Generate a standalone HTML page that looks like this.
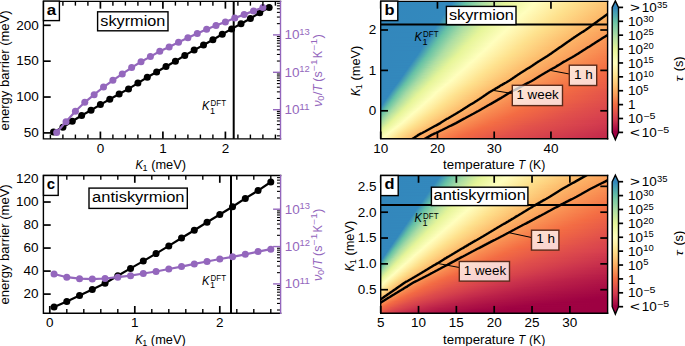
<!DOCTYPE html>
<html><head><meta charset="utf-8"><style>
html,body{margin:0;padding:0;background:#fff;}
svg{display:block;font-family:'Liberation Sans', sans-serif;}
</style></head><body>
<svg width="685" height="346" viewBox="0 0 685 346">
<defs><linearGradient id="b1"><stop offset="0.0000" stop-color="#3387bc"/><stop offset="0.3180" stop-color="#3389bd"/><stop offset="0.3794" stop-color="#66c2a5"/><stop offset="0.4276" stop-color="#94d4a4"/><stop offset="0.4737" stop-color="#b8e2a1"/><stop offset="0.5592" stop-color="#e7f59a"/><stop offset="0.6864" stop-color="#fffebe"/><stop offset="0.8421" stop-color="#fee491"/><stop offset="1.0000" stop-color="#fdc574"/></linearGradient>
<linearGradient id="b2"><stop offset="0.0000" stop-color="#3387bc"/><stop offset="0.3158" stop-color="#3389bd"/><stop offset="0.3772" stop-color="#69c3a5"/><stop offset="0.4561" stop-color="#aedea3"/><stop offset="0.5526" stop-color="#e6f598"/><stop offset="0.6798" stop-color="#ffffbe"/><stop offset="0.8531" stop-color="#fee18d"/><stop offset="1.0000" stop-color="#fdc372"/></linearGradient>
<linearGradient id="b3"><stop offset="0.0000" stop-color="#3387bc"/><stop offset="0.3114" stop-color="#3389bd"/><stop offset="0.3750" stop-color="#69c3a5"/><stop offset="0.4364" stop-color="#a2d9a4"/><stop offset="0.5088" stop-color="#d1ed9c"/><stop offset="0.5526" stop-color="#e7f59a"/><stop offset="0.6754" stop-color="#ffffbe"/><stop offset="0.8553" stop-color="#fee08b"/><stop offset="1.0000" stop-color="#fdc372"/></linearGradient>
<linearGradient id="b4"><stop offset="0.0000" stop-color="#3387bc"/><stop offset="0.3092" stop-color="#3389bd"/><stop offset="0.3706" stop-color="#66c2a5"/><stop offset="0.4232" stop-color="#99d6a4"/><stop offset="0.4890" stop-color="#c8e99e"/><stop offset="0.5482" stop-color="#e7f59a"/><stop offset="0.6711" stop-color="#ffffbe"/><stop offset="0.8421" stop-color="#fee18d"/><stop offset="1.0000" stop-color="#fdc171"/></linearGradient>
<linearGradient id="b5"><stop offset="0.0000" stop-color="#3387bc"/><stop offset="0.3070" stop-color="#3389bd"/><stop offset="0.3575" stop-color="#60bba8"/><stop offset="0.4013" stop-color="#89d0a4"/><stop offset="0.4671" stop-color="#bce4a0"/><stop offset="0.5417" stop-color="#e7f59a"/><stop offset="0.6689" stop-color="#fffebe"/><stop offset="0.8289" stop-color="#fee28f"/><stop offset="1.0000" stop-color="#fdbf6f"/></linearGradient>
<linearGradient id="b6"><stop offset="0.0000" stop-color="#3387bc"/><stop offset="0.3026" stop-color="#3389bd"/><stop offset="0.3640" stop-color="#66c2a5"/><stop offset="0.4167" stop-color="#99d6a4"/><stop offset="0.4671" stop-color="#bfe5a0"/><stop offset="0.5395" stop-color="#e7f59a"/><stop offset="0.6645" stop-color="#fffebe"/><stop offset="0.8158" stop-color="#fee491"/><stop offset="0.9803" stop-color="#fdc372"/><stop offset="1.0000" stop-color="#fdbf6f"/></linearGradient>
<linearGradient id="b7"><stop offset="0.0000" stop-color="#3387bc"/><stop offset="0.3004" stop-color="#3389bd"/><stop offset="0.3618" stop-color="#69c3a5"/><stop offset="0.4320" stop-color="#aadca4"/><stop offset="0.5219" stop-color="#e1f399"/><stop offset="0.5592" stop-color="#ecf7a1"/><stop offset="0.6601" stop-color="#fffebe"/><stop offset="0.8180" stop-color="#fee28f"/><stop offset="1.0000" stop-color="#fdbd6d"/></linearGradient>
<linearGradient id="b8"><stop offset="0.0000" stop-color="#3387bc"/><stop offset="0.2982" stop-color="#3389bd"/><stop offset="0.3553" stop-color="#66c2a5"/><stop offset="0.4254" stop-color="#a7dba4"/><stop offset="0.5088" stop-color="#ddf19a"/><stop offset="0.5351" stop-color="#e8f69b"/><stop offset="0.6535" stop-color="#fffebe"/><stop offset="0.8048" stop-color="#fee491"/><stop offset="0.9781" stop-color="#fdc171"/><stop offset="1.0000" stop-color="#fdbd6d"/></linearGradient>
<linearGradient id="b9"><stop offset="0.0000" stop-color="#3387bc"/><stop offset="0.2939" stop-color="#3389bd"/><stop offset="0.3553" stop-color="#69c3a5"/><stop offset="0.4211" stop-color="#a7dba4"/><stop offset="0.5132" stop-color="#e1f399"/><stop offset="0.5395" stop-color="#eaf79e"/><stop offset="0.6513" stop-color="#fffebe"/><stop offset="0.8070" stop-color="#fee28f"/><stop offset="0.9934" stop-color="#fdbd6d"/><stop offset="1.0000" stop-color="#fdbb6c"/></linearGradient>
<linearGradient id="b10"><stop offset="0.0000" stop-color="#3387bc"/><stop offset="0.2917" stop-color="#3389bd"/><stop offset="0.3509" stop-color="#69c3a5"/><stop offset="0.4145" stop-color="#a4daa4"/><stop offset="0.4956" stop-color="#daf09a"/><stop offset="0.5263" stop-color="#e8f69b"/><stop offset="0.6447" stop-color="#fffebe"/><stop offset="0.8004" stop-color="#fee28f"/><stop offset="0.9978" stop-color="#fdbb6c"/><stop offset="1.0000" stop-color="#fdbb6c"/></linearGradient>
<linearGradient id="b11"><stop offset="0.0000" stop-color="#3387bc"/><stop offset="0.2873" stop-color="#3389bd"/><stop offset="0.3465" stop-color="#66c2a5"/><stop offset="0.4013" stop-color="#9cd7a4"/><stop offset="0.4649" stop-color="#caea9e"/><stop offset="0.5175" stop-color="#e7f59a"/><stop offset="0.6382" stop-color="#fffebe"/><stop offset="0.8026" stop-color="#fee18d"/><stop offset="1.0000" stop-color="#fdb96a"/></linearGradient>
<linearGradient id="b12"><stop offset="0.0000" stop-color="#3387bc"/><stop offset="0.2851" stop-color="#3389bd"/><stop offset="0.3443" stop-color="#69c3a5"/><stop offset="0.4189" stop-color="#aedea3"/><stop offset="0.5110" stop-color="#e7f59a"/><stop offset="0.6338" stop-color="#fffebe"/><stop offset="0.7895" stop-color="#fee28f"/><stop offset="0.9825" stop-color="#fdbb6c"/><stop offset="1.0000" stop-color="#fdb768"/></linearGradient>
<linearGradient id="b13"><stop offset="0.0000" stop-color="#3387bc"/><stop offset="0.2807" stop-color="#3389bd"/><stop offset="0.3399" stop-color="#66c2a5"/><stop offset="0.3816" stop-color="#91d3a4"/><stop offset="0.4320" stop-color="#bae3a1"/><stop offset="0.5088" stop-color="#e7f59a"/><stop offset="0.6272" stop-color="#ffffbe"/><stop offset="0.7982" stop-color="#fee08b"/><stop offset="0.9978" stop-color="#fdb768"/><stop offset="1.0000" stop-color="#fdb768"/></linearGradient>
<linearGradient id="b14"><stop offset="0.0000" stop-color="#3387bc"/><stop offset="0.2785" stop-color="#3389bd"/><stop offset="0.3377" stop-color="#69c3a5"/><stop offset="0.3991" stop-color="#a4daa4"/><stop offset="0.4759" stop-color="#d8ef9b"/><stop offset="0.5044" stop-color="#e7f59a"/><stop offset="0.6228" stop-color="#fffebe"/><stop offset="0.7851" stop-color="#fee18d"/><stop offset="0.9934" stop-color="#fdb768"/><stop offset="1.0000" stop-color="#fdb567"/></linearGradient>
<linearGradient id="b15"><stop offset="0.0000" stop-color="#3387bc"/><stop offset="0.2763" stop-color="#3389bd"/><stop offset="0.3289" stop-color="#64c0a6"/><stop offset="0.4013" stop-color="#aadca4"/><stop offset="0.4956" stop-color="#e6f598"/><stop offset="0.6184" stop-color="#fffebe"/><stop offset="0.7807" stop-color="#fee18d"/><stop offset="0.9759" stop-color="#fdb96a"/><stop offset="1.0000" stop-color="#fdb567"/></linearGradient>
<linearGradient id="b16"><stop offset="0.0000" stop-color="#3387bc"/><stop offset="0.2719" stop-color="#3389bd"/><stop offset="0.3311" stop-color="#69c3a5"/><stop offset="0.4013" stop-color="#acdda4"/><stop offset="0.4912" stop-color="#e6f598"/><stop offset="0.6140" stop-color="#fffebe"/><stop offset="0.7675" stop-color="#fee28f"/><stop offset="0.9474" stop-color="#fdbd6d"/><stop offset="1.0000" stop-color="#fdb365"/></linearGradient>
<linearGradient id="b17"><stop offset="0.0000" stop-color="#3387bc"/><stop offset="0.2697" stop-color="#3389bd"/><stop offset="0.3268" stop-color="#66c2a5"/><stop offset="0.3794" stop-color="#9cd7a4"/><stop offset="0.4408" stop-color="#caea9e"/><stop offset="0.4934" stop-color="#e7f59a"/><stop offset="0.6096" stop-color="#fffebe"/><stop offset="0.7697" stop-color="#fee18d"/><stop offset="0.9737" stop-color="#fdb768"/><stop offset="1.0000" stop-color="#fdb163"/></linearGradient>
<linearGradient id="b18"><stop offset="0.0000" stop-color="#3387bc"/><stop offset="0.2675" stop-color="#3389bd"/><stop offset="0.3224" stop-color="#66c2a5"/><stop offset="0.3882" stop-color="#a7dba4"/><stop offset="0.4715" stop-color="#dff299"/><stop offset="0.4934" stop-color="#e8f69b"/><stop offset="0.6053" stop-color="#fffebe"/><stop offset="0.7566" stop-color="#fee28f"/><stop offset="0.9452" stop-color="#fdbb6c"/><stop offset="1.0000" stop-color="#fdb163"/></linearGradient>
<linearGradient id="b19"><stop offset="0.0000" stop-color="#3387bc"/><stop offset="0.2632" stop-color="#3389bd"/><stop offset="0.3224" stop-color="#69c3a5"/><stop offset="0.3816" stop-color="#a4daa4"/><stop offset="0.4561" stop-color="#d8ef9b"/><stop offset="0.4846" stop-color="#e7f59a"/><stop offset="0.6009" stop-color="#fffebe"/><stop offset="0.7588" stop-color="#fee18d"/><stop offset="0.9605" stop-color="#fdb768"/><stop offset="1.0000" stop-color="#fdaf62"/></linearGradient>
<linearGradient id="b20"><stop offset="0.0000" stop-color="#3387bc"/><stop offset="0.2610" stop-color="#3389bd"/><stop offset="0.3180" stop-color="#69c3a5"/><stop offset="0.3904" stop-color="#aedea3"/><stop offset="0.4781" stop-color="#e6f598"/><stop offset="0.5943" stop-color="#ffffbe"/><stop offset="0.7610" stop-color="#fee08b"/><stop offset="0.9342" stop-color="#fdbb6c"/><stop offset="1.0000" stop-color="#fdaf62"/></linearGradient>
<linearGradient id="b21"><stop offset="0.0000" stop-color="#3387bc"/><stop offset="0.2588" stop-color="#3389bd"/><stop offset="0.3136" stop-color="#66c2a5"/><stop offset="0.3684" stop-color="#9fd8a4"/><stop offset="0.4408" stop-color="#d3ed9c"/><stop offset="0.4781" stop-color="#e7f59a"/><stop offset="0.5899" stop-color="#ffffbe"/><stop offset="0.7632" stop-color="#fede89"/><stop offset="0.9496" stop-color="#fdb768"/><stop offset="1.0000" stop-color="#fdad60"/></linearGradient>
<linearGradient id="b22"><stop offset="0.0000" stop-color="#3387bc"/><stop offset="0.2566" stop-color="#3389bd"/><stop offset="0.3114" stop-color="#66c2a5"/><stop offset="0.3596" stop-color="#99d6a4"/><stop offset="0.4057" stop-color="#bfe5a0"/><stop offset="0.4715" stop-color="#e7f59a"/><stop offset="0.5877" stop-color="#fffebe"/><stop offset="0.7281" stop-color="#fee491"/><stop offset="0.8904" stop-color="#fdc171"/><stop offset="1.0000" stop-color="#fdad60"/></linearGradient>
<linearGradient id="b23"><stop offset="0.0000" stop-color="#3387bc"/><stop offset="0.2522" stop-color="#3389bd"/><stop offset="0.3114" stop-color="#6bc4a5"/><stop offset="0.3794" stop-color="#aedea3"/><stop offset="0.4671" stop-color="#e7f59a"/><stop offset="0.5833" stop-color="#fffebe"/><stop offset="0.7303" stop-color="#fee28f"/><stop offset="0.9364" stop-color="#fdb768"/><stop offset="1.0000" stop-color="#fcaa5f"/></linearGradient>
<linearGradient id="b24"><stop offset="0.0000" stop-color="#3387bc"/><stop offset="0.2500" stop-color="#3389bd"/><stop offset="0.3048" stop-color="#66c2a5"/><stop offset="0.3553" stop-color="#9cd7a4"/><stop offset="0.4298" stop-color="#d3ed9c"/><stop offset="0.4649" stop-color="#e7f59a"/><stop offset="0.5789" stop-color="#fffebe"/><stop offset="0.7259" stop-color="#fee28f"/><stop offset="0.8991" stop-color="#fdbd6d"/><stop offset="1.0000" stop-color="#fcaa5f"/></linearGradient>
<linearGradient id="b25"><stop offset="0.0000" stop-color="#3387bc"/><stop offset="0.2478" stop-color="#3389bd"/><stop offset="0.3048" stop-color="#6bc4a5"/><stop offset="0.3728" stop-color="#aedea3"/><stop offset="0.4583" stop-color="#e6f598"/><stop offset="0.5724" stop-color="#ffffbe"/><stop offset="0.7412" stop-color="#fede89"/><stop offset="0.9364" stop-color="#fdb567"/><stop offset="1.0000" stop-color="#fca85e"/></linearGradient>
<linearGradient id="b26"><stop offset="0.0000" stop-color="#3387bc"/><stop offset="0.2434" stop-color="#3387bc"/><stop offset="0.3026" stop-color="#6bc4a5"/><stop offset="0.3575" stop-color="#a4daa4"/><stop offset="0.4408" stop-color="#dff299"/><stop offset="0.4627" stop-color="#e8f69b"/><stop offset="0.5680" stop-color="#ffffbe"/><stop offset="0.7368" stop-color="#fede89"/><stop offset="0.9189" stop-color="#fdb768"/><stop offset="1.0000" stop-color="#fca85e"/></linearGradient>
<linearGradient id="b27"><stop offset="0.0000" stop-color="#3387bc"/><stop offset="0.2412" stop-color="#3389bd"/><stop offset="0.2961" stop-color="#69c3a5"/><stop offset="0.3684" stop-color="#b1dfa3"/><stop offset="0.4518" stop-color="#e7f59a"/><stop offset="0.5658" stop-color="#fffebe"/><stop offset="0.7149" stop-color="#fee18d"/><stop offset="0.9232" stop-color="#fdb567"/><stop offset="1.0000" stop-color="#fca55d"/></linearGradient>
<linearGradient id="b28"><stop offset="0.0000" stop-color="#3387bc"/><stop offset="0.2390" stop-color="#3389bd"/><stop offset="0.2961" stop-color="#6bc4a5"/><stop offset="0.3531" stop-color="#a7dba4"/><stop offset="0.4364" stop-color="#e1f399"/><stop offset="0.4627" stop-color="#eaf79e"/><stop offset="0.5592" stop-color="#ffffbe"/><stop offset="0.7193" stop-color="#fee08b"/><stop offset="0.9057" stop-color="#fdb768"/><stop offset="1.0000" stop-color="#fca55d"/></linearGradient>
<linearGradient id="b29"><stop offset="0.0000" stop-color="#3387bc"/><stop offset="0.2346" stop-color="#3387bc"/><stop offset="0.2873" stop-color="#66c2a5"/><stop offset="0.3443" stop-color="#a2d9a4"/><stop offset="0.4145" stop-color="#d6ee9b"/><stop offset="0.4452" stop-color="#e7f59a"/><stop offset="0.5548" stop-color="#fffebe"/><stop offset="0.7193" stop-color="#fede89"/><stop offset="0.9101" stop-color="#fdb567"/><stop offset="1.0000" stop-color="#fba35c"/></linearGradient>
<linearGradient id="b30"><stop offset="0.0000" stop-color="#3387bc"/><stop offset="0.2325" stop-color="#3389bd"/><stop offset="0.2895" stop-color="#6bc4a5"/><stop offset="0.3465" stop-color="#a7dba4"/><stop offset="0.4211" stop-color="#ddf19a"/><stop offset="0.4452" stop-color="#e8f69b"/><stop offset="0.5504" stop-color="#fffebe"/><stop offset="0.7083" stop-color="#fee08b"/><stop offset="0.8838" stop-color="#fdb96a"/><stop offset="1.0000" stop-color="#fba35c"/></linearGradient>
<linearGradient id="b31"><stop offset="0.0000" stop-color="#3387bc"/><stop offset="0.2303" stop-color="#3389bd"/><stop offset="0.2763" stop-color="#62bda7"/><stop offset="0.3004" stop-color="#7ccaa5"/><stop offset="0.3575" stop-color="#b3e0a2"/><stop offset="0.4342" stop-color="#e6f598"/><stop offset="0.5461" stop-color="#fffebe"/><stop offset="0.6886" stop-color="#fee28f"/><stop offset="0.8575" stop-color="#fdbd6d"/><stop offset="1.0000" stop-color="#fba05b"/></linearGradient>
<linearGradient id="b32"><stop offset="0.0000" stop-color="#3387bc"/><stop offset="0.2259" stop-color="#3387bc"/><stop offset="0.2763" stop-color="#64c0a6"/><stop offset="0.3333" stop-color="#a2d9a4"/><stop offset="0.3991" stop-color="#d3ed9c"/><stop offset="0.4342" stop-color="#e7f59a"/><stop offset="0.5417" stop-color="#fffebe"/><stop offset="0.6952" stop-color="#fee08b"/><stop offset="0.8816" stop-color="#fdb768"/><stop offset="1.0000" stop-color="#fb9d59"/></linearGradient>
<linearGradient id="b33"><stop offset="0.0000" stop-color="#3387bc"/><stop offset="0.2237" stop-color="#3389bd"/><stop offset="0.2741" stop-color="#64c0a6"/><stop offset="0.3136" stop-color="#91d3a4"/><stop offset="0.3618" stop-color="#bce4a0"/><stop offset="0.4276" stop-color="#e7f59a"/><stop offset="0.5373" stop-color="#fffebe"/><stop offset="0.6842" stop-color="#fee18d"/><stop offset="0.8838" stop-color="#fdb567"/><stop offset="1.0000" stop-color="#fb9d59"/></linearGradient>
<linearGradient id="b34"><stop offset="0.0000" stop-color="#3387bc"/><stop offset="0.2215" stop-color="#3389bd"/><stop offset="0.2719" stop-color="#66c2a5"/><stop offset="0.3180" stop-color="#99d6a4"/><stop offset="0.3640" stop-color="#c1e6a0"/><stop offset="0.4232" stop-color="#e7f59a"/><stop offset="0.5329" stop-color="#fffebe"/><stop offset="0.6711" stop-color="#fee28f"/><stop offset="0.8377" stop-color="#fdbd6d"/><stop offset="0.9912" stop-color="#fb9d59"/><stop offset="1.0000" stop-color="#fa9b58"/></linearGradient>
<linearGradient id="b35"><stop offset="0.0000" stop-color="#3387bc"/><stop offset="0.2171" stop-color="#3389bd"/><stop offset="0.2697" stop-color="#69c3a5"/><stop offset="0.3333" stop-color="#acdda4"/><stop offset="0.4167" stop-color="#e6f598"/><stop offset="0.5263" stop-color="#fffebe"/><stop offset="0.6732" stop-color="#fee18d"/><stop offset="0.8509" stop-color="#fdb96a"/><stop offset="1.0000" stop-color="#fa9b58"/></linearGradient>
<linearGradient id="b36"><stop offset="0.0000" stop-color="#3387bc"/><stop offset="0.2149" stop-color="#3389bd"/><stop offset="0.2654" stop-color="#66c2a5"/><stop offset="0.3158" stop-color="#9fd8a4"/><stop offset="0.3728" stop-color="#cdeb9d"/><stop offset="0.4167" stop-color="#e7f59a"/><stop offset="0.5219" stop-color="#fffebe"/><stop offset="0.6601" stop-color="#fee28f"/><stop offset="0.8246" stop-color="#fdbd6d"/><stop offset="0.9781" stop-color="#fb9d59"/><stop offset="1.0000" stop-color="#fa9857"/></linearGradient>
<linearGradient id="b37"><stop offset="0.0000" stop-color="#3387bc"/><stop offset="0.2105" stop-color="#3387bc"/><stop offset="0.2632" stop-color="#69c3a5"/><stop offset="0.3289" stop-color="#aedea3"/><stop offset="0.4101" stop-color="#e7f59a"/><stop offset="0.5175" stop-color="#fffebe"/><stop offset="0.6535" stop-color="#fee28f"/><stop offset="0.8355" stop-color="#fdb96a"/><stop offset="1.0000" stop-color="#fa9857"/></linearGradient>
<linearGradient id="b38"><stop offset="0.0000" stop-color="#3387bc"/><stop offset="0.2083" stop-color="#3389bd"/><stop offset="0.2588" stop-color="#66c2a5"/><stop offset="0.2982" stop-color="#94d4a4"/><stop offset="0.3399" stop-color="#bae3a1"/><stop offset="0.4057" stop-color="#e7f59a"/><stop offset="0.5132" stop-color="#fffebe"/><stop offset="0.6491" stop-color="#fee28f"/><stop offset="0.8114" stop-color="#fdbd6d"/><stop offset="0.9518" stop-color="#fba05b"/><stop offset="1.0000" stop-color="#fa9656"/></linearGradient>
<linearGradient id="b39"><stop offset="0.0000" stop-color="#3387bc"/><stop offset="0.2061" stop-color="#3389bd"/><stop offset="0.2566" stop-color="#69c3a5"/><stop offset="0.3158" stop-color="#aadca4"/><stop offset="0.4013" stop-color="#e7f59a"/><stop offset="0.5088" stop-color="#fffebe"/><stop offset="0.6425" stop-color="#fee28f"/><stop offset="0.8224" stop-color="#fdb96a"/><stop offset="0.9956" stop-color="#fa9656"/><stop offset="1.0000" stop-color="#f99355"/></linearGradient>
<linearGradient id="b40"><stop offset="0.0000" stop-color="#3387bc"/><stop offset="0.2018" stop-color="#3387bc"/><stop offset="0.2522" stop-color="#66c2a5"/><stop offset="0.3070" stop-color="#a4daa4"/><stop offset="0.3772" stop-color="#daf09a"/><stop offset="0.4035" stop-color="#e8f69b"/><stop offset="0.5044" stop-color="#fffebe"/><stop offset="0.6250" stop-color="#fee593"/><stop offset="0.7610" stop-color="#fdc574"/><stop offset="0.9232" stop-color="#fba35c"/><stop offset="1.0000" stop-color="#f99355"/></linearGradient>
<linearGradient id="b41"><stop offset="0.0000" stop-color="#3387bc"/><stop offset="0.1996" stop-color="#3389bd"/><stop offset="0.2522" stop-color="#6bc4a5"/><stop offset="0.3114" stop-color="#acdda4"/><stop offset="0.3947" stop-color="#e7f59a"/><stop offset="0.4978" stop-color="#fffebe"/><stop offset="0.6447" stop-color="#fee08b"/><stop offset="0.8224" stop-color="#fdb768"/><stop offset="0.9956" stop-color="#f99355"/><stop offset="1.0000" stop-color="#f99153"/></linearGradient>
<linearGradient id="b42"><stop offset="0.0000" stop-color="#3387bc"/><stop offset="0.1974" stop-color="#3389bd"/><stop offset="0.2456" stop-color="#66c2a5"/><stop offset="0.3026" stop-color="#a7dba4"/><stop offset="0.3794" stop-color="#e1f399"/><stop offset="0.3991" stop-color="#e9f69d"/><stop offset="0.4934" stop-color="#fffebe"/><stop offset="0.6272" stop-color="#fee28f"/><stop offset="0.7939" stop-color="#fdbb6c"/><stop offset="0.9474" stop-color="#fa9b58"/><stop offset="1.0000" stop-color="#f99153"/></linearGradient>
<linearGradient id="b43"><stop offset="0.0000" stop-color="#3387bc"/><stop offset="0.1930" stop-color="#3387bc"/><stop offset="0.2346" stop-color="#5eb9a9"/><stop offset="0.2566" stop-color="#76c8a5"/><stop offset="0.2961" stop-color="#a4daa4"/><stop offset="0.3618" stop-color="#d8ef9b"/><stop offset="0.3882" stop-color="#e7f59a"/><stop offset="0.4868" stop-color="#ffffbe"/><stop offset="0.6404" stop-color="#fede89"/><stop offset="0.8268" stop-color="#fdb365"/><stop offset="1.0000" stop-color="#f98e52"/></linearGradient>
<linearGradient id="b44"><stop offset="0.0000" stop-color="#3387bc"/><stop offset="0.1908" stop-color="#3389bd"/><stop offset="0.2412" stop-color="#69c3a5"/><stop offset="0.3004" stop-color="#acdda4"/><stop offset="0.3816" stop-color="#e7f59a"/><stop offset="0.4846" stop-color="#fffebe"/><stop offset="0.6228" stop-color="#fee18d"/><stop offset="0.8026" stop-color="#fdb768"/><stop offset="0.9846" stop-color="#f99153"/><stop offset="1.0000" stop-color="#f98e52"/></linearGradient>
<linearGradient id="b45"><stop offset="0.0000" stop-color="#3387bc"/><stop offset="0.1886" stop-color="#3389bd"/><stop offset="0.2346" stop-color="#64c0a6"/><stop offset="0.2917" stop-color="#a7dba4"/><stop offset="0.3706" stop-color="#e4f498"/><stop offset="0.4825" stop-color="#fffebe"/><stop offset="0.6096" stop-color="#fee28f"/><stop offset="0.7873" stop-color="#fdb96a"/><stop offset="0.9408" stop-color="#fa9857"/><stop offset="1.0000" stop-color="#f88c51"/></linearGradient>
<linearGradient id="b46"><stop offset="0.0000" stop-color="#3387bc"/><stop offset="0.1842" stop-color="#3387bc"/><stop offset="0.2215" stop-color="#5ab4ab"/><stop offset="0.2368" stop-color="#6bc4a5"/><stop offset="0.2939" stop-color="#acdda4"/><stop offset="0.3706" stop-color="#e6f598"/><stop offset="0.4759" stop-color="#fffebe"/><stop offset="0.6053" stop-color="#fee28f"/><stop offset="0.7719" stop-color="#fdbb6c"/><stop offset="0.9211" stop-color="#fa9b58"/><stop offset="1.0000" stop-color="#f88c51"/></linearGradient>
<linearGradient id="b47"><stop offset="0.0000" stop-color="#3387bc"/><stop offset="0.1820" stop-color="#3389bd"/><stop offset="0.2303" stop-color="#66c2a5"/><stop offset="0.2851" stop-color="#a7dba4"/><stop offset="0.3531" stop-color="#ddf19a"/><stop offset="0.3750" stop-color="#e8f69b"/><stop offset="0.4715" stop-color="#fffebe"/><stop offset="0.5943" stop-color="#fee491"/><stop offset="0.7456" stop-color="#fdbf6f"/><stop offset="0.8904" stop-color="#fba05b"/><stop offset="1.0000" stop-color="#f88950"/></linearGradient>
<linearGradient id="b48"><stop offset="0.0000" stop-color="#3387bc"/><stop offset="0.1798" stop-color="#3389bd"/><stop offset="0.2281" stop-color="#69c3a5"/><stop offset="0.2895" stop-color="#aedea3"/><stop offset="0.3640" stop-color="#e6f598"/><stop offset="0.4649" stop-color="#ffffbe"/><stop offset="0.6075" stop-color="#fee08b"/><stop offset="0.7785" stop-color="#fdb768"/><stop offset="0.9715" stop-color="#f98e52"/><stop offset="1.0000" stop-color="#f88950"/></linearGradient>
<linearGradient id="b49"><stop offset="0.0000" stop-color="#3387bc"/><stop offset="0.1776" stop-color="#3389bd"/><stop offset="0.2237" stop-color="#66c2a5"/><stop offset="0.2807" stop-color="#aadca4"/><stop offset="0.3553" stop-color="#e4f498"/><stop offset="0.4627" stop-color="#fffebe"/><stop offset="0.5899" stop-color="#fee28f"/><stop offset="0.7632" stop-color="#fdb96a"/><stop offset="0.9123" stop-color="#fa9857"/><stop offset="1.0000" stop-color="#f8864f"/></linearGradient>
<linearGradient id="b50"><stop offset="0.0000" stop-color="#3387bc"/><stop offset="0.1732" stop-color="#3387bc"/><stop offset="0.2149" stop-color="#60bba8"/><stop offset="0.2390" stop-color="#7ecca5"/><stop offset="0.2851" stop-color="#b1dfa3"/><stop offset="0.3575" stop-color="#e7f59a"/><stop offset="0.4583" stop-color="#fffebe"/><stop offset="0.5855" stop-color="#fee28f"/><stop offset="0.7544" stop-color="#fdb96a"/><stop offset="0.9298" stop-color="#f99355"/><stop offset="1.0000" stop-color="#f8864f"/></linearGradient>
<linearGradient id="b51"><stop offset="0.0000" stop-color="#3387bc"/><stop offset="0.1711" stop-color="#3389bd"/><stop offset="0.2171" stop-color="#66c2a5"/><stop offset="0.2763" stop-color="#acdda4"/><stop offset="0.3531" stop-color="#e7f59a"/><stop offset="0.4539" stop-color="#fffebe"/><stop offset="0.5789" stop-color="#fee28f"/><stop offset="0.7412" stop-color="#fdbb6c"/><stop offset="0.8750" stop-color="#fb9d59"/><stop offset="1.0000" stop-color="#f7844e"/></linearGradient>
<linearGradient id="b52"><stop offset="0.0000" stop-color="#3387bc"/><stop offset="0.1689" stop-color="#3389bd"/><stop offset="0.2105" stop-color="#62bda7"/><stop offset="0.2478" stop-color="#91d3a4"/><stop offset="0.2939" stop-color="#bfe5a0"/><stop offset="0.3509" stop-color="#e7f59a"/><stop offset="0.4474" stop-color="#fffebe"/><stop offset="0.5746" stop-color="#fee28f"/><stop offset="0.7259" stop-color="#fdbd6d"/><stop offset="0.8553" stop-color="#fba05b"/><stop offset="1.0000" stop-color="#f7844e"/></linearGradient>
<linearGradient id="b53"><stop offset="0.0000" stop-color="#3387bc"/><stop offset="0.1645" stop-color="#3389bd"/><stop offset="0.2127" stop-color="#69c3a5"/><stop offset="0.2741" stop-color="#b1dfa3"/><stop offset="0.3443" stop-color="#e6f598"/><stop offset="0.4408" stop-color="#ffffbe"/><stop offset="0.5811" stop-color="#fee08b"/><stop offset="0.7368" stop-color="#fdb96a"/><stop offset="0.8969" stop-color="#fa9656"/><stop offset="1.0000" stop-color="#f7814c"/></linearGradient>
<linearGradient id="b54"><stop offset="0.0000" stop-color="#3387bc"/><stop offset="0.1623" stop-color="#3389bd"/><stop offset="0.2061" stop-color="#64c0a6"/><stop offset="0.2654" stop-color="#acdda4"/><stop offset="0.3399" stop-color="#e6f598"/><stop offset="0.4364" stop-color="#ffffbe"/><stop offset="0.5811" stop-color="#fede89"/><stop offset="0.7478" stop-color="#fdb567"/><stop offset="0.9671" stop-color="#f8864f"/><stop offset="1.0000" stop-color="#f7814c"/></linearGradient>
<linearGradient id="b55"><stop offset="0.0000" stop-color="#3387bc"/><stop offset="0.1601" stop-color="#3389bd"/><stop offset="0.1952" stop-color="#5cb7aa"/><stop offset="0.2083" stop-color="#6bc4a5"/><stop offset="0.2654" stop-color="#aedea3"/><stop offset="0.3355" stop-color="#e6f598"/><stop offset="0.4320" stop-color="#ffffbe"/><stop offset="0.5636" stop-color="#fee18d"/><stop offset="0.7325" stop-color="#fdb768"/><stop offset="0.9189" stop-color="#f98e52"/><stop offset="1.0000" stop-color="#f67f4b"/></linearGradient>
<linearGradient id="b56"><stop offset="0.0000" stop-color="#3387bc"/><stop offset="0.1557" stop-color="#3389bd"/><stop offset="0.2018" stop-color="#66c2a5"/><stop offset="0.2588" stop-color="#acdda4"/><stop offset="0.3311" stop-color="#e6f598"/><stop offset="0.4276" stop-color="#ffffbe"/><stop offset="0.5636" stop-color="#fee08b"/><stop offset="0.7346" stop-color="#fdb567"/><stop offset="0.9386" stop-color="#f88950"/><stop offset="1.0000" stop-color="#f67c4a"/></linearGradient>
<linearGradient id="b57"><stop offset="0.0000" stop-color="#3387bc"/><stop offset="0.1535" stop-color="#3389bd"/><stop offset="0.1974" stop-color="#66c2a5"/><stop offset="0.2544" stop-color="#acdda4"/><stop offset="0.3268" stop-color="#e6f598"/><stop offset="0.4232" stop-color="#fffebe"/><stop offset="0.5461" stop-color="#fee28f"/><stop offset="0.6930" stop-color="#fdbd6d"/><stop offset="0.8202" stop-color="#fba05b"/><stop offset="0.9737" stop-color="#f7814c"/><stop offset="1.0000" stop-color="#f67c4a"/></linearGradient>
<linearGradient id="b58"><stop offset="0.0000" stop-color="#3387bc"/><stop offset="0.1491" stop-color="#3389bd"/><stop offset="0.1952" stop-color="#69c3a5"/><stop offset="0.2544" stop-color="#aedea3"/><stop offset="0.3114" stop-color="#dff299"/><stop offset="0.3289" stop-color="#e8f69b"/><stop offset="0.4189" stop-color="#fffebe"/><stop offset="0.5395" stop-color="#fee28f"/><stop offset="0.6864" stop-color="#fdbd6d"/><stop offset="0.8026" stop-color="#fba35c"/><stop offset="0.9627" stop-color="#f7814c"/><stop offset="1.0000" stop-color="#f67a49"/></linearGradient>
<linearGradient id="b59"><stop offset="0.0000" stop-color="#3387bc"/><stop offset="0.1469" stop-color="#3389bd"/><stop offset="0.1908" stop-color="#66c2a5"/><stop offset="0.2478" stop-color="#acdda4"/><stop offset="0.3070" stop-color="#dff299"/><stop offset="0.3246" stop-color="#e8f69b"/><stop offset="0.4123" stop-color="#ffffbe"/><stop offset="0.5461" stop-color="#fee08b"/><stop offset="0.7127" stop-color="#fdb567"/><stop offset="0.9145" stop-color="#f88950"/><stop offset="1.0000" stop-color="#f67a49"/></linearGradient>
<linearGradient id="b60"><stop offset="0.0000" stop-color="#3387bc"/><stop offset="0.1425" stop-color="#3387bc"/><stop offset="0.1776" stop-color="#5cb7aa"/><stop offset="0.1908" stop-color="#6bc4a5"/><stop offset="0.2434" stop-color="#acdda4"/><stop offset="0.3026" stop-color="#dff299"/><stop offset="0.3202" stop-color="#e8f69b"/><stop offset="0.4079" stop-color="#fffebe"/><stop offset="0.5395" stop-color="#fee08b"/><stop offset="0.7061" stop-color="#fdb567"/><stop offset="0.9057" stop-color="#f88950"/><stop offset="1.0000" stop-color="#f57748"/></linearGradient>
<linearGradient id="b61"><stop offset="0.0000" stop-color="#3387bc"/><stop offset="0.1404" stop-color="#3389bd"/><stop offset="0.1798" stop-color="#62bda7"/><stop offset="0.2193" stop-color="#97d5a4"/><stop offset="0.2632" stop-color="#c3e79f"/><stop offset="0.3114" stop-color="#e7f59a"/><stop offset="0.4035" stop-color="#fffebe"/><stop offset="0.5219" stop-color="#fee28f"/><stop offset="0.6732" stop-color="#fdbb6c"/><stop offset="0.8004" stop-color="#fb9d59"/><stop offset="0.9649" stop-color="#f67c4a"/><stop offset="1.0000" stop-color="#f57748"/></linearGradient>
<linearGradient id="b62"><stop offset="0.0000" stop-color="#3387bc"/><stop offset="0.1360" stop-color="#3387bc"/><stop offset="0.1776" stop-color="#64c0a6"/><stop offset="0.2412" stop-color="#b3e0a2"/><stop offset="0.3048" stop-color="#e6f598"/><stop offset="0.3969" stop-color="#ffffbe"/><stop offset="0.5219" stop-color="#fee18d"/><stop offset="0.6754" stop-color="#fdb96a"/><stop offset="0.8136" stop-color="#fa9857"/><stop offset="0.9737" stop-color="#f67a49"/><stop offset="1.0000" stop-color="#f57547"/></linearGradient>
<linearGradient id="b63"><stop offset="0.0000" stop-color="#3387bc"/><stop offset="0.1338" stop-color="#3389bd"/><stop offset="0.1776" stop-color="#69c3a5"/><stop offset="0.2325" stop-color="#acdda4"/><stop offset="0.2807" stop-color="#d8ef9b"/><stop offset="0.3026" stop-color="#e7f59a"/><stop offset="0.3925" stop-color="#fffebe"/><stop offset="0.5219" stop-color="#fee08b"/><stop offset="0.6689" stop-color="#fdb96a"/><stop offset="0.8070" stop-color="#fa9857"/><stop offset="0.9803" stop-color="#f57748"/><stop offset="1.0000" stop-color="#f57245"/></linearGradient>
<linearGradient id="b64"><stop offset="0.0000" stop-color="#3387bc"/><stop offset="0.1316" stop-color="#3389bd"/><stop offset="0.1732" stop-color="#66c2a5"/><stop offset="0.2127" stop-color="#9cd7a4"/><stop offset="0.2675" stop-color="#d1ed9c"/><stop offset="0.2982" stop-color="#e7f59a"/><stop offset="0.3882" stop-color="#fffebe"/><stop offset="0.5044" stop-color="#fee28f"/><stop offset="0.6535" stop-color="#fdbb6c"/><stop offset="0.7785" stop-color="#fb9d59"/><stop offset="0.9145" stop-color="#f7814c"/><stop offset="1.0000" stop-color="#f57245"/></linearGradient>
<linearGradient id="b65"><stop offset="0.0000" stop-color="#3387bc"/><stop offset="0.1272" stop-color="#3387bc"/><stop offset="0.1645" stop-color="#60bba8"/><stop offset="0.1754" stop-color="#6ec5a5"/><stop offset="0.2325" stop-color="#b5e1a2"/><stop offset="0.2939" stop-color="#e7f59a"/><stop offset="0.3838" stop-color="#fffebe"/><stop offset="0.4934" stop-color="#fee491"/><stop offset="0.6228" stop-color="#fdc171"/><stop offset="0.7500" stop-color="#fba35c"/><stop offset="0.8925" stop-color="#f7844e"/><stop offset="1.0000" stop-color="#f47044"/></linearGradient>
<linearGradient id="b66"><stop offset="0.0000" stop-color="#3387bc"/><stop offset="0.1250" stop-color="#3389bd"/><stop offset="0.1667" stop-color="#66c2a5"/><stop offset="0.2171" stop-color="#aadca4"/><stop offset="0.2829" stop-color="#e4f498"/><stop offset="0.3794" stop-color="#fffebe"/><stop offset="0.4934" stop-color="#fee28f"/><stop offset="0.6404" stop-color="#fdbb6c"/><stop offset="0.7741" stop-color="#fa9b58"/><stop offset="0.9386" stop-color="#f67a49"/><stop offset="1.0000" stop-color="#f47044"/></linearGradient>
<linearGradient id="b67"><stop offset="0.0000" stop-color="#3387bc"/><stop offset="0.1206" stop-color="#3387bc"/><stop offset="0.1645" stop-color="#69c3a5"/><stop offset="0.2325" stop-color="#bce4a0"/><stop offset="0.2851" stop-color="#e7f59a"/><stop offset="0.3750" stop-color="#fffebe"/><stop offset="0.4825" stop-color="#fee491"/><stop offset="0.6250" stop-color="#fdbd6d"/><stop offset="0.7566" stop-color="#fb9d59"/><stop offset="0.9167" stop-color="#f67c4a"/><stop offset="1.0000" stop-color="#f46d43"/></linearGradient>
<linearGradient id="b68"><stop offset="0.0000" stop-color="#3387bc"/><stop offset="0.1184" stop-color="#3389bd"/><stop offset="0.1601" stop-color="#66c2a5"/><stop offset="0.2039" stop-color="#a2d9a4"/><stop offset="0.2522" stop-color="#d1ed9c"/><stop offset="0.2829" stop-color="#e7f59a"/><stop offset="0.3684" stop-color="#fffebe"/><stop offset="0.4934" stop-color="#fee08b"/><stop offset="0.6360" stop-color="#fdb96a"/><stop offset="0.7807" stop-color="#fa9656"/><stop offset="0.9539" stop-color="#f57547"/><stop offset="1.0000" stop-color="#f46d43"/></linearGradient>
<linearGradient id="b69"><stop offset="0.0000" stop-color="#3387bc"/><stop offset="0.1162" stop-color="#3389bd"/><stop offset="0.1579" stop-color="#69c3a5"/><stop offset="0.2105" stop-color="#aedea3"/><stop offset="0.2763" stop-color="#e7f59a"/><stop offset="0.3640" stop-color="#fffebe"/><stop offset="0.4759" stop-color="#fee28f"/><stop offset="0.6206" stop-color="#fdbb6c"/><stop offset="0.7412" stop-color="#fb9d59"/><stop offset="0.8860" stop-color="#f67f4b"/><stop offset="1.0000" stop-color="#f36b43"/></linearGradient>
<linearGradient id="b70"><stop offset="0.0000" stop-color="#3387bc"/><stop offset="0.1118" stop-color="#3387bc"/><stop offset="0.1513" stop-color="#64c0a6"/><stop offset="0.1974" stop-color="#a4daa4"/><stop offset="0.2632" stop-color="#e1f399"/><stop offset="0.2851" stop-color="#ebf7a0"/><stop offset="0.3596" stop-color="#fffebe"/><stop offset="0.4649" stop-color="#fee491"/><stop offset="0.5899" stop-color="#fdc171"/><stop offset="0.7127" stop-color="#fba35c"/><stop offset="0.8509" stop-color="#f7844e"/><stop offset="1.0000" stop-color="#f36b43"/></linearGradient>
<linearGradient id="b71"><stop offset="0.0000" stop-color="#3387bc"/><stop offset="0.1096" stop-color="#3389bd"/><stop offset="0.1513" stop-color="#69c3a5"/><stop offset="0.1952" stop-color="#a4daa4"/><stop offset="0.2368" stop-color="#cfec9d"/><stop offset="0.2697" stop-color="#e7f59a"/><stop offset="0.3531" stop-color="#fffebe"/><stop offset="0.4649" stop-color="#fee28f"/><stop offset="0.6228" stop-color="#fdb768"/><stop offset="0.8026" stop-color="#f88c51"/><stop offset="0.9846" stop-color="#f36b43"/><stop offset="1.0000" stop-color="#f26944"/></linearGradient>
<linearGradient id="b72"><stop offset="0.0000" stop-color="#3387bc"/><stop offset="0.1053" stop-color="#3387bc"/><stop offset="0.1469" stop-color="#69c3a5"/><stop offset="0.1996" stop-color="#aedea3"/><stop offset="0.2544" stop-color="#e1f399"/><stop offset="0.2763" stop-color="#ebf7a0"/><stop offset="0.3487" stop-color="#fffebe"/><stop offset="0.4693" stop-color="#fee08b"/><stop offset="0.6162" stop-color="#fdb768"/><stop offset="0.7719" stop-color="#f99153"/><stop offset="0.9189" stop-color="#f57547"/><stop offset="1.0000" stop-color="#f26944"/></linearGradient>
<linearGradient id="b73"><stop offset="0.0000" stop-color="#3387bc"/><stop offset="0.1031" stop-color="#3389bd"/><stop offset="0.1425" stop-color="#66c2a5"/><stop offset="0.1908" stop-color="#aadca4"/><stop offset="0.2500" stop-color="#e1f399"/><stop offset="0.2719" stop-color="#ebf7a0"/><stop offset="0.3443" stop-color="#fffebe"/><stop offset="0.4474" stop-color="#fee491"/><stop offset="0.5768" stop-color="#fdbf6f"/><stop offset="0.6996" stop-color="#fba05b"/><stop offset="0.8509" stop-color="#f67f4b"/><stop offset="0.9803" stop-color="#f26944"/><stop offset="1.0000" stop-color="#f06744"/></linearGradient>
<linearGradient id="b74"><stop offset="0.0000" stop-color="#3387bc"/><stop offset="0.1009" stop-color="#3389bd"/><stop offset="0.1360" stop-color="#62bda7"/><stop offset="0.1776" stop-color="#9cd7a4"/><stop offset="0.2346" stop-color="#d8ef9b"/><stop offset="0.2588" stop-color="#e8f69b"/><stop offset="0.3377" stop-color="#ffffbe"/><stop offset="0.4474" stop-color="#fee28f"/><stop offset="0.5943" stop-color="#fdb96a"/><stop offset="0.7325" stop-color="#fa9656"/><stop offset="0.9298" stop-color="#f47044"/><stop offset="1.0000" stop-color="#f06744"/></linearGradient>
<linearGradient id="b75"><stop offset="0.0000" stop-color="#3387bc"/><stop offset="0.0965" stop-color="#3387bc"/><stop offset="0.1294" stop-color="#5eb9a9"/><stop offset="0.1447" stop-color="#74c7a5"/><stop offset="0.1864" stop-color="#acdda4"/><stop offset="0.2390" stop-color="#dff299"/><stop offset="0.2566" stop-color="#e9f69d"/><stop offset="0.3355" stop-color="#fffebe"/><stop offset="0.4364" stop-color="#fee491"/><stop offset="0.5570" stop-color="#fdc171"/><stop offset="0.6754" stop-color="#fba35c"/><stop offset="0.8224" stop-color="#f7814c"/><stop offset="0.9605" stop-color="#f26944"/><stop offset="1.0000" stop-color="#ef6645"/></linearGradient>
<linearGradient id="b76"><stop offset="0.0000" stop-color="#3387bc"/><stop offset="0.0943" stop-color="#3389bd"/><stop offset="0.1338" stop-color="#69c3a5"/><stop offset="0.1842" stop-color="#aedea3"/><stop offset="0.2434" stop-color="#e6f598"/><stop offset="0.3289" stop-color="#fffebe"/><stop offset="0.4364" stop-color="#fee28f"/><stop offset="0.5965" stop-color="#fdb567"/><stop offset="0.7654" stop-color="#f88c51"/><stop offset="0.9145" stop-color="#f47044"/><stop offset="1.0000" stop-color="#ee6445"/></linearGradient>
<linearGradient id="b77"><stop offset="0.0000" stop-color="#3387bc"/><stop offset="0.0899" stop-color="#3387bc"/><stop offset="0.1294" stop-color="#66c2a5"/><stop offset="0.1667" stop-color="#9cd7a4"/><stop offset="0.2281" stop-color="#ddf19a"/><stop offset="0.2456" stop-color="#e8f69b"/><stop offset="0.3246" stop-color="#fffebe"/><stop offset="0.4254" stop-color="#fee491"/><stop offset="0.5439" stop-color="#fdc171"/><stop offset="0.6623" stop-color="#fba35c"/><stop offset="0.8070" stop-color="#f7814c"/><stop offset="0.9364" stop-color="#f36b43"/><stop offset="1.0000" stop-color="#ee6445"/></linearGradient>
<linearGradient id="b78"><stop offset="0.0000" stop-color="#3387bc"/><stop offset="0.0877" stop-color="#3387bc"/><stop offset="0.1228" stop-color="#62bda7"/><stop offset="0.1689" stop-color="#a4daa4"/><stop offset="0.2215" stop-color="#daf09a"/><stop offset="0.2412" stop-color="#e8f69b"/><stop offset="0.3202" stop-color="#fffebe"/><stop offset="0.4254" stop-color="#fee28f"/><stop offset="0.5526" stop-color="#fdbd6d"/><stop offset="0.6820" stop-color="#fa9b58"/><stop offset="0.8509" stop-color="#f57748"/><stop offset="0.9474" stop-color="#f26944"/><stop offset="1.0000" stop-color="#ed6246"/></linearGradient>
<linearGradient id="b79"><stop offset="0.0000" stop-color="#3387bc"/><stop offset="0.0855" stop-color="#3389bd"/><stop offset="0.1228" stop-color="#66c2a5"/><stop offset="0.1557" stop-color="#97d5a4"/><stop offset="0.1886" stop-color="#bfe5a0"/><stop offset="0.2346" stop-color="#e7f59a"/><stop offset="0.3136" stop-color="#ffffbe"/><stop offset="0.4145" stop-color="#fee491"/><stop offset="0.5439" stop-color="#fdbd6d"/><stop offset="0.6667" stop-color="#fb9d59"/><stop offset="0.8158" stop-color="#f67c4a"/><stop offset="0.9298" stop-color="#f26944"/><stop offset="1.0000" stop-color="#ed6246"/></linearGradient>
<linearGradient id="b80"><stop offset="0.0000" stop-color="#3387bc"/><stop offset="0.0811" stop-color="#3387bc"/><stop offset="0.1206" stop-color="#69c3a5"/><stop offset="0.1623" stop-color="#a4daa4"/><stop offset="0.1908" stop-color="#c3e79f"/><stop offset="0.2303" stop-color="#e7f59a"/><stop offset="0.3092" stop-color="#ffffbe"/><stop offset="0.4189" stop-color="#fee18d"/><stop offset="0.5702" stop-color="#fdb567"/><stop offset="0.7346" stop-color="#f88c51"/><stop offset="0.8947" stop-color="#f46d43"/><stop offset="1.0000" stop-color="#eb6046"/></linearGradient>
<linearGradient id="b81"><stop offset="0.0000" stop-color="#3387bc"/><stop offset="0.0789" stop-color="#3389bd"/><stop offset="0.1184" stop-color="#6bc4a5"/><stop offset="0.1623" stop-color="#aadca4"/><stop offset="0.2193" stop-color="#e4f498"/><stop offset="0.3070" stop-color="#fffebe"/><stop offset="0.3925" stop-color="#fee695"/><stop offset="0.4825" stop-color="#feca79"/><stop offset="0.6206" stop-color="#fca55d"/><stop offset="0.7873" stop-color="#f67f4b"/><stop offset="0.9013" stop-color="#f36b43"/><stop offset="1.0000" stop-color="#eb6046"/></linearGradient>
<linearGradient id="b82"><stop offset="0.0000" stop-color="#3387bc"/><stop offset="0.0746" stop-color="#3387bc"/><stop offset="0.1118" stop-color="#66c2a5"/><stop offset="0.1579" stop-color="#aadca4"/><stop offset="0.2149" stop-color="#e4f498"/><stop offset="0.3004" stop-color="#fffebe"/><stop offset="0.4123" stop-color="#fee08b"/><stop offset="0.5461" stop-color="#fdb768"/><stop offset="0.7281" stop-color="#f88950"/><stop offset="0.8860" stop-color="#f36b43"/><stop offset="1.0000" stop-color="#ea5e47"/></linearGradient>
<linearGradient id="b83"><stop offset="0.0000" stop-color="#3387bc"/><stop offset="0.0724" stop-color="#3389bd"/><stop offset="0.1096" stop-color="#69c3a5"/><stop offset="0.1535" stop-color="#aadca4"/><stop offset="0.2127" stop-color="#e6f598"/><stop offset="0.2939" stop-color="#fffebe"/><stop offset="0.4057" stop-color="#fee08b"/><stop offset="0.5329" stop-color="#fdb96a"/><stop offset="0.6645" stop-color="#fa9656"/><stop offset="0.8070" stop-color="#f57748"/><stop offset="0.8991" stop-color="#f26944"/><stop offset="1.0000" stop-color="#ea5e47"/></linearGradient>
<linearGradient id="b84"><stop offset="0.0000" stop-color="#3387bc"/><stop offset="0.0680" stop-color="#3387bc"/><stop offset="0.1053" stop-color="#66c2a5"/><stop offset="0.1404" stop-color="#9cd7a4"/><stop offset="0.1711" stop-color="#c1e6a0"/><stop offset="0.2105" stop-color="#e6f598"/><stop offset="0.2873" stop-color="#ffffbe"/><stop offset="0.3991" stop-color="#fee08b"/><stop offset="0.5329" stop-color="#fdb768"/><stop offset="0.6864" stop-color="#f98e52"/><stop offset="0.8662" stop-color="#f36b43"/><stop offset="1.0000" stop-color="#e95c47"/></linearGradient>
<linearGradient id="b85"><stop offset="0.0000" stop-color="#3387bc"/><stop offset="0.0658" stop-color="#3389bd"/><stop offset="0.1031" stop-color="#69c3a5"/><stop offset="0.1382" stop-color="#9fd8a4"/><stop offset="0.1667" stop-color="#c1e6a0"/><stop offset="0.2061" stop-color="#e7f59a"/><stop offset="0.2851" stop-color="#fffebe"/><stop offset="0.3882" stop-color="#fee18d"/><stop offset="0.5329" stop-color="#fdb567"/><stop offset="0.6908" stop-color="#f88c51"/><stop offset="0.8575" stop-color="#f36b43"/><stop offset="1.0000" stop-color="#e95c47"/></linearGradient>
<linearGradient id="b86"><stop offset="0.0000" stop-color="#3387bc"/><stop offset="0.0614" stop-color="#3387bc"/><stop offset="0.0987" stop-color="#69c3a5"/><stop offset="0.1360" stop-color="#a2d9a4"/><stop offset="0.1689" stop-color="#c8e99e"/><stop offset="0.2018" stop-color="#e7f59a"/><stop offset="0.2785" stop-color="#fffebe"/><stop offset="0.3816" stop-color="#fee18d"/><stop offset="0.5110" stop-color="#fdb96a"/><stop offset="0.6294" stop-color="#fa9857"/><stop offset="0.7785" stop-color="#f57748"/><stop offset="0.8662" stop-color="#f26944"/><stop offset="1.0000" stop-color="#e85b48"/></linearGradient>
<linearGradient id="b87"><stop offset="0.0000" stop-color="#3387bc"/><stop offset="0.0592" stop-color="#3389bd"/><stop offset="0.0943" stop-color="#66c2a5"/><stop offset="0.1228" stop-color="#94d4a4"/><stop offset="0.1491" stop-color="#b8e2a1"/><stop offset="0.1974" stop-color="#e7f59a"/><stop offset="0.2719" stop-color="#ffffbe"/><stop offset="0.3750" stop-color="#fee18d"/><stop offset="0.5110" stop-color="#fdb768"/><stop offset="0.6623" stop-color="#f98e52"/><stop offset="0.8114" stop-color="#f47044"/><stop offset="1.0000" stop-color="#e85b48"/></linearGradient>
<linearGradient id="b88"><stop offset="0.0000" stop-color="#3387bc"/><stop offset="0.0548" stop-color="#3387bc"/><stop offset="0.0899" stop-color="#66c2a5"/><stop offset="0.1316" stop-color="#a7dba4"/><stop offset="0.1908" stop-color="#e6f598"/><stop offset="0.2654" stop-color="#ffffbe"/><stop offset="0.3794" stop-color="#fede89"/><stop offset="0.5088" stop-color="#fdb567"/><stop offset="0.6754" stop-color="#f88950"/><stop offset="0.8289" stop-color="#f36b43"/><stop offset="1.0000" stop-color="#e75948"/></linearGradient>
<linearGradient id="b89"><stop offset="0.0000" stop-color="#3387bc"/><stop offset="0.0526" stop-color="#3389bd"/><stop offset="0.0877" stop-color="#69c3a5"/><stop offset="0.1294" stop-color="#aadca4"/><stop offset="0.1864" stop-color="#e6f598"/><stop offset="0.2610" stop-color="#ffffbe"/><stop offset="0.3728" stop-color="#fede89"/><stop offset="0.4956" stop-color="#fdb768"/><stop offset="0.6447" stop-color="#f98e52"/><stop offset="0.7785" stop-color="#f57245"/><stop offset="0.9364" stop-color="#ea5e47"/><stop offset="1.0000" stop-color="#e55749"/></linearGradient>
<linearGradient id="b90"><stop offset="0.0000" stop-color="#3387bc"/><stop offset="0.0482" stop-color="#3387bc"/><stop offset="0.0833" stop-color="#66c2a5"/><stop offset="0.1162" stop-color="#9cd7a4"/><stop offset="0.1469" stop-color="#c3e79f"/><stop offset="0.1842" stop-color="#e7f59a"/><stop offset="0.2566" stop-color="#fffebe"/><stop offset="0.3465" stop-color="#fee491"/><stop offset="0.4539" stop-color="#fdc171"/><stop offset="0.5658" stop-color="#fba05b"/><stop offset="0.7281" stop-color="#f67a49"/><stop offset="0.8268" stop-color="#f26944"/><stop offset="1.0000" stop-color="#e55749"/></linearGradient>
<linearGradient id="b91"><stop offset="0.0000" stop-color="#3387bc"/><stop offset="0.0461" stop-color="#3389bd"/><stop offset="0.0789" stop-color="#66c2a5"/><stop offset="0.1140" stop-color="#9fd8a4"/><stop offset="0.1469" stop-color="#c8e99e"/><stop offset="0.1798" stop-color="#e7f59a"/><stop offset="0.2500" stop-color="#ffffbe"/><stop offset="0.3553" stop-color="#fee08b"/><stop offset="0.4737" stop-color="#fdb96a"/><stop offset="0.5965" stop-color="#fa9656"/><stop offset="0.7325" stop-color="#f57748"/><stop offset="0.8158" stop-color="#f26944"/><stop offset="1.0000" stop-color="#e45549"/></linearGradient>
<linearGradient id="b92"><stop offset="0.0000" stop-color="#3387bc"/><stop offset="0.0417" stop-color="#3387bc"/><stop offset="0.0768" stop-color="#69c3a5"/><stop offset="0.1118" stop-color="#a2d9a4"/><stop offset="0.1469" stop-color="#cdeb9d"/><stop offset="0.1732" stop-color="#e6f598"/><stop offset="0.2434" stop-color="#ffffbe"/><stop offset="0.3575" stop-color="#fedc88"/><stop offset="0.4956" stop-color="#fdb163"/><stop offset="0.6294" stop-color="#f88c51"/><stop offset="0.7632" stop-color="#f47044"/><stop offset="0.9803" stop-color="#e55749"/><stop offset="1.0000" stop-color="#e45549"/></linearGradient>
<linearGradient id="b93"><stop offset="0.0000" stop-color="#3387bc"/><stop offset="0.0395" stop-color="#3389bd"/><stop offset="0.0724" stop-color="#66c2a5"/><stop offset="0.1118" stop-color="#a7dba4"/><stop offset="0.1579" stop-color="#ddf19a"/><stop offset="0.1732" stop-color="#e8f69b"/><stop offset="0.2412" stop-color="#fffebe"/><stop offset="0.3289" stop-color="#fee491"/><stop offset="0.4452" stop-color="#fdbd6d"/><stop offset="0.5548" stop-color="#fb9d59"/><stop offset="0.6776" stop-color="#f67f4b"/><stop offset="0.7829" stop-color="#f36b43"/><stop offset="1.0000" stop-color="#e3534a"/></linearGradient>
<linearGradient id="b94"><stop offset="0.0000" stop-color="#3387bc"/><stop offset="0.0373" stop-color="#3389bd"/><stop offset="0.0702" stop-color="#69c3a5"/><stop offset="0.1118" stop-color="#acdda4"/><stop offset="0.1535" stop-color="#ddf19a"/><stop offset="0.1689" stop-color="#e8f69b"/><stop offset="0.2368" stop-color="#fffebe"/><stop offset="0.3355" stop-color="#fee08b"/><stop offset="0.4671" stop-color="#fdb567"/><stop offset="0.6140" stop-color="#f88c51"/><stop offset="0.7588" stop-color="#f46d43"/><stop offset="1.0000" stop-color="#e3534a"/></linearGradient>
<linearGradient id="b95"><stop offset="0.0000" stop-color="#3387bc"/><stop offset="0.0329" stop-color="#3387bc"/><stop offset="0.0658" stop-color="#66c2a5"/><stop offset="0.1009" stop-color="#a2d9a4"/><stop offset="0.1360" stop-color="#cdeb9d"/><stop offset="0.1623" stop-color="#e7f59a"/><stop offset="0.2325" stop-color="#fffebe"/><stop offset="0.3136" stop-color="#fee593"/><stop offset="0.4013" stop-color="#fdc776"/><stop offset="0.5197" stop-color="#fba35c"/><stop offset="0.6711" stop-color="#f67c4a"/><stop offset="0.7763" stop-color="#f26944"/><stop offset="1.0000" stop-color="#e2514a"/></linearGradient>
<linearGradient id="b96"><stop offset="0.0000" stop-color="#3387bc"/><stop offset="0.0307" stop-color="#3387bc"/><stop offset="0.0570" stop-color="#5eb9a9"/><stop offset="0.0658" stop-color="#6bc4a5"/><stop offset="0.1009" stop-color="#a7dba4"/><stop offset="0.1404" stop-color="#d6ee9b"/><stop offset="0.1579" stop-color="#e7f59a"/><stop offset="0.2281" stop-color="#fffebe"/><stop offset="0.3158" stop-color="#fee28f"/><stop offset="0.4408" stop-color="#fdb96a"/><stop offset="0.5504" stop-color="#fa9857"/><stop offset="0.7018" stop-color="#f57547"/><stop offset="0.7961" stop-color="#ef6645"/><stop offset="1.0000" stop-color="#e2514a"/></linearGradient>
<linearGradient id="b97"><stop offset="0.0000" stop-color="#3387bc"/><stop offset="0.0285" stop-color="#3389bd"/><stop offset="0.0592" stop-color="#66c2a5"/><stop offset="0.1009" stop-color="#acdda4"/><stop offset="0.1513" stop-color="#e6f598"/><stop offset="0.2237" stop-color="#fffebe"/><stop offset="0.3026" stop-color="#fee593"/><stop offset="0.4013" stop-color="#fdc372"/><stop offset="0.5066" stop-color="#fba35c"/><stop offset="0.6338" stop-color="#f7814c"/><stop offset="0.7478" stop-color="#f36b43"/><stop offset="0.9956" stop-color="#e2514a"/><stop offset="1.0000" stop-color="#e1504b"/></linearGradient>
<linearGradient id="b98"><stop offset="0.0000" stop-color="#3387bc"/><stop offset="0.0241" stop-color="#3387bc"/><stop offset="0.0570" stop-color="#66c2a5"/><stop offset="0.0833" stop-color="#97d5a4"/><stop offset="0.1031" stop-color="#b3e0a2"/><stop offset="0.1469" stop-color="#e6f598"/><stop offset="0.2171" stop-color="#ffffbe"/><stop offset="0.3136" stop-color="#fee08b"/><stop offset="0.4408" stop-color="#fdb567"/><stop offset="0.5943" stop-color="#f88950"/><stop offset="0.7259" stop-color="#f46d43"/><stop offset="0.9825" stop-color="#e2514a"/><stop offset="1.0000" stop-color="#e1504b"/></linearGradient>
<linearGradient id="b99"><stop offset="0.0000" stop-color="#3387bc"/><stop offset="0.0219" stop-color="#3389bd"/><stop offset="0.0526" stop-color="#66c2a5"/><stop offset="0.0899" stop-color="#a7dba4"/><stop offset="0.1404" stop-color="#e4f498"/><stop offset="0.2127" stop-color="#fffebe"/><stop offset="0.3004" stop-color="#fee28f"/><stop offset="0.4079" stop-color="#fdbd6d"/><stop offset="0.5022" stop-color="#fba05b"/><stop offset="0.6184" stop-color="#f7814c"/><stop offset="0.7281" stop-color="#f36b43"/><stop offset="0.9956" stop-color="#e1504b"/><stop offset="1.0000" stop-color="#df4e4b"/></linearGradient>
<linearGradient id="b100"><stop offset="0.0000" stop-color="#3387bc"/><stop offset="0.0197" stop-color="#3389bd"/><stop offset="0.0482" stop-color="#64c0a6"/><stop offset="0.0877" stop-color="#aadca4"/><stop offset="0.1382" stop-color="#e6f598"/><stop offset="0.2083" stop-color="#fffebe"/><stop offset="0.2939" stop-color="#fee28f"/><stop offset="0.4254" stop-color="#fdb567"/><stop offset="0.5877" stop-color="#f8864f"/><stop offset="0.7171" stop-color="#f36b43"/><stop offset="1.0000" stop-color="#df4e4b"/></linearGradient>
<linearGradient id="b101"><stop offset="0.0000" stop-color="#3387bc"/><stop offset="0.0154" stop-color="#3387bc"/><stop offset="0.0461" stop-color="#66c2a5"/><stop offset="0.0811" stop-color="#a4daa4"/><stop offset="0.1140" stop-color="#cfec9d"/><stop offset="0.1382" stop-color="#e7f59a"/><stop offset="0.2018" stop-color="#ffffbe"/><stop offset="0.3004" stop-color="#fede89"/><stop offset="0.4276" stop-color="#fdb365"/><stop offset="0.5702" stop-color="#f88950"/><stop offset="0.6974" stop-color="#f46d43"/><stop offset="0.9496" stop-color="#e2514a"/><stop offset="1.0000" stop-color="#df4e4b"/></linearGradient>
<linearGradient id="b102"><stop offset="0.0000" stop-color="#3387bc"/><stop offset="0.0132" stop-color="#3389bd"/><stop offset="0.0439" stop-color="#69c3a5"/><stop offset="0.0789" stop-color="#a7dba4"/><stop offset="0.1184" stop-color="#d8ef9b"/><stop offset="0.1360" stop-color="#e8f69b"/><stop offset="0.1974" stop-color="#ffffbe"/><stop offset="0.2785" stop-color="#fee491"/><stop offset="0.3750" stop-color="#fdc171"/><stop offset="0.4715" stop-color="#fba35c"/><stop offset="0.5921" stop-color="#f7814c"/><stop offset="0.7018" stop-color="#f36b43"/><stop offset="0.9825" stop-color="#df4e4b"/><stop offset="1.0000" stop-color="#de4c4b"/></linearGradient>
<linearGradient id="b103"><stop offset="0.0000" stop-color="#3387bc"/><stop offset="0.0088" stop-color="#3387bc"/><stop offset="0.0395" stop-color="#66c2a5"/><stop offset="0.0768" stop-color="#aadca4"/><stop offset="0.1162" stop-color="#daf09a"/><stop offset="0.1316" stop-color="#e8f69b"/><stop offset="0.1930" stop-color="#fffebe"/><stop offset="0.2807" stop-color="#fee18d"/><stop offset="0.4057" stop-color="#fdb567"/><stop offset="0.5636" stop-color="#f8864f"/><stop offset="0.6798" stop-color="#f46d43"/><stop offset="0.9276" stop-color="#e2514a"/><stop offset="1.0000" stop-color="#de4c4b"/></linearGradient>
<linearGradient id="b104"><stop offset="0.0000" stop-color="#3387bc"/><stop offset="0.0066" stop-color="#3387bc"/><stop offset="0.0373" stop-color="#69c3a5"/><stop offset="0.0746" stop-color="#acdda4"/><stop offset="0.1162" stop-color="#dff299"/><stop offset="0.1294" stop-color="#e9f69d"/><stop offset="0.1886" stop-color="#fffebe"/><stop offset="0.2785" stop-color="#fee08b"/><stop offset="0.3991" stop-color="#fdb567"/><stop offset="0.5351" stop-color="#f88c51"/><stop offset="0.6579" stop-color="#f47044"/><stop offset="0.8596" stop-color="#e55749"/><stop offset="1.0000" stop-color="#dd4a4c"/></linearGradient>
<linearGradient id="b105"><stop offset="0.0000" stop-color="#3387bc"/><stop offset="0.0066" stop-color="#378ebb"/><stop offset="0.0329" stop-color="#66c2a5"/><stop offset="0.0702" stop-color="#acdda4"/><stop offset="0.1184" stop-color="#e6f598"/><stop offset="0.1820" stop-color="#ffffbe"/><stop offset="0.2654" stop-color="#fee28f"/><stop offset="0.3794" stop-color="#fdb96a"/><stop offset="0.4978" stop-color="#f99355"/><stop offset="0.6338" stop-color="#f57245"/><stop offset="0.7939" stop-color="#e95c47"/><stop offset="1.0000" stop-color="#dd4a4c"/></linearGradient>
<linearGradient id="b106"><stop offset="0.0000" stop-color="#3387bc"/><stop offset="0.0307" stop-color="#69c3a5"/><stop offset="0.0680" stop-color="#aedea3"/><stop offset="0.1140" stop-color="#e6f598"/><stop offset="0.1776" stop-color="#fffebe"/><stop offset="0.2675" stop-color="#fee08b"/><stop offset="0.3728" stop-color="#fdb96a"/><stop offset="0.4825" stop-color="#fa9656"/><stop offset="0.6031" stop-color="#f57748"/><stop offset="0.6776" stop-color="#f26944"/><stop offset="0.9408" stop-color="#df4e4b"/><stop offset="1.0000" stop-color="#dc484c"/></linearGradient>
<linearGradient id="b107"><stop offset="0.0000" stop-color="#378ebb"/><stop offset="0.0263" stop-color="#66c2a5"/><stop offset="0.0570" stop-color="#a2d9a4"/><stop offset="0.0877" stop-color="#cdeb9d"/><stop offset="0.1118" stop-color="#e7f59a"/><stop offset="0.1732" stop-color="#fffebe"/><stop offset="0.2500" stop-color="#fee491"/><stop offset="0.3421" stop-color="#fdc171"/><stop offset="0.4342" stop-color="#fba35c"/><stop offset="0.5504" stop-color="#f7814c"/><stop offset="0.6535" stop-color="#f36b43"/><stop offset="0.9057" stop-color="#e1504b"/><stop offset="1.0000" stop-color="#dc484c"/></linearGradient>
<linearGradient id="b108"><stop offset="0.0000" stop-color="#3d95b8"/><stop offset="0.0241" stop-color="#69c3a5"/><stop offset="0.0548" stop-color="#a4daa4"/><stop offset="0.0855" stop-color="#cfec9d"/><stop offset="0.1075" stop-color="#e7f59a"/><stop offset="0.1667" stop-color="#ffffbe"/><stop offset="0.2566" stop-color="#fee08b"/><stop offset="0.3640" stop-color="#fdb768"/><stop offset="0.5022" stop-color="#f88c51"/><stop offset="0.6206" stop-color="#f47044"/><stop offset="0.8180" stop-color="#e55749"/><stop offset="1.0000" stop-color="#da464d"/></linearGradient>
<linearGradient id="b109"><stop offset="0.0000" stop-color="#439bb5"/><stop offset="0.0197" stop-color="#66c2a5"/><stop offset="0.0504" stop-color="#a4daa4"/><stop offset="0.0855" stop-color="#d3ed9c"/><stop offset="0.1031" stop-color="#e7f59a"/><stop offset="0.1623" stop-color="#ffffbe"/><stop offset="0.2456" stop-color="#fee18d"/><stop offset="0.3640" stop-color="#fdb567"/><stop offset="0.5022" stop-color="#f88950"/><stop offset="0.6338" stop-color="#f36b43"/><stop offset="0.8860" stop-color="#e1504b"/><stop offset="1.0000" stop-color="#da464d"/></linearGradient>
<linearGradient id="b110"><stop offset="0.0000" stop-color="#49a2b2"/><stop offset="0.0175" stop-color="#69c3a5"/><stop offset="0.0482" stop-color="#a7dba4"/><stop offset="0.0943" stop-color="#e4f498"/><stop offset="0.1579" stop-color="#fffebe"/><stop offset="0.2434" stop-color="#fee08b"/><stop offset="0.3509" stop-color="#fdb768"/><stop offset="0.4759" stop-color="#f98e52"/><stop offset="0.6118" stop-color="#f46d43"/><stop offset="0.8706" stop-color="#e1504b"/><stop offset="1.0000" stop-color="#d9444d"/></linearGradient>
<linearGradient id="b111"><stop offset="0.0000" stop-color="#50a9af"/><stop offset="0.0132" stop-color="#66c2a5"/><stop offset="0.0417" stop-color="#a2d9a4"/><stop offset="0.0768" stop-color="#d3ed9c"/><stop offset="0.0943" stop-color="#e7f59a"/><stop offset="0.1513" stop-color="#ffffbe"/><stop offset="0.2346" stop-color="#fee18d"/><stop offset="0.3487" stop-color="#fdb567"/><stop offset="0.4868" stop-color="#f88950"/><stop offset="0.6053" stop-color="#f46d43"/><stop offset="0.8399" stop-color="#e2514a"/><stop offset="1.0000" stop-color="#d9444d"/></linearGradient>
<linearGradient id="b112"><stop offset="0.0000" stop-color="#56b0ad"/><stop offset="0.0110" stop-color="#6bc4a5"/><stop offset="0.0439" stop-color="#acdda4"/><stop offset="0.0877" stop-color="#e6f598"/><stop offset="0.1469" stop-color="#ffffbe"/><stop offset="0.2281" stop-color="#fee18d"/><stop offset="0.3421" stop-color="#fdb567"/><stop offset="0.4781" stop-color="#f88950"/><stop offset="0.6053" stop-color="#f36b43"/><stop offset="0.8487" stop-color="#e1504b"/><stop offset="1.0000" stop-color="#d8434e"/></linearGradient>
<linearGradient id="b113"><stop offset="0.0000" stop-color="#5cb7aa"/><stop offset="0.0110" stop-color="#74c7a5"/><stop offset="0.0439" stop-color="#b3e0a2"/><stop offset="0.0833" stop-color="#e6f598"/><stop offset="0.1404" stop-color="#ffffbe"/><stop offset="0.2259" stop-color="#fee08b"/><stop offset="0.3289" stop-color="#fdb768"/><stop offset="0.4671" stop-color="#f88950"/><stop offset="0.5855" stop-color="#f46d43"/><stop offset="0.8158" stop-color="#e2514a"/><stop offset="1.0000" stop-color="#d8434e"/></linearGradient>
<linearGradient id="b114"><stop offset="0.0000" stop-color="#62bda7"/><stop offset="0.0285" stop-color="#9fd8a4"/><stop offset="0.0482" stop-color="#bfe5a0"/><stop offset="0.0789" stop-color="#e6f598"/><stop offset="0.1360" stop-color="#ffffbe"/><stop offset="0.2149" stop-color="#fee18d"/><stop offset="0.3268" stop-color="#fdb567"/><stop offset="0.4583" stop-color="#f88950"/><stop offset="0.5855" stop-color="#f36b43"/><stop offset="0.8246" stop-color="#e1504b"/><stop offset="1.0000" stop-color="#d7414e"/></linearGradient>
<linearGradient id="b115"><stop offset="0.0000" stop-color="#69c3a5"/><stop offset="0.0175" stop-color="#91d3a4"/><stop offset="0.0439" stop-color="#bfe5a0"/><stop offset="0.0746" stop-color="#e6f598"/><stop offset="0.1316" stop-color="#fffebe"/><stop offset="0.2127" stop-color="#fee08b"/><stop offset="0.3136" stop-color="#fdb768"/><stop offset="0.4496" stop-color="#f88950"/><stop offset="0.5768" stop-color="#f36b43"/><stop offset="0.8114" stop-color="#e1504b"/><stop offset="1.0000" stop-color="#d7414e"/></linearGradient>
<linearGradient id="b116"><stop offset="0.0000" stop-color="#74c7a5"/><stop offset="0.0329" stop-color="#b5e1a2"/><stop offset="0.0702" stop-color="#e7f59a"/><stop offset="0.1272" stop-color="#fffebe"/><stop offset="0.1952" stop-color="#fee491"/><stop offset="0.2895" stop-color="#fdbd6d"/><stop offset="0.3706" stop-color="#fba05b"/><stop offset="0.4605" stop-color="#f7844e"/><stop offset="0.5658" stop-color="#f36b43"/><stop offset="0.8004" stop-color="#e1504b"/><stop offset="1.0000" stop-color="#d63f4f"/></linearGradient>
<linearGradient id="b117"><stop offset="0.0000" stop-color="#7ccaa5"/><stop offset="0.0263" stop-color="#b1dfa3"/><stop offset="0.0658" stop-color="#e7f59a"/><stop offset="0.1206" stop-color="#ffffbe"/><stop offset="0.1930" stop-color="#fee28f"/><stop offset="0.2982" stop-color="#fdb768"/><stop offset="0.4320" stop-color="#f88950"/><stop offset="0.5548" stop-color="#f36b43"/><stop offset="0.7895" stop-color="#e1504b"/><stop offset="1.0000" stop-color="#d63f4f"/></linearGradient>
<linearGradient id="b118"><stop offset="0.0000" stop-color="#84cea5"/><stop offset="0.0241" stop-color="#b3e0a2"/><stop offset="0.0614" stop-color="#e7f59a"/><stop offset="0.1162" stop-color="#fffebe"/><stop offset="0.1908" stop-color="#fee18d"/><stop offset="0.2917" stop-color="#fdb768"/><stop offset="0.4079" stop-color="#f98e52"/><stop offset="0.5022" stop-color="#f57547"/><stop offset="0.5833" stop-color="#ef6645"/><stop offset="0.8202" stop-color="#de4c4b"/><stop offset="1.0000" stop-color="#d43d4f"/></linearGradient>
<linearGradient id="b119"><stop offset="0.0000" stop-color="#8cd1a4"/><stop offset="0.0285" stop-color="#c1e6a0"/><stop offset="0.0570" stop-color="#e7f59a"/><stop offset="0.1118" stop-color="#fffebe"/><stop offset="0.1776" stop-color="#fee491"/><stop offset="0.2632" stop-color="#fdbf6f"/><stop offset="0.3465" stop-color="#fba05b"/><stop offset="0.4430" stop-color="#f7814c"/><stop offset="0.5373" stop-color="#f36b43"/><stop offset="0.7478" stop-color="#e2514a"/><stop offset="1.0000" stop-color="#d43d4f"/></linearGradient>
<linearGradient id="b120"><stop offset="0.0000" stop-color="#94d4a4"/><stop offset="0.0219" stop-color="#bce4a0"/><stop offset="0.0526" stop-color="#e7f59a"/><stop offset="0.1053" stop-color="#ffffbe"/><stop offset="0.1820" stop-color="#fee08b"/><stop offset="0.2719" stop-color="#fdb96a"/><stop offset="0.3662" stop-color="#fa9656"/><stop offset="0.4825" stop-color="#f57547"/><stop offset="0.5636" stop-color="#ef6645"/><stop offset="0.7961" stop-color="#de4c4b"/><stop offset="1.0000" stop-color="#d23a4e"/></linearGradient>
<linearGradient id="b121"><stop offset="0.0000" stop-color="#9cd7a4"/><stop offset="0.0241" stop-color="#c6e89f"/><stop offset="0.0482" stop-color="#e7f59a"/><stop offset="0.1009" stop-color="#fffebe"/><stop offset="0.1689" stop-color="#fee28f"/><stop offset="0.2697" stop-color="#fdb768"/><stop offset="0.3904" stop-color="#f88c51"/><stop offset="0.4846" stop-color="#f57245"/><stop offset="0.6096" stop-color="#ea5e47"/><stop offset="0.8509" stop-color="#da464d"/><stop offset="1.0000" stop-color="#d23a4e"/></linearGradient>
<linearGradient id="b122"><stop offset="0.0000" stop-color="#a2d9a4"/><stop offset="0.0241" stop-color="#cdeb9d"/><stop offset="0.0439" stop-color="#e7f59a"/><stop offset="0.0965" stop-color="#fffebe"/><stop offset="0.1667" stop-color="#fee18d"/><stop offset="0.2632" stop-color="#fdb768"/><stop offset="0.3794" stop-color="#f88c51"/><stop offset="0.5044" stop-color="#f36b43"/><stop offset="0.7500" stop-color="#df4e4b"/><stop offset="1.0000" stop-color="#d23a4e"/></linearGradient>
<linearGradient id="b123"><stop offset="0.0000" stop-color="#acdda4"/><stop offset="0.0395" stop-color="#e7f59a"/><stop offset="0.0899" stop-color="#ffffbe"/><stop offset="0.1601" stop-color="#fee18d"/><stop offset="0.2610" stop-color="#fdb567"/><stop offset="0.3728" stop-color="#f88c51"/><stop offset="0.4759" stop-color="#f47044"/><stop offset="0.6469" stop-color="#e55749"/><stop offset="0.9276" stop-color="#d63f4f"/><stop offset="1.0000" stop-color="#d0384e"/></linearGradient>
<linearGradient id="b124"><stop offset="0.0000" stop-color="#b3e0a2"/><stop offset="0.0329" stop-color="#e6f598"/><stop offset="0.0855" stop-color="#fffebe"/><stop offset="0.1469" stop-color="#fee491"/><stop offset="0.2325" stop-color="#fdbd6d"/><stop offset="0.3180" stop-color="#fa9b58"/><stop offset="0.4342" stop-color="#f57748"/><stop offset="0.5000" stop-color="#f26944"/><stop offset="0.7039" stop-color="#e1504b"/><stop offset="1.0000" stop-color="#d0384e"/></linearGradient>
<linearGradient id="b125"><stop offset="0.0000" stop-color="#bae3a1"/><stop offset="0.0285" stop-color="#e6f598"/><stop offset="0.0789" stop-color="#fffebe"/><stop offset="0.1469" stop-color="#fee18d"/><stop offset="0.2610" stop-color="#fdaf62"/><stop offset="0.3465" stop-color="#f98e52"/><stop offset="0.4539" stop-color="#f47044"/><stop offset="0.6382" stop-color="#e45549"/><stop offset="0.9254" stop-color="#d43d4f"/><stop offset="1.0000" stop-color="#cd364d"/></linearGradient>
<linearGradient id="b126"><stop offset="0.0000" stop-color="#c1e6a0"/><stop offset="0.0241" stop-color="#e6f598"/><stop offset="0.0724" stop-color="#ffffbe"/><stop offset="0.1404" stop-color="#fee18d"/><stop offset="0.2368" stop-color="#fdb567"/><stop offset="0.3443" stop-color="#f88c51"/><stop offset="0.4539" stop-color="#f46d43"/><stop offset="0.6447" stop-color="#e3534a"/><stop offset="1.0000" stop-color="#cd364d"/></linearGradient>
<linearGradient id="b127"><stop offset="0.0000" stop-color="#caea9e"/><stop offset="0.0197" stop-color="#e7f59a"/><stop offset="0.0680" stop-color="#fffebe"/><stop offset="0.1338" stop-color="#fee18d"/><stop offset="0.2368" stop-color="#fdb163"/><stop offset="0.3509" stop-color="#f8864f"/><stop offset="0.4518" stop-color="#f36b43"/><stop offset="0.6645" stop-color="#e1504b"/><stop offset="0.9890" stop-color="#cd364d"/><stop offset="1.0000" stop-color="#cb334d"/></linearGradient>
<linearGradient id="b128"><stop offset="0.0000" stop-color="#d1ed9c"/><stop offset="0.0175" stop-color="#e8f69b"/><stop offset="0.0614" stop-color="#ffffbe"/><stop offset="0.1272" stop-color="#fee18d"/><stop offset="0.2237" stop-color="#fdb365"/><stop offset="0.3333" stop-color="#f88950"/><stop offset="0.4408" stop-color="#f36b43"/><stop offset="0.6535" stop-color="#e1504b"/><stop offset="0.9737" stop-color="#cd364d"/><stop offset="1.0000" stop-color="#cb334d"/></linearGradient>
<linearGradient id="b129"><stop offset="0.0000" stop-color="#d8ef9b"/><stop offset="0.0110" stop-color="#e7f59a"/><stop offset="0.0548" stop-color="#ffffbe"/><stop offset="0.1294" stop-color="#fedc88"/><stop offset="0.2390" stop-color="#fcaa5f"/><stop offset="0.3311" stop-color="#f8864f"/><stop offset="0.4298" stop-color="#f36b43"/><stop offset="0.6404" stop-color="#e1504b"/><stop offset="0.9583" stop-color="#cd364d"/><stop offset="1.0000" stop-color="#c9314c"/></linearGradient>
<linearGradient id="b130"><stop offset="0.0000" stop-color="#dff299"/><stop offset="0.0088" stop-color="#e9f69d"/><stop offset="0.0504" stop-color="#ffffbe"/><stop offset="0.1075" stop-color="#fee491"/><stop offset="0.1930" stop-color="#fdb96a"/><stop offset="0.2982" stop-color="#f98e52"/><stop offset="0.4101" stop-color="#f46d43"/><stop offset="0.6096" stop-color="#e2514a"/><stop offset="0.9430" stop-color="#cd364d"/><stop offset="1.0000" stop-color="#c9314c"/></linearGradient>
<linearGradient id="b131"><stop offset="0.0000" stop-color="#e7f59a"/><stop offset="0.0439" stop-color="#ffffbe"/><stop offset="0.1096" stop-color="#fee08b"/><stop offset="0.1952" stop-color="#fdb567"/><stop offset="0.3246" stop-color="#f7814c"/><stop offset="0.4101" stop-color="#f36b43"/><stop offset="0.5965" stop-color="#e2514a"/><stop offset="0.9276" stop-color="#cd364d"/><stop offset="1.0000" stop-color="#c72e4c"/></linearGradient>
<linearGradient id="b132"><stop offset="0.0000" stop-color="#eaf79e"/><stop offset="0.0395" stop-color="#fffebe"/><stop offset="0.0965" stop-color="#fee28f"/><stop offset="0.1776" stop-color="#fdb96a"/><stop offset="0.2719" stop-color="#f99153"/><stop offset="0.3860" stop-color="#f46d43"/><stop offset="0.5811" stop-color="#e2514a"/><stop offset="0.9101" stop-color="#cd364d"/><stop offset="1.0000" stop-color="#c72e4c"/></linearGradient>
<linearGradient id="b133"><stop offset="0.0000" stop-color="#edf8a3"/><stop offset="0.0329" stop-color="#ffffbe"/><stop offset="0.0899" stop-color="#fee28f"/><stop offset="0.1732" stop-color="#fdb768"/><stop offset="0.2895" stop-color="#f8864f"/><stop offset="0.3860" stop-color="#f36b43"/><stop offset="0.5855" stop-color="#e1504b"/><stop offset="0.8925" stop-color="#cd364d"/><stop offset="1.0000" stop-color="#c52c4b"/></linearGradient>
<linearGradient id="b134"><stop offset="0.0000" stop-color="#f0f9a7"/><stop offset="0.0285" stop-color="#fffebe"/><stop offset="0.0855" stop-color="#fee18d"/><stop offset="0.1667" stop-color="#fdb768"/><stop offset="0.2588" stop-color="#f98e52"/><stop offset="0.3706" stop-color="#f36b43"/><stop offset="0.5724" stop-color="#e1504b"/><stop offset="0.8772" stop-color="#cd364d"/><stop offset="1.0000" stop-color="#c52c4b"/></linearGradient>
<linearGradient id="b135"><stop offset="0.0000" stop-color="#f3faac"/><stop offset="0.0219" stop-color="#ffffbe"/><stop offset="0.0768" stop-color="#fee28f"/><stop offset="0.1535" stop-color="#fdb96a"/><stop offset="0.2500" stop-color="#f98e52"/><stop offset="0.3553" stop-color="#f46d43"/><stop offset="0.5395" stop-color="#e2514a"/><stop offset="0.8618" stop-color="#cd364d"/><stop offset="1.0000" stop-color="#c52c4b"/></linearGradient>
<linearGradient id="b136"><stop offset="0.0000" stop-color="#f6fbb0"/><stop offset="0.0175" stop-color="#fffebe"/><stop offset="0.0768" stop-color="#fee08b"/><stop offset="0.1513" stop-color="#fdb768"/><stop offset="0.2500" stop-color="#f88c51"/><stop offset="0.3443" stop-color="#f46d43"/><stop offset="0.5307" stop-color="#e2514a"/><stop offset="0.8487" stop-color="#cd364d"/><stop offset="1.0000" stop-color="#c32a4b"/></linearGradient>
<linearGradient id="b137"><stop offset="0.0000" stop-color="#f9fcb5"/><stop offset="0.0132" stop-color="#fffebe"/><stop offset="0.0680" stop-color="#fee18d"/><stop offset="0.1491" stop-color="#fdb567"/><stop offset="0.2478" stop-color="#f88950"/><stop offset="0.3443" stop-color="#f36b43"/><stop offset="0.5351" stop-color="#e1504b"/><stop offset="0.8355" stop-color="#cd364d"/><stop offset="1.0000" stop-color="#c32a4b"/></linearGradient>
<linearGradient id="b138"><stop offset="0.0000" stop-color="#fbfdb8"/><stop offset="0.0088" stop-color="#fffebe"/><stop offset="0.0570" stop-color="#fee491"/><stop offset="0.1250" stop-color="#fdbd6d"/><stop offset="0.2018" stop-color="#fa9857"/><stop offset="0.2917" stop-color="#f57748"/><stop offset="0.3509" stop-color="#f06744"/><stop offset="0.5592" stop-color="#de4c4b"/><stop offset="0.8772" stop-color="#c9314c"/><stop offset="1.0000" stop-color="#c32a4b"/></linearGradient><linearGradient id="d175"><stop offset="0.0000" stop-color="#3387bc"/><stop offset="0.2632" stop-color="#3387bc"/><stop offset="0.3048" stop-color="#5eb9a9"/><stop offset="0.3268" stop-color="#76c8a5"/><stop offset="0.3640" stop-color="#a2d9a4"/><stop offset="0.4298" stop-color="#d6ee9b"/><stop offset="0.4583" stop-color="#e7f59a"/><stop offset="0.5636" stop-color="#fffebe"/><stop offset="0.6952" stop-color="#fee491"/><stop offset="0.8487" stop-color="#fdc171"/><stop offset="1.0000" stop-color="#fba35c"/></linearGradient>
<linearGradient id="d176"><stop offset="0.0000" stop-color="#3387bc"/><stop offset="0.2610" stop-color="#3389bd"/><stop offset="0.3092" stop-color="#66c2a5"/><stop offset="0.3575" stop-color="#9fd8a4"/><stop offset="0.4123" stop-color="#cdeb9d"/><stop offset="0.4539" stop-color="#e7f59a"/><stop offset="0.5592" stop-color="#fffebe"/><stop offset="0.6820" stop-color="#fee593"/><stop offset="0.8136" stop-color="#fdc776"/><stop offset="0.9912" stop-color="#fba35c"/><stop offset="1.0000" stop-color="#fba05b"/></linearGradient>
<linearGradient id="d177"><stop offset="0.0000" stop-color="#3387bc"/><stop offset="0.2566" stop-color="#3387bc"/><stop offset="0.2939" stop-color="#5ab4ab"/><stop offset="0.3092" stop-color="#6bc4a5"/><stop offset="0.3640" stop-color="#aadca4"/><stop offset="0.4474" stop-color="#e7f59a"/><stop offset="0.5526" stop-color="#fffebe"/><stop offset="0.6886" stop-color="#fee28f"/><stop offset="0.8640" stop-color="#fdbb6c"/><stop offset="1.0000" stop-color="#fba05b"/></linearGradient>
<linearGradient id="d178"><stop offset="0.0000" stop-color="#3387bc"/><stop offset="0.2544" stop-color="#3389bd"/><stop offset="0.3026" stop-color="#66c2a5"/><stop offset="0.3575" stop-color="#a7dba4"/><stop offset="0.4298" stop-color="#dff299"/><stop offset="0.4518" stop-color="#e9f69d"/><stop offset="0.5482" stop-color="#fffebe"/><stop offset="0.6820" stop-color="#fee28f"/><stop offset="0.8640" stop-color="#fdb96a"/><stop offset="1.0000" stop-color="#fb9d59"/></linearGradient>
<linearGradient id="d179"><stop offset="0.0000" stop-color="#3387bc"/><stop offset="0.2500" stop-color="#3387bc"/><stop offset="0.2982" stop-color="#66c2a5"/><stop offset="0.3531" stop-color="#a7dba4"/><stop offset="0.4320" stop-color="#e4f498"/><stop offset="0.5439" stop-color="#fffebe"/><stop offset="0.6623" stop-color="#fee593"/><stop offset="0.8004" stop-color="#fdc574"/><stop offset="0.9671" stop-color="#fba35c"/><stop offset="1.0000" stop-color="#fa9b58"/></linearGradient>
<linearGradient id="d180"><stop offset="0.0000" stop-color="#3387bc"/><stop offset="0.2478" stop-color="#3389bd"/><stop offset="0.2961" stop-color="#69c3a5"/><stop offset="0.3465" stop-color="#a4daa4"/><stop offset="0.4167" stop-color="#ddf19a"/><stop offset="0.4386" stop-color="#e8f69b"/><stop offset="0.5373" stop-color="#fffebe"/><stop offset="0.6623" stop-color="#fee491"/><stop offset="0.8224" stop-color="#fdbf6f"/><stop offset="0.9627" stop-color="#fba35c"/><stop offset="1.0000" stop-color="#fa9b58"/></linearGradient>
<linearGradient id="d181"><stop offset="0.0000" stop-color="#3387bc"/><stop offset="0.2434" stop-color="#3387bc"/><stop offset="0.2873" stop-color="#62bda7"/><stop offset="0.3399" stop-color="#a2d9a4"/><stop offset="0.4057" stop-color="#d8ef9b"/><stop offset="0.4320" stop-color="#e7f59a"/><stop offset="0.5307" stop-color="#fffebe"/><stop offset="0.6689" stop-color="#fee18d"/><stop offset="0.8618" stop-color="#fdb567"/><stop offset="1.0000" stop-color="#fa9857"/></linearGradient>
<linearGradient id="d182"><stop offset="0.0000" stop-color="#3387bc"/><stop offset="0.2412" stop-color="#3389bd"/><stop offset="0.2873" stop-color="#66c2a5"/><stop offset="0.3487" stop-color="#aedea3"/><stop offset="0.4232" stop-color="#e6f598"/><stop offset="0.5241" stop-color="#ffffbe"/><stop offset="0.6689" stop-color="#fee08b"/><stop offset="0.8268" stop-color="#fdbb6c"/><stop offset="0.9803" stop-color="#fa9b58"/><stop offset="1.0000" stop-color="#fa9656"/></linearGradient>
<linearGradient id="d183"><stop offset="0.0000" stop-color="#3387bc"/><stop offset="0.2368" stop-color="#3387bc"/><stop offset="0.2829" stop-color="#66c2a5"/><stop offset="0.3421" stop-color="#acdda4"/><stop offset="0.4189" stop-color="#e6f598"/><stop offset="0.5175" stop-color="#ffffbe"/><stop offset="0.6623" stop-color="#fee08b"/><stop offset="0.8377" stop-color="#fdb768"/><stop offset="1.0000" stop-color="#fa9656"/></linearGradient>
<linearGradient id="d184"><stop offset="0.0000" stop-color="#3387bc"/><stop offset="0.2346" stop-color="#3389bd"/><stop offset="0.2807" stop-color="#66c2a5"/><stop offset="0.3355" stop-color="#aadca4"/><stop offset="0.4123" stop-color="#e6f598"/><stop offset="0.5154" stop-color="#fffebe"/><stop offset="0.6425" stop-color="#fee28f"/><stop offset="0.8180" stop-color="#fdb96a"/><stop offset="0.9912" stop-color="#fa9656"/><stop offset="1.0000" stop-color="#f99355"/></linearGradient>
<linearGradient id="d185"><stop offset="0.0000" stop-color="#3387bc"/><stop offset="0.2303" stop-color="#3387bc"/><stop offset="0.2763" stop-color="#66c2a5"/><stop offset="0.3377" stop-color="#aedea3"/><stop offset="0.4035" stop-color="#e4f498"/><stop offset="0.5110" stop-color="#fffebe"/><stop offset="0.6250" stop-color="#fee593"/><stop offset="0.7412" stop-color="#fec877"/><stop offset="0.8969" stop-color="#fca85e"/><stop offset="1.0000" stop-color="#f99153"/></linearGradient>
<linearGradient id="d186"><stop offset="0.0000" stop-color="#3387bc"/><stop offset="0.2281" stop-color="#3389bd"/><stop offset="0.2741" stop-color="#69c3a5"/><stop offset="0.3355" stop-color="#b1dfa3"/><stop offset="0.4057" stop-color="#e7f59a"/><stop offset="0.5044" stop-color="#fffebe"/><stop offset="0.6184" stop-color="#fee593"/><stop offset="0.7412" stop-color="#fdc776"/><stop offset="0.8969" stop-color="#fca55d"/><stop offset="1.0000" stop-color="#f99153"/></linearGradient>
<linearGradient id="d187"><stop offset="0.0000" stop-color="#3387bc"/><stop offset="0.2237" stop-color="#3387bc"/><stop offset="0.2675" stop-color="#64c0a6"/><stop offset="0.3268" stop-color="#acdda4"/><stop offset="0.3882" stop-color="#dff299"/><stop offset="0.4057" stop-color="#e8f69b"/><stop offset="0.4978" stop-color="#fffebe"/><stop offset="0.6360" stop-color="#fee08b"/><stop offset="0.8070" stop-color="#fdb768"/><stop offset="0.9890" stop-color="#f99153"/><stop offset="1.0000" stop-color="#f98e52"/></linearGradient>
<linearGradient id="d188"><stop offset="0.0000" stop-color="#3387bc"/><stop offset="0.2215" stop-color="#3389bd"/><stop offset="0.2654" stop-color="#66c2a5"/><stop offset="0.3224" stop-color="#acdda4"/><stop offset="0.3838" stop-color="#dff299"/><stop offset="0.4013" stop-color="#e8f69b"/><stop offset="0.4934" stop-color="#fffebe"/><stop offset="0.6053" stop-color="#fee593"/><stop offset="0.7346" stop-color="#fdc574"/><stop offset="0.8904" stop-color="#fba35c"/><stop offset="1.0000" stop-color="#f88c51"/></linearGradient>
<linearGradient id="d189"><stop offset="0.0000" stop-color="#3387bc"/><stop offset="0.2171" stop-color="#3387bc"/><stop offset="0.2632" stop-color="#69c3a5"/><stop offset="0.3224" stop-color="#aedea3"/><stop offset="0.3794" stop-color="#dff299"/><stop offset="0.3969" stop-color="#e8f69b"/><stop offset="0.4868" stop-color="#fffebe"/><stop offset="0.6118" stop-color="#fee28f"/><stop offset="0.7632" stop-color="#fdbd6d"/><stop offset="0.8969" stop-color="#fba05b"/><stop offset="1.0000" stop-color="#f88c51"/></linearGradient>
<linearGradient id="d190"><stop offset="0.0000" stop-color="#3387bc"/><stop offset="0.2149" stop-color="#3389bd"/><stop offset="0.2588" stop-color="#66c2a5"/><stop offset="0.3158" stop-color="#acdda4"/><stop offset="0.3750" stop-color="#dff299"/><stop offset="0.3925" stop-color="#e8f69b"/><stop offset="0.4825" stop-color="#fffebe"/><stop offset="0.6053" stop-color="#fee28f"/><stop offset="0.7566" stop-color="#fdbd6d"/><stop offset="0.8904" stop-color="#fba05b"/><stop offset="1.0000" stop-color="#f88950"/></linearGradient>
<linearGradient id="d191"><stop offset="0.0000" stop-color="#3387bc"/><stop offset="0.2127" stop-color="#3389bd"/><stop offset="0.2566" stop-color="#69c3a5"/><stop offset="0.3114" stop-color="#acdda4"/><stop offset="0.3772" stop-color="#e4f498"/><stop offset="0.4781" stop-color="#fffebe"/><stop offset="0.5943" stop-color="#fee491"/><stop offset="0.7237" stop-color="#fdc372"/><stop offset="0.8684" stop-color="#fba35c"/><stop offset="1.0000" stop-color="#f88950"/></linearGradient>
<linearGradient id="d192"><stop offset="0.0000" stop-color="#3387bc"/><stop offset="0.2083" stop-color="#3387bc"/><stop offset="0.2522" stop-color="#66c2a5"/><stop offset="0.3114" stop-color="#b1dfa3"/><stop offset="0.3794" stop-color="#e7f59a"/><stop offset="0.4737" stop-color="#fffebe"/><stop offset="0.5877" stop-color="#fee491"/><stop offset="0.7259" stop-color="#fdc171"/><stop offset="0.8596" stop-color="#fba35c"/><stop offset="1.0000" stop-color="#f8864f"/></linearGradient>
<linearGradient id="d193"><stop offset="0.0000" stop-color="#3387bc"/><stop offset="0.2061" stop-color="#3389bd"/><stop offset="0.2500" stop-color="#69c3a5"/><stop offset="0.3048" stop-color="#acdda4"/><stop offset="0.3618" stop-color="#dff299"/><stop offset="0.3794" stop-color="#e8f69b"/><stop offset="0.4671" stop-color="#fffebe"/><stop offset="0.5943" stop-color="#fee18d"/><stop offset="0.7632" stop-color="#fdb768"/><stop offset="0.9408" stop-color="#f99153"/><stop offset="1.0000" stop-color="#f7844e"/></linearGradient>
<linearGradient id="d194"><stop offset="0.0000" stop-color="#3387bc"/><stop offset="0.2039" stop-color="#3389bd"/><stop offset="0.2456" stop-color="#66c2a5"/><stop offset="0.3114" stop-color="#b8e2a1"/><stop offset="0.3706" stop-color="#e7f59a"/><stop offset="0.4627" stop-color="#fffebe"/><stop offset="0.5768" stop-color="#fee491"/><stop offset="0.7039" stop-color="#fdc372"/><stop offset="0.8443" stop-color="#fba35c"/><stop offset="1.0000" stop-color="#f7844e"/></linearGradient>
<linearGradient id="d195"><stop offset="0.0000" stop-color="#3387bc"/><stop offset="0.1996" stop-color="#3387bc"/><stop offset="0.2368" stop-color="#60bba8"/><stop offset="0.2478" stop-color="#6ec5a5"/><stop offset="0.3026" stop-color="#b3e0a2"/><stop offset="0.3662" stop-color="#e7f59a"/><stop offset="0.4583" stop-color="#fffebe"/><stop offset="0.5768" stop-color="#fee28f"/><stop offset="0.7303" stop-color="#fdbb6c"/><stop offset="0.8728" stop-color="#fa9b58"/><stop offset="1.0000" stop-color="#f7814c"/></linearGradient>
<linearGradient id="d196"><stop offset="0.0000" stop-color="#3387bc"/><stop offset="0.1974" stop-color="#3389bd"/><stop offset="0.2390" stop-color="#66c2a5"/><stop offset="0.2895" stop-color="#aadca4"/><stop offset="0.3531" stop-color="#e1f399"/><stop offset="0.3794" stop-color="#ecf7a1"/><stop offset="0.4539" stop-color="#fffebe"/><stop offset="0.5702" stop-color="#fee28f"/><stop offset="0.7237" stop-color="#fdbb6c"/><stop offset="0.8531" stop-color="#fb9d59"/><stop offset="1.0000" stop-color="#f7814c"/></linearGradient>
<linearGradient id="d197"><stop offset="0.0000" stop-color="#3387bc"/><stop offset="0.1952" stop-color="#3389bd"/><stop offset="0.2303" stop-color="#60bba8"/><stop offset="0.2412" stop-color="#6ec5a5"/><stop offset="0.2763" stop-color="#9fd8a4"/><stop offset="0.3311" stop-color="#d3ed9c"/><stop offset="0.3596" stop-color="#e7f59a"/><stop offset="0.4474" stop-color="#fffebe"/><stop offset="0.5702" stop-color="#fee18d"/><stop offset="0.7346" stop-color="#fdb768"/><stop offset="0.8947" stop-color="#f99355"/><stop offset="1.0000" stop-color="#f67f4b"/></linearGradient>
<linearGradient id="d198"><stop offset="0.0000" stop-color="#3387bc"/><stop offset="0.1908" stop-color="#3389bd"/><stop offset="0.2325" stop-color="#66c2a5"/><stop offset="0.2654" stop-color="#94d4a4"/><stop offset="0.3158" stop-color="#caea9e"/><stop offset="0.3531" stop-color="#e7f59a"/><stop offset="0.4430" stop-color="#fffebe"/><stop offset="0.5526" stop-color="#fee491"/><stop offset="0.6996" stop-color="#fdbd6d"/><stop offset="0.8268" stop-color="#fba05b"/><stop offset="0.9649" stop-color="#f7844e"/><stop offset="1.0000" stop-color="#f67c4a"/></linearGradient>
<linearGradient id="d199"><stop offset="0.0000" stop-color="#3387bc"/><stop offset="0.1886" stop-color="#3389bd"/><stop offset="0.2215" stop-color="#5eb9a9"/><stop offset="0.2368" stop-color="#74c7a5"/><stop offset="0.2939" stop-color="#bae3a1"/><stop offset="0.3487" stop-color="#e7f59a"/><stop offset="0.4364" stop-color="#fffebe"/><stop offset="0.5526" stop-color="#fee28f"/><stop offset="0.7018" stop-color="#fdbb6c"/><stop offset="0.8289" stop-color="#fb9d59"/><stop offset="1.0000" stop-color="#f67c4a"/></linearGradient>
<linearGradient id="d200"><stop offset="0.0000" stop-color="#3387bc"/><stop offset="0.1842" stop-color="#3389bd"/><stop offset="0.2259" stop-color="#69c3a5"/><stop offset="0.2785" stop-color="#aedea3"/><stop offset="0.3421" stop-color="#e6f598"/><stop offset="0.4298" stop-color="#ffffbe"/><stop offset="0.5570" stop-color="#fee08b"/><stop offset="0.7105" stop-color="#fdb768"/><stop offset="0.8794" stop-color="#f99153"/><stop offset="1.0000" stop-color="#f67a49"/></linearGradient>
<linearGradient id="d201"><stop offset="0.0000" stop-color="#3387bc"/><stop offset="0.1820" stop-color="#3389bd"/><stop offset="0.2215" stop-color="#66c2a5"/><stop offset="0.2697" stop-color="#aadca4"/><stop offset="0.3333" stop-color="#e4f498"/><stop offset="0.4276" stop-color="#fffebe"/><stop offset="0.5285" stop-color="#fee593"/><stop offset="0.6447" stop-color="#fdc574"/><stop offset="0.7807" stop-color="#fca55d"/><stop offset="0.9101" stop-color="#f88950"/><stop offset="1.0000" stop-color="#f57748"/></linearGradient>
<linearGradient id="d202"><stop offset="0.0000" stop-color="#3387bc"/><stop offset="0.1776" stop-color="#3387bc"/><stop offset="0.2171" stop-color="#66c2a5"/><stop offset="0.2610" stop-color="#a2d9a4"/><stop offset="0.3092" stop-color="#d3ed9c"/><stop offset="0.3355" stop-color="#e7f59a"/><stop offset="0.4211" stop-color="#fffebe"/><stop offset="0.5329" stop-color="#fee28f"/><stop offset="0.6711" stop-color="#fdbd6d"/><stop offset="0.8026" stop-color="#fb9d59"/><stop offset="0.9561" stop-color="#f67f4b"/><stop offset="1.0000" stop-color="#f57748"/></linearGradient>
<linearGradient id="d203"><stop offset="0.0000" stop-color="#3387bc"/><stop offset="0.1754" stop-color="#3389bd"/><stop offset="0.2127" stop-color="#64c0a6"/><stop offset="0.2566" stop-color="#a2d9a4"/><stop offset="0.3048" stop-color="#d3ed9c"/><stop offset="0.3311" stop-color="#e7f59a"/><stop offset="0.4145" stop-color="#ffffbe"/><stop offset="0.5329" stop-color="#fee18d"/><stop offset="0.6886" stop-color="#fdb768"/><stop offset="0.8509" stop-color="#f99153"/><stop offset="1.0000" stop-color="#f57547"/></linearGradient>
<linearGradient id="d204"><stop offset="0.0000" stop-color="#3387bc"/><stop offset="0.1711" stop-color="#3387bc"/><stop offset="0.2105" stop-color="#66c2a5"/><stop offset="0.2544" stop-color="#a4daa4"/><stop offset="0.3004" stop-color="#d3ed9c"/><stop offset="0.3268" stop-color="#e7f59a"/><stop offset="0.4101" stop-color="#fffebe"/><stop offset="0.5154" stop-color="#fee491"/><stop offset="0.6404" stop-color="#fdc171"/><stop offset="0.7632" stop-color="#fba35c"/><stop offset="0.9342" stop-color="#f67f4b"/><stop offset="1.0000" stop-color="#f57245"/></linearGradient>
<linearGradient id="d205"><stop offset="0.0000" stop-color="#3387bc"/><stop offset="0.1689" stop-color="#3389bd"/><stop offset="0.2083" stop-color="#69c3a5"/><stop offset="0.2588" stop-color="#aedea3"/><stop offset="0.3202" stop-color="#e6f598"/><stop offset="0.4035" stop-color="#ffffbe"/><stop offset="0.5197" stop-color="#fee18d"/><stop offset="0.6732" stop-color="#fdb768"/><stop offset="0.8355" stop-color="#f99153"/><stop offset="0.9868" stop-color="#f57547"/><stop offset="1.0000" stop-color="#f57245"/></linearGradient>
<linearGradient id="d206"><stop offset="0.0000" stop-color="#3387bc"/><stop offset="0.1667" stop-color="#3389bd"/><stop offset="0.1974" stop-color="#5eb9a9"/><stop offset="0.2127" stop-color="#74c7a5"/><stop offset="0.2456" stop-color="#a2d9a4"/><stop offset="0.2610" stop-color="#b5e1a2"/><stop offset="0.3158" stop-color="#e6f598"/><stop offset="0.3991" stop-color="#ffffbe"/><stop offset="0.5088" stop-color="#fee28f"/><stop offset="0.6491" stop-color="#fdbb6c"/><stop offset="0.7895" stop-color="#fa9857"/><stop offset="0.9759" stop-color="#f57547"/><stop offset="1.0000" stop-color="#f47044"/></linearGradient>
<linearGradient id="d207"><stop offset="0.0000" stop-color="#3387bc"/><stop offset="0.1623" stop-color="#3387bc"/><stop offset="0.1974" stop-color="#62bda7"/><stop offset="0.2434" stop-color="#a4daa4"/><stop offset="0.2961" stop-color="#daf09a"/><stop offset="0.3158" stop-color="#e8f69b"/><stop offset="0.3947" stop-color="#fffebe"/><stop offset="0.5088" stop-color="#fee18d"/><stop offset="0.6513" stop-color="#fdb96a"/><stop offset="0.7829" stop-color="#fa9857"/><stop offset="0.9671" stop-color="#f57547"/><stop offset="1.0000" stop-color="#f47044"/></linearGradient>
<linearGradient id="d208"><stop offset="0.0000" stop-color="#3387bc"/><stop offset="0.1601" stop-color="#3389bd"/><stop offset="0.1974" stop-color="#66c2a5"/><stop offset="0.2434" stop-color="#aadca4"/><stop offset="0.3026" stop-color="#e4f498"/><stop offset="0.3925" stop-color="#fffebe"/><stop offset="0.4912" stop-color="#fee491"/><stop offset="0.6184" stop-color="#fdbf6f"/><stop offset="0.7522" stop-color="#fb9d59"/><stop offset="0.9123" stop-color="#f67c4a"/><stop offset="1.0000" stop-color="#f46d43"/></linearGradient>
<linearGradient id="d209"><stop offset="0.0000" stop-color="#3387bc"/><stop offset="0.1557" stop-color="#3387bc"/><stop offset="0.1908" stop-color="#62bda7"/><stop offset="0.2325" stop-color="#9fd8a4"/><stop offset="0.2610" stop-color="#c1e6a0"/><stop offset="0.3048" stop-color="#e7f59a"/><stop offset="0.3838" stop-color="#ffffbe"/><stop offset="0.4912" stop-color="#fee28f"/><stop offset="0.6206" stop-color="#fdbd6d"/><stop offset="0.7346" stop-color="#fba05b"/><stop offset="0.8882" stop-color="#f67f4b"/><stop offset="1.0000" stop-color="#f36b43"/></linearGradient>
<linearGradient id="d210"><stop offset="0.0000" stop-color="#3387bc"/><stop offset="0.1535" stop-color="#3389bd"/><stop offset="0.1930" stop-color="#6bc4a5"/><stop offset="0.2368" stop-color="#aadca4"/><stop offset="0.2807" stop-color="#d8ef9b"/><stop offset="0.3004" stop-color="#e7f59a"/><stop offset="0.3794" stop-color="#ffffbe"/><stop offset="0.4846" stop-color="#fee28f"/><stop offset="0.6140" stop-color="#fdbd6d"/><stop offset="0.7281" stop-color="#fba05b"/><stop offset="0.8662" stop-color="#f7814c"/><stop offset="1.0000" stop-color="#f36b43"/></linearGradient>
<linearGradient id="d211"><stop offset="0.0000" stop-color="#3387bc"/><stop offset="0.1513" stop-color="#3389bd"/><stop offset="0.1864" stop-color="#66c2a5"/><stop offset="0.2325" stop-color="#aadca4"/><stop offset="0.2895" stop-color="#e4f498"/><stop offset="0.3772" stop-color="#fffebe"/><stop offset="0.4583" stop-color="#fee797"/><stop offset="0.5439" stop-color="#fece7c"/><stop offset="0.6820" stop-color="#fcaa5f"/><stop offset="0.7961" stop-color="#f98e52"/><stop offset="0.9430" stop-color="#f57245"/><stop offset="1.0000" stop-color="#f26944"/></linearGradient>
<linearGradient id="d212"><stop offset="0.0000" stop-color="#3387bc"/><stop offset="0.1469" stop-color="#3387bc"/><stop offset="0.1842" stop-color="#66c2a5"/><stop offset="0.2149" stop-color="#97d5a4"/><stop offset="0.2478" stop-color="#bfe5a0"/><stop offset="0.2917" stop-color="#e7f59a"/><stop offset="0.3706" stop-color="#fffebe"/><stop offset="0.4781" stop-color="#fee18d"/><stop offset="0.6228" stop-color="#fdb768"/><stop offset="0.7873" stop-color="#f98e52"/><stop offset="0.9342" stop-color="#f57245"/><stop offset="1.0000" stop-color="#f26944"/></linearGradient>
<linearGradient id="d213"><stop offset="0.0000" stop-color="#3387bc"/><stop offset="0.1447" stop-color="#3389bd"/><stop offset="0.1820" stop-color="#69c3a5"/><stop offset="0.2171" stop-color="#9fd8a4"/><stop offset="0.2500" stop-color="#c6e89f"/><stop offset="0.2873" stop-color="#e7f59a"/><stop offset="0.3640" stop-color="#ffffbe"/><stop offset="0.4671" stop-color="#fee28f"/><stop offset="0.5921" stop-color="#fdbd6d"/><stop offset="0.7039" stop-color="#fba05b"/><stop offset="0.8268" stop-color="#f7844e"/><stop offset="0.9693" stop-color="#f36b43"/><stop offset="1.0000" stop-color="#f06744"/></linearGradient>
<linearGradient id="d214"><stop offset="0.0000" stop-color="#3387bc"/><stop offset="0.1425" stop-color="#3389bd"/><stop offset="0.1754" stop-color="#64c0a6"/><stop offset="0.2171" stop-color="#a4daa4"/><stop offset="0.2610" stop-color="#d3ed9c"/><stop offset="0.2829" stop-color="#e7f59a"/><stop offset="0.3596" stop-color="#fffebe"/><stop offset="0.4715" stop-color="#fee08b"/><stop offset="0.6009" stop-color="#fdb96a"/><stop offset="0.7259" stop-color="#fa9857"/><stop offset="0.8575" stop-color="#f67c4a"/><stop offset="0.9715" stop-color="#f26944"/><stop offset="1.0000" stop-color="#ef6645"/></linearGradient>
<linearGradient id="d215"><stop offset="0.0000" stop-color="#3387bc"/><stop offset="0.1382" stop-color="#3387bc"/><stop offset="0.1732" stop-color="#66c2a5"/><stop offset="0.2171" stop-color="#aadca4"/><stop offset="0.2763" stop-color="#e6f598"/><stop offset="0.3531" stop-color="#ffffbe"/><stop offset="0.4605" stop-color="#fee18d"/><stop offset="0.6009" stop-color="#fdb768"/><stop offset="0.7719" stop-color="#f88c51"/><stop offset="0.9342" stop-color="#f46d43"/><stop offset="1.0000" stop-color="#ef6645"/></linearGradient>
<linearGradient id="d216"><stop offset="0.0000" stop-color="#3387bc"/><stop offset="0.1360" stop-color="#3389bd"/><stop offset="0.1689" stop-color="#64c0a6"/><stop offset="0.2061" stop-color="#9fd8a4"/><stop offset="0.2346" stop-color="#c1e6a0"/><stop offset="0.2741" stop-color="#e7f59a"/><stop offset="0.3487" stop-color="#ffffbe"/><stop offset="0.4627" stop-color="#fede89"/><stop offset="0.6009" stop-color="#fdb567"/><stop offset="0.7632" stop-color="#f88c51"/><stop offset="0.9101" stop-color="#f47044"/><stop offset="1.0000" stop-color="#ee6445"/></linearGradient>
<linearGradient id="d217"><stop offset="0.0000" stop-color="#3387bc"/><stop offset="0.1316" stop-color="#3387bc"/><stop offset="0.1667" stop-color="#66c2a5"/><stop offset="0.2083" stop-color="#a7dba4"/><stop offset="0.2675" stop-color="#e6f598"/><stop offset="0.3443" stop-color="#fffebe"/><stop offset="0.4430" stop-color="#fee28f"/><stop offset="0.5702" stop-color="#fdbb6c"/><stop offset="0.6996" stop-color="#fa9857"/><stop offset="0.8421" stop-color="#f67a49"/><stop offset="0.9452" stop-color="#f26944"/><stop offset="1.0000" stop-color="#ee6445"/></linearGradient>
<linearGradient id="d218"><stop offset="0.0000" stop-color="#3387bc"/><stop offset="0.1294" stop-color="#3389bd"/><stop offset="0.1645" stop-color="#69c3a5"/><stop offset="0.2083" stop-color="#acdda4"/><stop offset="0.2632" stop-color="#e6f598"/><stop offset="0.3377" stop-color="#ffffbe"/><stop offset="0.4518" stop-color="#fede89"/><stop offset="0.5855" stop-color="#fdb567"/><stop offset="0.7566" stop-color="#f88950"/><stop offset="0.8904" stop-color="#f47044"/><stop offset="1.0000" stop-color="#ed6246"/></linearGradient>
<linearGradient id="d219"><stop offset="0.0000" stop-color="#3387bc"/><stop offset="0.1272" stop-color="#3389bd"/><stop offset="0.1601" stop-color="#66c2a5"/><stop offset="0.1952" stop-color="#9fd8a4"/><stop offset="0.2346" stop-color="#cfec9d"/><stop offset="0.2610" stop-color="#e7f59a"/><stop offset="0.3333" stop-color="#ffffbe"/><stop offset="0.4364" stop-color="#fee18d"/><stop offset="0.5702" stop-color="#fdb768"/><stop offset="0.7368" stop-color="#f88c51"/><stop offset="0.8947" stop-color="#f46d43"/><stop offset="1.0000" stop-color="#eb6046"/></linearGradient>
<linearGradient id="d220"><stop offset="0.0000" stop-color="#3387bc"/><stop offset="0.1228" stop-color="#3387bc"/><stop offset="0.1579" stop-color="#69c3a5"/><stop offset="0.1952" stop-color="#a4daa4"/><stop offset="0.2390" stop-color="#d8ef9b"/><stop offset="0.2566" stop-color="#e7f59a"/><stop offset="0.3289" stop-color="#ffffbe"/><stop offset="0.4386" stop-color="#fede89"/><stop offset="0.5724" stop-color="#fdb567"/><stop offset="0.7281" stop-color="#f88c51"/><stop offset="0.8947" stop-color="#f36b43"/><stop offset="1.0000" stop-color="#eb6046"/></linearGradient>
<linearGradient id="d221"><stop offset="0.0000" stop-color="#3387bc"/><stop offset="0.1206" stop-color="#3389bd"/><stop offset="0.1535" stop-color="#66c2a5"/><stop offset="0.1930" stop-color="#a7dba4"/><stop offset="0.2325" stop-color="#d6ee9b"/><stop offset="0.2522" stop-color="#e7f59a"/><stop offset="0.3246" stop-color="#fffebe"/><stop offset="0.4189" stop-color="#fee28f"/><stop offset="0.5482" stop-color="#fdb96a"/><stop offset="0.6776" stop-color="#fa9656"/><stop offset="0.8158" stop-color="#f57748"/><stop offset="0.9079" stop-color="#f26944"/><stop offset="1.0000" stop-color="#ea5e47"/></linearGradient>
<linearGradient id="d222"><stop offset="0.0000" stop-color="#3387bc"/><stop offset="0.1162" stop-color="#3387bc"/><stop offset="0.1513" stop-color="#69c3a5"/><stop offset="0.1908" stop-color="#aadca4"/><stop offset="0.2478" stop-color="#e7f59a"/><stop offset="0.3180" stop-color="#ffffbe"/><stop offset="0.4167" stop-color="#fee18d"/><stop offset="0.5570" stop-color="#fdb567"/><stop offset="0.7105" stop-color="#f88c51"/><stop offset="0.8487" stop-color="#f47044"/><stop offset="1.0000" stop-color="#ea5e47"/></linearGradient>
<linearGradient id="d223"><stop offset="0.0000" stop-color="#3387bc"/><stop offset="0.1140" stop-color="#3387bc"/><stop offset="0.1447" stop-color="#64c0a6"/><stop offset="0.1908" stop-color="#aedea3"/><stop offset="0.2434" stop-color="#e7f59a"/><stop offset="0.3136" stop-color="#fffebe"/><stop offset="0.4167" stop-color="#fee08b"/><stop offset="0.5351" stop-color="#fdb96a"/><stop offset="0.6579" stop-color="#fa9656"/><stop offset="0.8092" stop-color="#f57547"/><stop offset="0.9101" stop-color="#ef6645"/><stop offset="1.0000" stop-color="#e95c47"/></linearGradient>
<linearGradient id="d224"><stop offset="0.0000" stop-color="#3387bc"/><stop offset="0.1118" stop-color="#3389bd"/><stop offset="0.1425" stop-color="#64c0a6"/><stop offset="0.1711" stop-color="#97d5a4"/><stop offset="0.1908" stop-color="#b3e0a2"/><stop offset="0.2390" stop-color="#e7f59a"/><stop offset="0.3092" stop-color="#fffebe"/><stop offset="0.4057" stop-color="#fee18d"/><stop offset="0.5395" stop-color="#fdb567"/><stop offset="0.7018" stop-color="#f88950"/><stop offset="0.8553" stop-color="#f36b43"/><stop offset="1.0000" stop-color="#e85b48"/></linearGradient>
<linearGradient id="d225"><stop offset="0.0000" stop-color="#3387bc"/><stop offset="0.1075" stop-color="#3387bc"/><stop offset="0.1382" stop-color="#64c0a6"/><stop offset="0.1776" stop-color="#a7dba4"/><stop offset="0.2171" stop-color="#d6ee9b"/><stop offset="0.2346" stop-color="#e7f59a"/><stop offset="0.3026" stop-color="#ffffbe"/><stop offset="0.3947" stop-color="#fee28f"/><stop offset="0.5066" stop-color="#fdbd6d"/><stop offset="0.6140" stop-color="#fb9d59"/><stop offset="0.7500" stop-color="#f67c4a"/><stop offset="0.8575" stop-color="#f26944"/><stop offset="1.0000" stop-color="#e85b48"/></linearGradient>
<linearGradient id="d226"><stop offset="0.0000" stop-color="#3387bc"/><stop offset="0.1053" stop-color="#3389bd"/><stop offset="0.1360" stop-color="#66c2a5"/><stop offset="0.1689" stop-color="#9fd8a4"/><stop offset="0.2018" stop-color="#caea9e"/><stop offset="0.2303" stop-color="#e7f59a"/><stop offset="0.2982" stop-color="#fffebe"/><stop offset="0.3882" stop-color="#fee28f"/><stop offset="0.5110" stop-color="#fdb96a"/><stop offset="0.6513" stop-color="#f99153"/><stop offset="0.7939" stop-color="#f57245"/><stop offset="0.9518" stop-color="#ea5e47"/><stop offset="1.0000" stop-color="#e75948"/></linearGradient>
<linearGradient id="d227"><stop offset="0.0000" stop-color="#3387bc"/><stop offset="0.1009" stop-color="#3387bc"/><stop offset="0.1338" stop-color="#69c3a5"/><stop offset="0.1732" stop-color="#acdda4"/><stop offset="0.2237" stop-color="#e6f598"/><stop offset="0.2917" stop-color="#ffffbe"/><stop offset="0.3947" stop-color="#fede89"/><stop offset="0.5241" stop-color="#fdb365"/><stop offset="0.6754" stop-color="#f88950"/><stop offset="0.8114" stop-color="#f46d43"/><stop offset="1.0000" stop-color="#e75948"/></linearGradient>
<linearGradient id="d228"><stop offset="0.0000" stop-color="#3387bc"/><stop offset="0.0987" stop-color="#3387bc"/><stop offset="0.1228" stop-color="#5cb7aa"/><stop offset="0.1338" stop-color="#6ec5a5"/><stop offset="0.1711" stop-color="#aedea3"/><stop offset="0.2193" stop-color="#e6f598"/><stop offset="0.2873" stop-color="#ffffbe"/><stop offset="0.3882" stop-color="#fede89"/><stop offset="0.5175" stop-color="#fdb365"/><stop offset="0.6667" stop-color="#f88950"/><stop offset="0.7873" stop-color="#f47044"/><stop offset="1.0000" stop-color="#e55749"/></linearGradient>
<linearGradient id="d229"><stop offset="0.0000" stop-color="#3387bc"/><stop offset="0.0965" stop-color="#3389bd"/><stop offset="0.1272" stop-color="#69c3a5"/><stop offset="0.1667" stop-color="#aedea3"/><stop offset="0.2149" stop-color="#e6f598"/><stop offset="0.2829" stop-color="#fffebe"/><stop offset="0.3794" stop-color="#fee08b"/><stop offset="0.4956" stop-color="#fdb768"/><stop offset="0.6469" stop-color="#f88c51"/><stop offset="0.7895" stop-color="#f46d43"/><stop offset="1.0000" stop-color="#e45549"/></linearGradient>
<linearGradient id="d230"><stop offset="0.0000" stop-color="#3387bc"/><stop offset="0.0921" stop-color="#3387bc"/><stop offset="0.1228" stop-color="#66c2a5"/><stop offset="0.1601" stop-color="#aadca4"/><stop offset="0.2083" stop-color="#e4f498"/><stop offset="0.2785" stop-color="#fffebe"/><stop offset="0.3596" stop-color="#fee491"/><stop offset="0.4693" stop-color="#fdbd6d"/><stop offset="0.5811" stop-color="#fa9b58"/><stop offset="0.7039" stop-color="#f67c4a"/><stop offset="0.8048" stop-color="#f26944"/><stop offset="1.0000" stop-color="#e45549"/></linearGradient>
<linearGradient id="d231"><stop offset="0.0000" stop-color="#3387bc"/><stop offset="0.0899" stop-color="#3389bd"/><stop offset="0.1206" stop-color="#69c3a5"/><stop offset="0.1579" stop-color="#acdda4"/><stop offset="0.2061" stop-color="#e6f598"/><stop offset="0.2719" stop-color="#ffffbe"/><stop offset="0.3618" stop-color="#fee18d"/><stop offset="0.4890" stop-color="#fdb567"/><stop offset="0.6294" stop-color="#f88c51"/><stop offset="0.7566" stop-color="#f47044"/><stop offset="0.9693" stop-color="#e55749"/><stop offset="1.0000" stop-color="#e3534a"/></linearGradient>
<linearGradient id="d232"><stop offset="0.0000" stop-color="#3387bc"/><stop offset="0.0877" stop-color="#3389bd"/><stop offset="0.1118" stop-color="#60bba8"/><stop offset="0.1338" stop-color="#89d0a4"/><stop offset="0.1579" stop-color="#b1dfa3"/><stop offset="0.2018" stop-color="#e6f598"/><stop offset="0.2675" stop-color="#fffebe"/><stop offset="0.3640" stop-color="#fede89"/><stop offset="0.4890" stop-color="#fdb365"/><stop offset="0.6404" stop-color="#f8864f"/><stop offset="0.7697" stop-color="#f36b43"/><stop offset="1.0000" stop-color="#e3534a"/></linearGradient>
<linearGradient id="d233"><stop offset="0.0000" stop-color="#3387bc"/><stop offset="0.0833" stop-color="#3387bc"/><stop offset="0.1140" stop-color="#69c3a5"/><stop offset="0.1513" stop-color="#aedea3"/><stop offset="0.1974" stop-color="#e6f598"/><stop offset="0.2632" stop-color="#fffebe"/><stop offset="0.3531" stop-color="#fee08b"/><stop offset="0.4737" stop-color="#fdb567"/><stop offset="0.6316" stop-color="#f8864f"/><stop offset="0.7500" stop-color="#f46d43"/><stop offset="0.9846" stop-color="#e3534a"/><stop offset="1.0000" stop-color="#e2514a"/></linearGradient>
<linearGradient id="d234"><stop offset="0.0000" stop-color="#3387bc"/><stop offset="0.0811" stop-color="#3389bd"/><stop offset="0.1096" stop-color="#66c2a5"/><stop offset="0.1404" stop-color="#a2d9a4"/><stop offset="0.1754" stop-color="#d1ed9c"/><stop offset="0.1952" stop-color="#e7f59a"/><stop offset="0.2566" stop-color="#ffffbe"/><stop offset="0.3399" stop-color="#fee28f"/><stop offset="0.4474" stop-color="#fdbb6c"/><stop offset="0.5548" stop-color="#fa9857"/><stop offset="0.6886" stop-color="#f57748"/><stop offset="0.7675" stop-color="#f26944"/><stop offset="1.0000" stop-color="#e1504b"/></linearGradient>
<linearGradient id="d235"><stop offset="0.0000" stop-color="#3387bc"/><stop offset="0.0768" stop-color="#3387bc"/><stop offset="0.1075" stop-color="#69c3a5"/><stop offset="0.1382" stop-color="#a4daa4"/><stop offset="0.1711" stop-color="#d1ed9c"/><stop offset="0.1908" stop-color="#e7f59a"/><stop offset="0.2522" stop-color="#fffebe"/><stop offset="0.3333" stop-color="#fee28f"/><stop offset="0.4408" stop-color="#fdbb6c"/><stop offset="0.5373" stop-color="#fa9b58"/><stop offset="0.6667" stop-color="#f67a49"/><stop offset="0.7544" stop-color="#f26944"/><stop offset="1.0000" stop-color="#e1504b"/></linearGradient>
<linearGradient id="d236"><stop offset="0.0000" stop-color="#3387bc"/><stop offset="0.0746" stop-color="#3389bd"/><stop offset="0.1031" stop-color="#66c2a5"/><stop offset="0.1294" stop-color="#9cd7a4"/><stop offset="0.1579" stop-color="#c6e89f"/><stop offset="0.1864" stop-color="#e7f59a"/><stop offset="0.2478" stop-color="#fffebe"/><stop offset="0.3311" stop-color="#fee18d"/><stop offset="0.4452" stop-color="#fdb768"/><stop offset="0.5833" stop-color="#f88c51"/><stop offset="0.7171" stop-color="#f46d43"/><stop offset="0.9649" stop-color="#e2514a"/><stop offset="1.0000" stop-color="#df4e4b"/></linearGradient>
<linearGradient id="d237"><stop offset="0.0000" stop-color="#3387bc"/><stop offset="0.0724" stop-color="#3389bd"/><stop offset="0.0987" stop-color="#66c2a5"/><stop offset="0.1360" stop-color="#aedea3"/><stop offset="0.1798" stop-color="#e6f598"/><stop offset="0.2412" stop-color="#ffffbe"/><stop offset="0.3289" stop-color="#fee08b"/><stop offset="0.4320" stop-color="#fdb96a"/><stop offset="0.5307" stop-color="#fa9857"/><stop offset="0.6469" stop-color="#f67a49"/><stop offset="0.7346" stop-color="#f26944"/><stop offset="0.9737" stop-color="#e1504b"/><stop offset="1.0000" stop-color="#df4e4b"/></linearGradient>
<linearGradient id="d238"><stop offset="0.0000" stop-color="#3387bc"/><stop offset="0.0680" stop-color="#3387bc"/><stop offset="0.0965" stop-color="#69c3a5"/><stop offset="0.1338" stop-color="#b1dfa3"/><stop offset="0.1754" stop-color="#e6f598"/><stop offset="0.2368" stop-color="#fffebe"/><stop offset="0.3224" stop-color="#fee08b"/><stop offset="0.4298" stop-color="#fdb768"/><stop offset="0.5658" stop-color="#f88c51"/><stop offset="0.6842" stop-color="#f47044"/><stop offset="0.8816" stop-color="#e55749"/><stop offset="1.0000" stop-color="#de4c4b"/></linearGradient>
<linearGradient id="d239"><stop offset="0.0000" stop-color="#3387bc"/><stop offset="0.0658" stop-color="#3389bd"/><stop offset="0.0943" stop-color="#6bc4a5"/><stop offset="0.1272" stop-color="#acdda4"/><stop offset="0.1711" stop-color="#e6f598"/><stop offset="0.2303" stop-color="#ffffbe"/><stop offset="0.3092" stop-color="#fee28f"/><stop offset="0.4101" stop-color="#fdbb6c"/><stop offset="0.5132" stop-color="#fa9857"/><stop offset="0.6272" stop-color="#f67a49"/><stop offset="0.7105" stop-color="#f26944"/><stop offset="0.9671" stop-color="#df4e4b"/><stop offset="1.0000" stop-color="#dd4a4c"/></linearGradient>
<linearGradient id="d240"><stop offset="0.0000" stop-color="#3387bc"/><stop offset="0.0614" stop-color="#3387bc"/><stop offset="0.0899" stop-color="#69c3a5"/><stop offset="0.1228" stop-color="#acdda4"/><stop offset="0.1667" stop-color="#e6f598"/><stop offset="0.2259" stop-color="#ffffbe"/><stop offset="0.3070" stop-color="#fee18d"/><stop offset="0.4211" stop-color="#fdb567"/><stop offset="0.5482" stop-color="#f88c51"/><stop offset="0.6623" stop-color="#f47044"/><stop offset="0.8553" stop-color="#e55749"/><stop offset="1.0000" stop-color="#dd4a4c"/></linearGradient>
<linearGradient id="d241"><stop offset="0.0000" stop-color="#3387bc"/><stop offset="0.0592" stop-color="#3389bd"/><stop offset="0.0877" stop-color="#6bc4a5"/><stop offset="0.1162" stop-color="#a7dba4"/><stop offset="0.1601" stop-color="#e4f498"/><stop offset="0.2215" stop-color="#fffebe"/><stop offset="0.2961" stop-color="#fee28f"/><stop offset="0.4013" stop-color="#fdb96a"/><stop offset="0.5132" stop-color="#f99355"/><stop offset="0.6184" stop-color="#f57748"/><stop offset="0.6886" stop-color="#f26944"/><stop offset="0.9386" stop-color="#df4e4b"/><stop offset="1.0000" stop-color="#dc484c"/></linearGradient>
<linearGradient id="d242"><stop offset="0.0000" stop-color="#3387bc"/><stop offset="0.0548" stop-color="#3387bc"/><stop offset="0.0833" stop-color="#69c3a5"/><stop offset="0.1096" stop-color="#a2d9a4"/><stop offset="0.1382" stop-color="#cdeb9d"/><stop offset="0.1601" stop-color="#e7f59a"/><stop offset="0.2149" stop-color="#ffffbe"/><stop offset="0.2939" stop-color="#fee18d"/><stop offset="0.4057" stop-color="#fdb567"/><stop offset="0.5373" stop-color="#f88950"/><stop offset="0.6645" stop-color="#f36b43"/><stop offset="0.9035" stop-color="#e1504b"/><stop offset="1.0000" stop-color="#da464d"/></linearGradient>
<linearGradient id="d243"><stop offset="0.0000" stop-color="#3387bc"/><stop offset="0.0526" stop-color="#3387bc"/><stop offset="0.0768" stop-color="#62bda7"/><stop offset="0.1031" stop-color="#9cd7a4"/><stop offset="0.1272" stop-color="#c3e79f"/><stop offset="0.1535" stop-color="#e6f598"/><stop offset="0.2105" stop-color="#ffffbe"/><stop offset="0.2917" stop-color="#fee08b"/><stop offset="0.3860" stop-color="#fdb96a"/><stop offset="0.4868" stop-color="#fa9656"/><stop offset="0.6075" stop-color="#f57547"/><stop offset="0.6952" stop-color="#ef6645"/><stop offset="0.9342" stop-color="#de4c4b"/><stop offset="1.0000" stop-color="#da464d"/></linearGradient>
<linearGradient id="d244"><stop offset="0.0000" stop-color="#3387bc"/><stop offset="0.0504" stop-color="#3389bd"/><stop offset="0.0746" stop-color="#64c0a6"/><stop offset="0.1009" stop-color="#9fd8a4"/><stop offset="0.1294" stop-color="#cdeb9d"/><stop offset="0.1513" stop-color="#e7f59a"/><stop offset="0.2061" stop-color="#fffebe"/><stop offset="0.2851" stop-color="#fee08b"/><stop offset="0.3794" stop-color="#fdb96a"/><stop offset="0.4781" stop-color="#fa9656"/><stop offset="0.5877" stop-color="#f57748"/><stop offset="0.6579" stop-color="#f26944"/><stop offset="0.8794" stop-color="#e1504b"/><stop offset="1.0000" stop-color="#d9444d"/></linearGradient>
<linearGradient id="d245"><stop offset="0.0000" stop-color="#3387bc"/><stop offset="0.0461" stop-color="#3387bc"/><stop offset="0.0724" stop-color="#66c2a5"/><stop offset="0.0943" stop-color="#99d6a4"/><stop offset="0.1206" stop-color="#c6e89f"/><stop offset="0.1469" stop-color="#e7f59a"/><stop offset="0.1996" stop-color="#ffffbe"/><stop offset="0.2719" stop-color="#fee28f"/><stop offset="0.3772" stop-color="#fdb768"/><stop offset="0.4934" stop-color="#f98e52"/><stop offset="0.6096" stop-color="#f47044"/><stop offset="0.7917" stop-color="#e55749"/><stop offset="1.0000" stop-color="#d9444d"/></linearGradient>
<linearGradient id="d246"><stop offset="0.0000" stop-color="#3387bc"/><stop offset="0.0439" stop-color="#3387bc"/><stop offset="0.0658" stop-color="#60bba8"/><stop offset="0.0855" stop-color="#8fd2a4"/><stop offset="0.1075" stop-color="#b8e2a1"/><stop offset="0.1404" stop-color="#e6f598"/><stop offset="0.1952" stop-color="#ffffbe"/><stop offset="0.2697" stop-color="#fee18d"/><stop offset="0.3750" stop-color="#fdb567"/><stop offset="0.4934" stop-color="#f88c51"/><stop offset="0.6096" stop-color="#f46d43"/><stop offset="0.8509" stop-color="#e1504b"/><stop offset="1.0000" stop-color="#d8434e"/></linearGradient>
<linearGradient id="d247"><stop offset="0.0000" stop-color="#3387bc"/><stop offset="0.0417" stop-color="#3389bd"/><stop offset="0.0658" stop-color="#69c3a5"/><stop offset="0.0987" stop-color="#b1dfa3"/><stop offset="0.1360" stop-color="#e6f598"/><stop offset="0.1908" stop-color="#fffebe"/><stop offset="0.2632" stop-color="#fee18d"/><stop offset="0.3728" stop-color="#fdb365"/><stop offset="0.5000" stop-color="#f8864f"/><stop offset="0.6118" stop-color="#f36b43"/><stop offset="0.8377" stop-color="#e1504b"/><stop offset="1.0000" stop-color="#d8434e"/></linearGradient>
<linearGradient id="d248"><stop offset="0.0000" stop-color="#3387bc"/><stop offset="0.0373" stop-color="#3387bc"/><stop offset="0.0614" stop-color="#66c2a5"/><stop offset="0.0899" stop-color="#a7dba4"/><stop offset="0.1294" stop-color="#e4f498"/><stop offset="0.1864" stop-color="#fffebe"/><stop offset="0.2500" stop-color="#fee491"/><stop offset="0.3443" stop-color="#fdbb6c"/><stop offset="0.4298" stop-color="#fa9b58"/><stop offset="0.5285" stop-color="#f67c4a"/><stop offset="0.6096" stop-color="#f26944"/><stop offset="0.8465" stop-color="#df4e4b"/><stop offset="1.0000" stop-color="#d7414e"/></linearGradient>
<linearGradient id="d249"><stop offset="0.0000" stop-color="#3387bc"/><stop offset="0.0351" stop-color="#3389bd"/><stop offset="0.0592" stop-color="#69c3a5"/><stop offset="0.0833" stop-color="#a2d9a4"/><stop offset="0.1184" stop-color="#daf09a"/><stop offset="0.1316" stop-color="#e8f69b"/><stop offset="0.1798" stop-color="#ffffbe"/><stop offset="0.2478" stop-color="#fee28f"/><stop offset="0.3421" stop-color="#fdb96a"/><stop offset="0.4342" stop-color="#fa9656"/><stop offset="0.5482" stop-color="#f57547"/><stop offset="0.6228" stop-color="#ef6645"/><stop offset="0.8706" stop-color="#dd4a4c"/><stop offset="1.0000" stop-color="#d63f4f"/></linearGradient>
<linearGradient id="d250"><stop offset="0.0000" stop-color="#3387bc"/><stop offset="0.0307" stop-color="#3387bc"/><stop offset="0.0439" stop-color="#4ea7b0"/><stop offset="0.0548" stop-color="#66c2a5"/><stop offset="0.0833" stop-color="#aadca4"/><stop offset="0.1228" stop-color="#e6f598"/><stop offset="0.1754" stop-color="#fffebe"/><stop offset="0.2478" stop-color="#fee08b"/><stop offset="0.3509" stop-color="#fdb365"/><stop offset="0.4649" stop-color="#f88950"/><stop offset="0.5768" stop-color="#f36b43"/><stop offset="0.8004" stop-color="#e1504b"/><stop offset="1.0000" stop-color="#d63f4f"/></linearGradient>
<linearGradient id="d251"><stop offset="0.0000" stop-color="#3387bc"/><stop offset="0.0285" stop-color="#3387bc"/><stop offset="0.0504" stop-color="#64c0a6"/><stop offset="0.0811" stop-color="#acdda4"/><stop offset="0.1184" stop-color="#e6f598"/><stop offset="0.1711" stop-color="#fffebe"/><stop offset="0.2346" stop-color="#fee28f"/><stop offset="0.3377" stop-color="#fdb567"/><stop offset="0.4561" stop-color="#f88950"/><stop offset="0.5482" stop-color="#f47044"/><stop offset="0.7149" stop-color="#e55749"/><stop offset="0.9868" stop-color="#d63f4f"/><stop offset="1.0000" stop-color="#d43d4f"/></linearGradient>
<linearGradient id="d252"><stop offset="0.0000" stop-color="#3387bc"/><stop offset="0.0263" stop-color="#3389bd"/><stop offset="0.0482" stop-color="#66c2a5"/><stop offset="0.0789" stop-color="#aedea3"/><stop offset="0.1140" stop-color="#e6f598"/><stop offset="0.1645" stop-color="#ffffbe"/><stop offset="0.2325" stop-color="#fee18d"/><stop offset="0.3465" stop-color="#fdaf62"/><stop offset="0.4386" stop-color="#f88c51"/><stop offset="0.5482" stop-color="#f46d43"/><stop offset="0.7522" stop-color="#e2514a"/><stop offset="1.0000" stop-color="#d43d4f"/></linearGradient>
<linearGradient id="d253"><stop offset="0.0000" stop-color="#3387bc"/><stop offset="0.0219" stop-color="#3387bc"/><stop offset="0.0461" stop-color="#69c3a5"/><stop offset="0.0746" stop-color="#acdda4"/><stop offset="0.1053" stop-color="#dff299"/><stop offset="0.1140" stop-color="#e8f69b"/><stop offset="0.1601" stop-color="#fffebe"/><stop offset="0.2237" stop-color="#fee28f"/><stop offset="0.3180" stop-color="#fdb768"/><stop offset="0.4276" stop-color="#f88c51"/><stop offset="0.5461" stop-color="#f36b43"/><stop offset="0.7588" stop-color="#e1504b"/><stop offset="1.0000" stop-color="#d23a4e"/></linearGradient>
<linearGradient id="d254"><stop offset="0.0000" stop-color="#3387bc"/><stop offset="0.0197" stop-color="#3387bc"/><stop offset="0.0417" stop-color="#66c2a5"/><stop offset="0.0702" stop-color="#acdda4"/><stop offset="0.1053" stop-color="#e6f598"/><stop offset="0.1535" stop-color="#ffffbe"/><stop offset="0.2303" stop-color="#fedc88"/><stop offset="0.3311" stop-color="#fdaf62"/><stop offset="0.4364" stop-color="#f8864f"/><stop offset="0.5373" stop-color="#f36b43"/><stop offset="0.7434" stop-color="#e1504b"/><stop offset="1.0000" stop-color="#d0384e"/></linearGradient>
<linearGradient id="d255"><stop offset="0.0000" stop-color="#3387bc"/><stop offset="0.0175" stop-color="#3389bd"/><stop offset="0.0395" stop-color="#69c3a5"/><stop offset="0.0658" stop-color="#aadca4"/><stop offset="0.0921" stop-color="#d8ef9b"/><stop offset="0.1031" stop-color="#e7f59a"/><stop offset="0.1491" stop-color="#ffffbe"/><stop offset="0.2149" stop-color="#fee18d"/><stop offset="0.3114" stop-color="#fdb365"/><stop offset="0.4276" stop-color="#f8864f"/><stop offset="0.5263" stop-color="#f36b43"/><stop offset="0.7303" stop-color="#e1504b"/><stop offset="1.0000" stop-color="#d0384e"/></linearGradient>
<linearGradient id="d256"><stop offset="0.0000" stop-color="#3387bc"/><stop offset="0.0132" stop-color="#3387bc"/><stop offset="0.0351" stop-color="#66c2a5"/><stop offset="0.0636" stop-color="#aedea3"/><stop offset="0.0965" stop-color="#e6f598"/><stop offset="0.1447" stop-color="#fffebe"/><stop offset="0.2149" stop-color="#fede89"/><stop offset="0.3004" stop-color="#fdb567"/><stop offset="0.4254" stop-color="#f7844e"/><stop offset="0.5154" stop-color="#f36b43"/><stop offset="0.7193" stop-color="#e1504b"/><stop offset="1.0000" stop-color="#cd364d"/></linearGradient>
<linearGradient id="d257"><stop offset="0.0000" stop-color="#3387bc"/><stop offset="0.0110" stop-color="#3387bc"/><stop offset="0.0307" stop-color="#64c0a6"/><stop offset="0.0658" stop-color="#bae3a1"/><stop offset="0.0943" stop-color="#e7f59a"/><stop offset="0.1404" stop-color="#fffebe"/><stop offset="0.1996" stop-color="#fee28f"/><stop offset="0.2829" stop-color="#fdb96a"/><stop offset="0.3728" stop-color="#f99355"/><stop offset="0.4671" stop-color="#f57547"/><stop offset="0.5351" stop-color="#ef6645"/><stop offset="0.7412" stop-color="#de4c4b"/><stop offset="1.0000" stop-color="#cd364d"/></linearGradient>
<linearGradient id="d258"><stop offset="0.0000" stop-color="#3387bc"/><stop offset="0.0088" stop-color="#3389bd"/><stop offset="0.0285" stop-color="#66c2a5"/><stop offset="0.0548" stop-color="#acdda4"/><stop offset="0.0899" stop-color="#e7f59a"/><stop offset="0.1338" stop-color="#ffffbe"/><stop offset="0.1996" stop-color="#fee08b"/><stop offset="0.2851" stop-color="#fdb567"/><stop offset="0.3925" stop-color="#f88950"/><stop offset="0.4934" stop-color="#f36b43"/><stop offset="0.7061" stop-color="#df4e4b"/><stop offset="1.0000" stop-color="#cb334d"/></linearGradient>
<linearGradient id="d259"><stop offset="0.0000" stop-color="#3387bc"/><stop offset="0.0044" stop-color="#3387bc"/><stop offset="0.0132" stop-color="#47a0b3"/><stop offset="0.0263" stop-color="#69c3a5"/><stop offset="0.0504" stop-color="#aadca4"/><stop offset="0.0811" stop-color="#e1f399"/><stop offset="0.1009" stop-color="#f0f9a7"/><stop offset="0.1316" stop-color="#fffebe"/><stop offset="0.1842" stop-color="#fee491"/><stop offset="0.2719" stop-color="#fdb768"/><stop offset="0.3838" stop-color="#f88950"/><stop offset="0.4825" stop-color="#f36b43"/><stop offset="0.6776" stop-color="#e1504b"/><stop offset="0.9693" stop-color="#cd364d"/><stop offset="1.0000" stop-color="#c9314c"/></linearGradient>
<linearGradient id="d260"><stop offset="0.0000" stop-color="#3387bc"/><stop offset="0.0022" stop-color="#3387bc"/><stop offset="0.0219" stop-color="#66c2a5"/><stop offset="0.0461" stop-color="#a7dba4"/><stop offset="0.0702" stop-color="#d6ee9b"/><stop offset="0.0833" stop-color="#e8f69b"/><stop offset="0.1250" stop-color="#fffebe"/><stop offset="0.1820" stop-color="#fee28f"/><stop offset="0.2654" stop-color="#fdb768"/><stop offset="0.3794" stop-color="#f8864f"/><stop offset="0.4737" stop-color="#f36b43"/><stop offset="0.6645" stop-color="#e1504b"/><stop offset="0.9518" stop-color="#cd364d"/><stop offset="1.0000" stop-color="#c9314c"/></linearGradient>
<linearGradient id="d261"><stop offset="0.0000" stop-color="#3389bd"/><stop offset="0.0197" stop-color="#69c3a5"/><stop offset="0.0439" stop-color="#acdda4"/><stop offset="0.0746" stop-color="#e4f498"/><stop offset="0.1206" stop-color="#fffebe"/><stop offset="0.1732" stop-color="#fee491"/><stop offset="0.2456" stop-color="#fdbd6d"/><stop offset="0.3202" stop-color="#fa9b58"/><stop offset="0.4101" stop-color="#f67a49"/><stop offset="0.4759" stop-color="#f26944"/><stop offset="0.6513" stop-color="#e1504b"/><stop offset="0.9342" stop-color="#cd364d"/><stop offset="1.0000" stop-color="#c72e4c"/></linearGradient>
<linearGradient id="d262"><stop offset="0.0000" stop-color="#3b92b9"/><stop offset="0.0154" stop-color="#64c0a6"/><stop offset="0.0395" stop-color="#aadca4"/><stop offset="0.0702" stop-color="#e4f498"/><stop offset="0.1162" stop-color="#fffebe"/><stop offset="0.1732" stop-color="#fee18d"/><stop offset="0.2522" stop-color="#fdb768"/><stop offset="0.3553" stop-color="#f88950"/><stop offset="0.4518" stop-color="#f36b43"/><stop offset="0.6382" stop-color="#e1504b"/><stop offset="0.9167" stop-color="#cd364d"/><stop offset="1.0000" stop-color="#c72e4c"/></linearGradient>
<linearGradient id="d263"><stop offset="0.0000" stop-color="#459eb4"/><stop offset="0.0132" stop-color="#69c3a5"/><stop offset="0.0351" stop-color="#a7dba4"/><stop offset="0.0592" stop-color="#d8ef9b"/><stop offset="0.0680" stop-color="#e6f598"/><stop offset="0.1096" stop-color="#ffffbe"/><stop offset="0.1754" stop-color="#fedc88"/><stop offset="0.2632" stop-color="#fdaf62"/><stop offset="0.3531" stop-color="#f8864f"/><stop offset="0.4474" stop-color="#f26944"/><stop offset="0.6557" stop-color="#de4c4b"/><stop offset="0.9583" stop-color="#c9314c"/><stop offset="1.0000" stop-color="#c52c4b"/></linearGradient>
<linearGradient id="d264"><stop offset="0.0000" stop-color="#4ea7b0"/><stop offset="0.0110" stop-color="#6bc4a5"/><stop offset="0.0307" stop-color="#a4daa4"/><stop offset="0.0439" stop-color="#c1e6a0"/><stop offset="0.0636" stop-color="#e6f598"/><stop offset="0.1053" stop-color="#fffebe"/><stop offset="0.1667" stop-color="#fede89"/><stop offset="0.2500" stop-color="#fdb163"/><stop offset="0.3443" stop-color="#f8864f"/><stop offset="0.4320" stop-color="#f36b43"/><stop offset="0.6118" stop-color="#e1504b"/><stop offset="0.8816" stop-color="#cd364d"/><stop offset="1.0000" stop-color="#c52c4b"/></linearGradient>
<linearGradient id="d265"><stop offset="0.0000" stop-color="#56b0ad"/><stop offset="0.0088" stop-color="#6ec5a5"/><stop offset="0.0307" stop-color="#aedea3"/><stop offset="0.0592" stop-color="#e6f598"/><stop offset="0.0987" stop-color="#ffffbe"/><stop offset="0.1623" stop-color="#fede89"/><stop offset="0.2303" stop-color="#fdb768"/><stop offset="0.3289" stop-color="#f88950"/><stop offset="0.4211" stop-color="#f36b43"/><stop offset="0.5987" stop-color="#e1504b"/><stop offset="0.8640" stop-color="#cd364d"/><stop offset="1.0000" stop-color="#c32a4b"/></linearGradient>
<linearGradient id="d266"><stop offset="0.0000" stop-color="#5eb9a9"/><stop offset="0.0088" stop-color="#79c9a5"/><stop offset="0.0263" stop-color="#acdda4"/><stop offset="0.0548" stop-color="#e6f598"/><stop offset="0.0943" stop-color="#ffffbe"/><stop offset="0.1557" stop-color="#fede89"/><stop offset="0.2303" stop-color="#fdb365"/><stop offset="0.3268" stop-color="#f8864f"/><stop offset="0.4123" stop-color="#f36b43"/><stop offset="0.5833" stop-color="#e1504b"/><stop offset="0.8487" stop-color="#cd364d"/><stop offset="1.0000" stop-color="#c32a4b"/></linearGradient>
<linearGradient id="d267"><stop offset="0.0000" stop-color="#66c2a5"/><stop offset="0.0175" stop-color="#9fd8a4"/><stop offset="0.0417" stop-color="#d6ee9b"/><stop offset="0.0526" stop-color="#e7f59a"/><stop offset="0.0899" stop-color="#ffffbe"/><stop offset="0.1513" stop-color="#fedc88"/><stop offset="0.2281" stop-color="#fdb163"/><stop offset="0.3114" stop-color="#f88950"/><stop offset="0.4013" stop-color="#f36b43"/><stop offset="0.5702" stop-color="#e1504b"/><stop offset="0.8289" stop-color="#cd364d"/><stop offset="1.0000" stop-color="#c1274a"/></linearGradient>
<linearGradient id="d268"><stop offset="0.0000" stop-color="#71c6a5"/><stop offset="0.0132" stop-color="#9cd7a4"/><stop offset="0.0285" stop-color="#c1e6a0"/><stop offset="0.0482" stop-color="#e7f59a"/><stop offset="0.0855" stop-color="#fffebe"/><stop offset="0.1425" stop-color="#fede89"/><stop offset="0.2127" stop-color="#fdb567"/><stop offset="0.3026" stop-color="#f88950"/><stop offset="0.3904" stop-color="#f36b43"/><stop offset="0.5570" stop-color="#e1504b"/><stop offset="0.8114" stop-color="#cd364d"/><stop offset="1.0000" stop-color="#be254a"/></linearGradient>
<linearGradient id="d269"><stop offset="0.0000" stop-color="#7ecca5"/><stop offset="0.0197" stop-color="#b8e2a1"/><stop offset="0.0439" stop-color="#e7f59a"/><stop offset="0.0789" stop-color="#ffffbe"/><stop offset="0.1447" stop-color="#fed884"/><stop offset="0.2215" stop-color="#fdad60"/><stop offset="0.3048" stop-color="#f7844e"/><stop offset="0.3794" stop-color="#f36b43"/><stop offset="0.5439" stop-color="#e1504b"/><stop offset="0.7939" stop-color="#cd364d"/><stop offset="1.0000" stop-color="#be254a"/></linearGradient>
<linearGradient id="d270"><stop offset="0.0000" stop-color="#89d0a4"/><stop offset="0.0154" stop-color="#b5e1a2"/><stop offset="0.0373" stop-color="#e4f498"/><stop offset="0.0746" stop-color="#ffffbe"/><stop offset="0.1360" stop-color="#feda86"/><stop offset="0.2171" stop-color="#fcaa5f"/><stop offset="0.3026" stop-color="#f7814c"/><stop offset="0.3750" stop-color="#f26944"/><stop offset="0.5461" stop-color="#df4e4b"/><stop offset="0.8026" stop-color="#cb334d"/><stop offset="1.0000" stop-color="#bc2249"/></linearGradient>
<linearGradient id="d271"><stop offset="0.0000" stop-color="#94d4a4"/><stop offset="0.0132" stop-color="#bae3a1"/><stop offset="0.0351" stop-color="#e7f59a"/><stop offset="0.0702" stop-color="#ffffbe"/><stop offset="0.1294" stop-color="#fedc88"/><stop offset="0.1864" stop-color="#fdb768"/><stop offset="0.2807" stop-color="#f8864f"/><stop offset="0.3618" stop-color="#f26944"/><stop offset="0.5461" stop-color="#de4c4b"/><stop offset="0.8048" stop-color="#c9314c"/><stop offset="1.0000" stop-color="#bc2249"/></linearGradient>
<linearGradient id="d272"><stop offset="0.0000" stop-color="#9fd8a4"/><stop offset="0.0154" stop-color="#c8e99e"/><stop offset="0.0307" stop-color="#e7f59a"/><stop offset="0.0658" stop-color="#fffebe"/><stop offset="0.1184" stop-color="#fede89"/><stop offset="0.1864" stop-color="#fdb365"/><stop offset="0.2719" stop-color="#f8864f"/><stop offset="0.3465" stop-color="#f36b43"/><stop offset="0.5044" stop-color="#e1504b"/><stop offset="0.7390" stop-color="#cd364d"/><stop offset="0.9430" stop-color="#be254a"/><stop offset="1.0000" stop-color="#ba2049"/></linearGradient>
<linearGradient id="d273"><stop offset="0.0000" stop-color="#aadca4"/><stop offset="0.0241" stop-color="#e4f498"/><stop offset="0.0614" stop-color="#fffebe"/><stop offset="0.1053" stop-color="#fee28f"/><stop offset="0.1711" stop-color="#fdb768"/><stop offset="0.2632" stop-color="#f8864f"/><stop offset="0.3399" stop-color="#f26944"/><stop offset="0.5175" stop-color="#de4c4b"/><stop offset="0.7654" stop-color="#c9314c"/><stop offset="1.0000" stop-color="#ba2049"/></linearGradient>
<linearGradient id="d274"><stop offset="0.0000" stop-color="#b5e1a2"/><stop offset="0.0219" stop-color="#e6f598"/><stop offset="0.0548" stop-color="#ffffbe"/><stop offset="0.1096" stop-color="#fedc88"/><stop offset="0.1711" stop-color="#fdb365"/><stop offset="0.2588" stop-color="#f7844e"/><stop offset="0.3268" stop-color="#f36b43"/><stop offset="0.4759" stop-color="#e1504b"/><stop offset="0.7039" stop-color="#cd364d"/><stop offset="0.8991" stop-color="#be254a"/><stop offset="1.0000" stop-color="#b81e48"/></linearGradient>
<linearGradient id="d275"><stop offset="0.0000" stop-color="#bfe5a0"/><stop offset="0.0175" stop-color="#e6f598"/><stop offset="0.0504" stop-color="#ffffbe"/><stop offset="0.0987" stop-color="#fee08b"/><stop offset="0.1535" stop-color="#fdb96a"/><stop offset="0.2215" stop-color="#f99153"/><stop offset="0.3070" stop-color="#f46d43"/><stop offset="0.4496" stop-color="#e2514a"/><stop offset="0.6842" stop-color="#cd364d"/><stop offset="0.9057" stop-color="#bc2249"/><stop offset="1.0000" stop-color="#b61b48"/></linearGradient>
<linearGradient id="d276"><stop offset="0.0000" stop-color="#c8e99e"/><stop offset="0.0132" stop-color="#e6f598"/><stop offset="0.0439" stop-color="#fefebd"/><stop offset="0.0526" stop-color="#fffab6"/><stop offset="0.0943" stop-color="#fede89"/><stop offset="0.1557" stop-color="#fdb365"/><stop offset="0.2346" stop-color="#f8864f"/><stop offset="0.3070" stop-color="#f26944"/><stop offset="0.4737" stop-color="#de4c4b"/><stop offset="0.7105" stop-color="#c9314c"/><stop offset="0.9583" stop-color="#b81e48"/><stop offset="1.0000" stop-color="#b61b48"/></linearGradient>
<linearGradient id="d277"><stop offset="0.0000" stop-color="#d3ed9c"/><stop offset="0.0088" stop-color="#e6f598"/><stop offset="0.0395" stop-color="#ffffbe"/><stop offset="0.0899" stop-color="#fedc88"/><stop offset="0.1513" stop-color="#fdb163"/><stop offset="0.2303" stop-color="#f7844e"/><stop offset="0.2961" stop-color="#f26944"/><stop offset="0.4583" stop-color="#de4c4b"/><stop offset="0.6908" stop-color="#c9314c"/><stop offset="0.9013" stop-color="#ba2049"/><stop offset="1.0000" stop-color="#b41947"/></linearGradient>
<linearGradient id="d278"><stop offset="0.0000" stop-color="#ddf19a"/><stop offset="0.0066" stop-color="#e8f69b"/><stop offset="0.0351" stop-color="#ffffbe"/><stop offset="0.0746" stop-color="#fee491"/><stop offset="0.1184" stop-color="#fdc171"/><stop offset="0.1732" stop-color="#fb9d59"/><stop offset="0.2434" stop-color="#f67a49"/><stop offset="0.2895" stop-color="#f26944"/><stop offset="0.4189" stop-color="#e1504b"/><stop offset="0.6272" stop-color="#cd364d"/><stop offset="0.8377" stop-color="#bc2249"/><stop offset="1.0000" stop-color="#b41947"/></linearGradient>
<linearGradient id="d279"><stop offset="0.0000" stop-color="#e6f598"/><stop offset="0.0285" stop-color="#fefebd"/><stop offset="0.0373" stop-color="#fffab6"/><stop offset="0.0702" stop-color="#fee28f"/><stop offset="0.1228" stop-color="#fdb96a"/><stop offset="0.1908" stop-color="#f98e52"/><stop offset="0.2697" stop-color="#f36b43"/><stop offset="0.4145" stop-color="#df4e4b"/><stop offset="0.6316" stop-color="#cb334d"/><stop offset="0.8158" stop-color="#bc2249"/><stop offset="1.0000" stop-color="#b11747"/></linearGradient>
<linearGradient id="d280"><stop offset="0.0000" stop-color="#ebf7a0"/><stop offset="0.0241" stop-color="#ffffbe"/><stop offset="0.0680" stop-color="#fee08b"/><stop offset="0.1184" stop-color="#fdb768"/><stop offset="0.1996" stop-color="#f7844e"/><stop offset="0.2632" stop-color="#f26944"/><stop offset="0.4123" stop-color="#de4c4b"/><stop offset="0.6338" stop-color="#c9314c"/><stop offset="0.8289" stop-color="#ba2049"/><stop offset="1.0000" stop-color="#af1446"/></linearGradient>
<linearGradient id="d281"><stop offset="0.0000" stop-color="#eff9a6"/><stop offset="0.0197" stop-color="#ffffbe"/><stop offset="0.0614" stop-color="#fee08b"/><stop offset="0.1140" stop-color="#fdb567"/><stop offset="0.1996" stop-color="#f67f4b"/><stop offset="0.2544" stop-color="#f26944"/><stop offset="0.3860" stop-color="#df4e4b"/><stop offset="0.5921" stop-color="#cb334d"/><stop offset="0.7697" stop-color="#bc2249"/><stop offset="1.0000" stop-color="#af1446"/></linearGradient>
<linearGradient id="d282"><stop offset="0.0000" stop-color="#f3faac"/><stop offset="0.0154" stop-color="#fffebe"/><stop offset="0.0504" stop-color="#fee491"/><stop offset="0.0987" stop-color="#fdbb6c"/><stop offset="0.1557" stop-color="#f99355"/><stop offset="0.2259" stop-color="#f47044"/><stop offset="0.3311" stop-color="#e45549"/><stop offset="0.5439" stop-color="#cd364d"/><stop offset="0.7807" stop-color="#ba2049"/><stop offset="1.0000" stop-color="#ad1246"/></linearGradient>
<linearGradient id="d283"><stop offset="0.0000" stop-color="#f6fbb0"/><stop offset="0.0110" stop-color="#fffebe"/><stop offset="0.0482" stop-color="#fee18d"/><stop offset="0.1009" stop-color="#fdb567"/><stop offset="0.1732" stop-color="#f7844e"/><stop offset="0.2325" stop-color="#f26944"/><stop offset="0.3728" stop-color="#de4c4b"/><stop offset="0.5768" stop-color="#c9314c"/><stop offset="0.7610" stop-color="#ba2049"/><stop offset="1.0000" stop-color="#ad1246"/></linearGradient>
<linearGradient id="d284"><stop offset="0.0000" stop-color="#fafdb7"/><stop offset="0.0066" stop-color="#ffffbe"/><stop offset="0.0417" stop-color="#fee28f"/><stop offset="0.0943" stop-color="#fdb567"/><stop offset="0.1623" stop-color="#f8864f"/><stop offset="0.2193" stop-color="#f36b43"/><stop offset="0.3377" stop-color="#e1504b"/><stop offset="0.5219" stop-color="#cd364d"/><stop offset="0.6798" stop-color="#be254a"/><stop offset="0.9276" stop-color="#af1446"/><stop offset="1.0000" stop-color="#ab0f45"/></linearGradient>
<linearGradient id="d285"><stop offset="0.0000" stop-color="#fefebd"/><stop offset="0.0044" stop-color="#fffdbc"/><stop offset="0.0329" stop-color="#fee593"/><stop offset="0.0724" stop-color="#fdc171"/><stop offset="0.1184" stop-color="#fb9d59"/><stop offset="0.1930" stop-color="#f57245"/><stop offset="0.2785" stop-color="#e75948"/><stop offset="0.4364" stop-color="#d63f4f"/><stop offset="0.6075" stop-color="#c32a4b"/><stop offset="0.8246" stop-color="#b41947"/><stop offset="1.0000" stop-color="#ab0f45"/></linearGradient>
<linearGradient id="d286"><stop offset="0.0000" stop-color="#fffdbc"/><stop offset="0.0329" stop-color="#fee18d"/><stop offset="0.0899" stop-color="#fdaf62"/><stop offset="0.1491" stop-color="#f7844e"/><stop offset="0.2039" stop-color="#f26944"/><stop offset="0.3355" stop-color="#de4c4b"/><stop offset="0.5241" stop-color="#c9314c"/><stop offset="0.7259" stop-color="#b81e48"/><stop offset="1.0000" stop-color="#a90d45"/></linearGradient>
<linearGradient id="d287"><stop offset="0.0000" stop-color="#fff8b4"/><stop offset="0.0329" stop-color="#fedc88"/><stop offset="0.0833" stop-color="#fdaf62"/><stop offset="0.1338" stop-color="#f88950"/><stop offset="0.1908" stop-color="#f36b43"/><stop offset="0.3026" stop-color="#e1504b"/><stop offset="0.4737" stop-color="#cd364d"/><stop offset="0.6447" stop-color="#bc2249"/><stop offset="0.9013" stop-color="#ad1246"/><stop offset="1.0000" stop-color="#a90d45"/></linearGradient>
<linearGradient id="d288"><stop offset="0.0000" stop-color="#fff5ae"/><stop offset="0.0263" stop-color="#fede89"/><stop offset="0.0636" stop-color="#fdbb6c"/><stop offset="0.0943" stop-color="#fba05b"/><stop offset="0.1513" stop-color="#f67a49"/><stop offset="0.1886" stop-color="#f26944"/><stop offset="0.2982" stop-color="#df4e4b"/><stop offset="0.4759" stop-color="#cb334d"/><stop offset="0.6031" stop-color="#be254a"/><stop offset="0.7939" stop-color="#b11747"/><stop offset="1.0000" stop-color="#a70b44"/></linearGradient>
<linearGradient id="d289"><stop offset="0.0000" stop-color="#fff0a6"/><stop offset="0.0241" stop-color="#feda86"/><stop offset="0.0811" stop-color="#fca55d"/><stop offset="0.1338" stop-color="#f67f4b"/><stop offset="0.1776" stop-color="#f26944"/><stop offset="0.2873" stop-color="#df4e4b"/><stop offset="0.4583" stop-color="#cb334d"/><stop offset="0.6075" stop-color="#bc2249"/><stop offset="0.8465" stop-color="#ad1246"/><stop offset="1.0000" stop-color="#a70b44"/></linearGradient>
<linearGradient id="d290"><stop offset="0.0000" stop-color="#feec9f"/><stop offset="0.0219" stop-color="#fed683"/><stop offset="0.0746" stop-color="#fca55d"/><stop offset="0.1250" stop-color="#f67f4b"/><stop offset="0.1667" stop-color="#f26944"/><stop offset="0.2851" stop-color="#de4c4b"/><stop offset="0.4561" stop-color="#c9314c"/><stop offset="0.6404" stop-color="#b81e48"/><stop offset="0.9123" stop-color="#a90d45"/><stop offset="1.0000" stop-color="#a40844"/></linearGradient>
<linearGradient id="d291"><stop offset="0.0000" stop-color="#fee797"/><stop offset="0.0241" stop-color="#fece7c"/><stop offset="0.0680" stop-color="#fca55d"/><stop offset="0.1096" stop-color="#f7844e"/><stop offset="0.1557" stop-color="#f36b43"/><stop offset="0.2456" stop-color="#e2514a"/><stop offset="0.4079" stop-color="#cd364d"/><stop offset="0.5417" stop-color="#be254a"/><stop offset="0.7522" stop-color="#af1446"/><stop offset="1.0000" stop-color="#a40844"/></linearGradient>
<linearGradient id="d292"><stop offset="0.0000" stop-color="#fee28f"/><stop offset="0.0439" stop-color="#fdb567"/><stop offset="0.1009" stop-color="#f7844e"/><stop offset="0.1469" stop-color="#f26944"/><stop offset="0.2588" stop-color="#de4c4b"/><stop offset="0.4232" stop-color="#c9314c"/><stop offset="0.5724" stop-color="#ba2049"/><stop offset="0.7719" stop-color="#ad1246"/><stop offset="1.0000" stop-color="#a20643"/></linearGradient>
<linearGradient id="d293"><stop offset="0.0000" stop-color="#fede89"/><stop offset="0.0417" stop-color="#fdb163"/><stop offset="0.0855" stop-color="#f88950"/><stop offset="0.1382" stop-color="#f26944"/><stop offset="0.2456" stop-color="#de4c4b"/><stop offset="0.4057" stop-color="#c9314c"/><stop offset="0.5504" stop-color="#ba2049"/><stop offset="0.7456" stop-color="#ad1246"/><stop offset="1.0000" stop-color="#a20643"/></linearGradient>
<linearGradient id="d294"><stop offset="0.0000" stop-color="#fed683"/><stop offset="0.0417" stop-color="#fcaa5f"/><stop offset="0.0877" stop-color="#f7814c"/><stop offset="0.1294" stop-color="#f26944"/><stop offset="0.2325" stop-color="#de4c4b"/><stop offset="0.3882" stop-color="#c9314c"/><stop offset="0.5285" stop-color="#ba2049"/><stop offset="0.7500" stop-color="#ab0f45"/><stop offset="1.0000" stop-color="#a00343"/></linearGradient>
<linearGradient id="d295"><stop offset="0.0000" stop-color="#fed07e"/><stop offset="0.0373" stop-color="#fca85e"/><stop offset="0.0833" stop-color="#f67f4b"/><stop offset="0.1184" stop-color="#f26944"/><stop offset="0.2281" stop-color="#dd4a4c"/><stop offset="0.3860" stop-color="#c72e4c"/><stop offset="0.5526" stop-color="#b61b48"/><stop offset="0.8180" stop-color="#a70b44"/><stop offset="1.0000" stop-color="#a00343"/></linearGradient>
<linearGradient id="d296"><stop offset="0.0000" stop-color="#fec877"/><stop offset="0.0351" stop-color="#fba35c"/><stop offset="0.0811" stop-color="#f67a49"/><stop offset="0.1118" stop-color="#f26944"/><stop offset="0.1996" stop-color="#df4e4b"/><stop offset="0.3399" stop-color="#cb334d"/><stop offset="0.4627" stop-color="#bc2249"/><stop offset="0.6579" stop-color="#ad1246"/><stop offset="0.9627" stop-color="#a00343"/><stop offset="1.0000" stop-color="#9e0142"/></linearGradient>
<linearGradient id="d297"><stop offset="0.0000" stop-color="#fdc171"/><stop offset="0.0373" stop-color="#fa9857"/><stop offset="0.0877" stop-color="#f47044"/><stop offset="0.1645" stop-color="#e3534a"/><stop offset="0.3092" stop-color="#cd364d"/><stop offset="0.4189" stop-color="#be254a"/><stop offset="0.6294" stop-color="#ad1246"/><stop offset="0.9254" stop-color="#a00343"/><stop offset="1.0000" stop-color="#9e0142"/></linearGradient>
<linearGradient id="d298"><stop offset="0.0000" stop-color="#fdbb6c"/><stop offset="0.0351" stop-color="#f99355"/><stop offset="0.0833" stop-color="#f46d43"/><stop offset="0.1601" stop-color="#e2514a"/><stop offset="0.2917" stop-color="#cd364d"/><stop offset="0.4167" stop-color="#bc2249"/><stop offset="0.6075" stop-color="#ad1246"/><stop offset="0.8838" stop-color="#a00343"/><stop offset="1.0000" stop-color="#9e0142"/></linearGradient>
<linearGradient id="d299"><stop offset="0.0000" stop-color="#fdb365"/><stop offset="0.0439" stop-color="#f7844e"/><stop offset="0.0811" stop-color="#f26944"/><stop offset="0.1623" stop-color="#df4e4b"/><stop offset="0.2873" stop-color="#cb334d"/><stop offset="0.4167" stop-color="#ba2049"/><stop offset="0.6162" stop-color="#ab0f45"/><stop offset="0.9123" stop-color="#9e0142"/><stop offset="1.0000" stop-color="#9e0142"/></linearGradient>
<linearGradient id="d300"><stop offset="0.0000" stop-color="#fdad60"/><stop offset="0.0329" stop-color="#f8864f"/><stop offset="0.0702" stop-color="#f36b43"/><stop offset="0.1360" stop-color="#e2514a"/><stop offset="0.2588" stop-color="#cd364d"/><stop offset="0.3596" stop-color="#be254a"/><stop offset="0.5197" stop-color="#af1446"/><stop offset="0.7632" stop-color="#a20643"/><stop offset="0.9276" stop-color="#9e0142"/><stop offset="1.0000" stop-color="#9e0142"/></linearGradient>
<linearGradient id="d301"><stop offset="0.0000" stop-color="#fba35c"/><stop offset="0.0417" stop-color="#f57748"/><stop offset="0.0658" stop-color="#f06744"/><stop offset="0.1557" stop-color="#dc484c"/><stop offset="0.2917" stop-color="#c52c4b"/><stop offset="0.4408" stop-color="#b41947"/><stop offset="0.6732" stop-color="#a40844"/><stop offset="0.8728" stop-color="#9e0142"/><stop offset="1.0000" stop-color="#9e0142"/></linearGradient>
<linearGradient id="d302"><stop offset="0.0000" stop-color="#fa9b58"/><stop offset="0.0307" stop-color="#f67a49"/><stop offset="0.0548" stop-color="#f26944"/><stop offset="0.1294" stop-color="#de4c4b"/><stop offset="0.2500" stop-color="#c9314c"/><stop offset="0.3553" stop-color="#ba2049"/><stop offset="0.5285" stop-color="#ab0f45"/><stop offset="0.8004" stop-color="#9e0142"/><stop offset="1.0000" stop-color="#9e0142"/></linearGradient>
<linearGradient id="d303"><stop offset="0.0000" stop-color="#f99153"/><stop offset="0.0373" stop-color="#f46d43"/><stop offset="0.1118" stop-color="#df4e4b"/><stop offset="0.2193" stop-color="#cb334d"/><stop offset="0.3158" stop-color="#bc2249"/><stop offset="0.4715" stop-color="#ad1246"/><stop offset="0.7061" stop-color="#a00343"/><stop offset="1.0000" stop-color="#9e0142"/></linearGradient>
<linearGradient id="d304"><stop offset="0.0000" stop-color="#f88950"/><stop offset="0.0307" stop-color="#f36b43"/><stop offset="0.1053" stop-color="#de4c4b"/><stop offset="0.2149" stop-color="#c9314c"/><stop offset="0.3114" stop-color="#ba2049"/><stop offset="0.4715" stop-color="#ab0f45"/><stop offset="0.7237" stop-color="#9e0142"/><stop offset="1.0000" stop-color="#9e0142"/></linearGradient>
<linearGradient id="d305"><stop offset="0.0000" stop-color="#f7814c"/><stop offset="0.0219" stop-color="#f36b43"/><stop offset="0.0877" stop-color="#df4e4b"/><stop offset="0.1864" stop-color="#cb334d"/><stop offset="0.2741" stop-color="#bc2249"/><stop offset="0.4167" stop-color="#ad1246"/><stop offset="0.6360" stop-color="#a00343"/><stop offset="1.0000" stop-color="#9e0142"/></linearGradient>
<linearGradient id="d306"><stop offset="0.0000" stop-color="#f57748"/><stop offset="0.0197" stop-color="#f06744"/><stop offset="0.0987" stop-color="#da464d"/><stop offset="0.2127" stop-color="#c32a4b"/><stop offset="0.3421" stop-color="#b11747"/><stop offset="0.5526" stop-color="#a20643"/><stop offset="0.7039" stop-color="#9e0142"/><stop offset="1.0000" stop-color="#9e0142"/></linearGradient>
<linearGradient id="d307"><stop offset="0.0000" stop-color="#f47044"/><stop offset="0.0504" stop-color="#e3534a"/><stop offset="0.1469" stop-color="#cd364d"/><stop offset="0.2346" stop-color="#bc2249"/><stop offset="0.3684" stop-color="#ad1246"/><stop offset="0.5680" stop-color="#a00343"/><stop offset="1.0000" stop-color="#9e0142"/></linearGradient>
<linearGradient id="d308"><stop offset="0.0000" stop-color="#f26944"/><stop offset="0.0636" stop-color="#dd4a4c"/><stop offset="0.1601" stop-color="#c72e4c"/><stop offset="0.2588" stop-color="#b61b48"/><stop offset="0.4254" stop-color="#a70b44"/><stop offset="0.5943" stop-color="#9e0142"/><stop offset="1.0000" stop-color="#9e0142"/></linearGradient>
<linearGradient id="d309"><stop offset="0.0000" stop-color="#ee6445"/><stop offset="0.0570" stop-color="#dc484c"/><stop offset="0.1513" stop-color="#c52c4b"/><stop offset="0.2566" stop-color="#b41947"/><stop offset="0.4232" stop-color="#a40844"/><stop offset="0.5702" stop-color="#9e0142"/><stop offset="1.0000" stop-color="#9e0142"/></linearGradient>
<linearGradient id="d310"><stop offset="0.0000" stop-color="#ea5e47"/><stop offset="0.0592" stop-color="#d8434e"/><stop offset="0.1557" stop-color="#c1274a"/><stop offset="0.2544" stop-color="#b11747"/><stop offset="0.3969" stop-color="#a40844"/><stop offset="0.5285" stop-color="#9e0142"/><stop offset="1.0000" stop-color="#9e0142"/></linearGradient>
<linearGradient id="d311"><stop offset="0.0000" stop-color="#e75948"/><stop offset="0.0768" stop-color="#d0384e"/><stop offset="0.1579" stop-color="#bc2249"/><stop offset="0.2851" stop-color="#ab0f45"/><stop offset="0.4737" stop-color="#9e0142"/><stop offset="1.0000" stop-color="#9e0142"/></linearGradient>
<linearGradient id="d312"><stop offset="0.0000" stop-color="#e3534a"/><stop offset="0.0702" stop-color="#cd364d"/><stop offset="0.1513" stop-color="#ba2049"/><stop offset="0.2632" stop-color="#ab0f45"/><stop offset="0.4342" stop-color="#9e0142"/><stop offset="1.0000" stop-color="#9e0142"/></linearGradient>
<linearGradient id="d313"><stop offset="0.0000" stop-color="#df4e4b"/><stop offset="0.0636" stop-color="#cb334d"/><stop offset="0.1425" stop-color="#b81e48"/><stop offset="0.2566" stop-color="#a90d45"/><stop offset="0.4079" stop-color="#9e0142"/><stop offset="1.0000" stop-color="#9e0142"/></linearGradient><clipPath id="cb"><rect x="380.7" y="1.4" width="226.9" height="137.5"/></clipPath><clipPath id="cd"><rect x="380.7" y="175.5" width="226.9" height="137.7"/></clipPath><linearGradient id="cbb" x1="0" y1="0" x2="0" y2="1"><stop offset="0.000" stop-color="#3387bc"/><stop offset="0.025" stop-color="#3d95b8"/><stop offset="0.050" stop-color="#49a2b2"/><stop offset="0.075" stop-color="#54aead"/><stop offset="0.100" stop-color="#60bba8"/><stop offset="0.125" stop-color="#6ec5a5"/><stop offset="0.150" stop-color="#7ecca5"/><stop offset="0.175" stop-color="#8cd1a4"/><stop offset="0.200" stop-color="#9cd7a4"/><stop offset="0.225" stop-color="#acdda4"/><stop offset="0.250" stop-color="#bae3a1"/><stop offset="0.275" stop-color="#c6e89f"/><stop offset="0.300" stop-color="#d3ed9c"/><stop offset="0.325" stop-color="#e1f399"/><stop offset="0.350" stop-color="#eaf79e"/><stop offset="0.375" stop-color="#eff9a6"/><stop offset="0.400" stop-color="#f5fbaf"/><stop offset="0.425" stop-color="#fbfdb8"/><stop offset="0.450" stop-color="#fffdbc"/><stop offset="0.475" stop-color="#fff6b0"/><stop offset="0.500" stop-color="#fff0a6"/><stop offset="0.525" stop-color="#fee999"/><stop offset="0.550" stop-color="#fee18d"/><stop offset="0.575" stop-color="#fed683"/><stop offset="0.600" stop-color="#fecc7b"/><stop offset="0.625" stop-color="#fdc171"/><stop offset="0.650" stop-color="#fdb567"/><stop offset="0.675" stop-color="#fca85e"/><stop offset="0.700" stop-color="#fa9b58"/><stop offset="0.725" stop-color="#f88c51"/><stop offset="0.750" stop-color="#f67c4a"/><stop offset="0.775" stop-color="#f46d43"/><stop offset="0.800" stop-color="#ee6445"/><stop offset="0.825" stop-color="#e75948"/><stop offset="0.850" stop-color="#df4e4b"/><stop offset="0.875" stop-color="#d8434e"/><stop offset="0.900" stop-color="#d0384e"/><stop offset="0.925" stop-color="#c32a4b"/><stop offset="0.950" stop-color="#b61b48"/><stop offset="0.975" stop-color="#a90d45"/><stop offset="1.000" stop-color="#9e0142"/></linearGradient><linearGradient id="cbd" x1="0" y1="0" x2="0" y2="1"><stop offset="0.000" stop-color="#3387bc"/><stop offset="0.025" stop-color="#3d95b8"/><stop offset="0.050" stop-color="#49a2b2"/><stop offset="0.075" stop-color="#54aead"/><stop offset="0.100" stop-color="#60bba8"/><stop offset="0.125" stop-color="#6ec5a5"/><stop offset="0.150" stop-color="#7ecca5"/><stop offset="0.175" stop-color="#8cd1a4"/><stop offset="0.200" stop-color="#9cd7a4"/><stop offset="0.225" stop-color="#acdda4"/><stop offset="0.250" stop-color="#bae3a1"/><stop offset="0.275" stop-color="#c6e89f"/><stop offset="0.300" stop-color="#d3ed9c"/><stop offset="0.325" stop-color="#e1f399"/><stop offset="0.350" stop-color="#eaf79e"/><stop offset="0.375" stop-color="#eff9a6"/><stop offset="0.400" stop-color="#f5fbaf"/><stop offset="0.425" stop-color="#fbfdb8"/><stop offset="0.450" stop-color="#fffdbc"/><stop offset="0.475" stop-color="#fff6b0"/><stop offset="0.500" stop-color="#fff0a6"/><stop offset="0.525" stop-color="#fee999"/><stop offset="0.550" stop-color="#fee18d"/><stop offset="0.575" stop-color="#fed683"/><stop offset="0.600" stop-color="#fecc7b"/><stop offset="0.625" stop-color="#fdc171"/><stop offset="0.650" stop-color="#fdb567"/><stop offset="0.675" stop-color="#fca85e"/><stop offset="0.700" stop-color="#fa9b58"/><stop offset="0.725" stop-color="#f88c51"/><stop offset="0.750" stop-color="#f67c4a"/><stop offset="0.775" stop-color="#f46d43"/><stop offset="0.800" stop-color="#ee6445"/><stop offset="0.825" stop-color="#e75948"/><stop offset="0.850" stop-color="#df4e4b"/><stop offset="0.875" stop-color="#d8434e"/><stop offset="0.900" stop-color="#d0384e"/><stop offset="0.925" stop-color="#c32a4b"/><stop offset="0.950" stop-color="#b61b48"/><stop offset="0.975" stop-color="#a90d45"/><stop offset="1.000" stop-color="#9e0142"/></linearGradient></defs>
<g shape-rendering="crispEdges"><rect x="380.7" y="1" width="226.9" height="1" fill="url(#b1)"/>
<rect x="380.7" y="2" width="226.9" height="1" fill="url(#b2)"/>
<rect x="380.7" y="3" width="226.9" height="1" fill="url(#b3)"/>
<rect x="380.7" y="4" width="226.9" height="1" fill="url(#b4)"/>
<rect x="380.7" y="5" width="226.9" height="1" fill="url(#b5)"/>
<rect x="380.7" y="6" width="226.9" height="1" fill="url(#b6)"/>
<rect x="380.7" y="7" width="226.9" height="1" fill="url(#b7)"/>
<rect x="380.7" y="8" width="226.9" height="1" fill="url(#b8)"/>
<rect x="380.7" y="9" width="226.9" height="1" fill="url(#b9)"/>
<rect x="380.7" y="10" width="226.9" height="1" fill="url(#b10)"/>
<rect x="380.7" y="11" width="226.9" height="1" fill="url(#b11)"/>
<rect x="380.7" y="12" width="226.9" height="1" fill="url(#b12)"/>
<rect x="380.7" y="13" width="226.9" height="1" fill="url(#b13)"/>
<rect x="380.7" y="14" width="226.9" height="1" fill="url(#b14)"/>
<rect x="380.7" y="15" width="226.9" height="1" fill="url(#b15)"/>
<rect x="380.7" y="16" width="226.9" height="1" fill="url(#b16)"/>
<rect x="380.7" y="17" width="226.9" height="1" fill="url(#b17)"/>
<rect x="380.7" y="18" width="226.9" height="1" fill="url(#b18)"/>
<rect x="380.7" y="19" width="226.9" height="1" fill="url(#b19)"/>
<rect x="380.7" y="20" width="226.9" height="1" fill="url(#b20)"/>
<rect x="380.7" y="21" width="226.9" height="1" fill="url(#b21)"/>
<rect x="380.7" y="22" width="226.9" height="1" fill="url(#b22)"/>
<rect x="380.7" y="23" width="226.9" height="1" fill="url(#b23)"/>
<rect x="380.7" y="24" width="226.9" height="1" fill="url(#b24)"/>
<rect x="380.7" y="25" width="226.9" height="1" fill="url(#b25)"/>
<rect x="380.7" y="26" width="226.9" height="1" fill="url(#b26)"/>
<rect x="380.7" y="27" width="226.9" height="1" fill="url(#b27)"/>
<rect x="380.7" y="28" width="226.9" height="1" fill="url(#b28)"/>
<rect x="380.7" y="29" width="226.9" height="1" fill="url(#b29)"/>
<rect x="380.7" y="30" width="226.9" height="1" fill="url(#b30)"/>
<rect x="380.7" y="31" width="226.9" height="1" fill="url(#b31)"/>
<rect x="380.7" y="32" width="226.9" height="1" fill="url(#b32)"/>
<rect x="380.7" y="33" width="226.9" height="1" fill="url(#b33)"/>
<rect x="380.7" y="34" width="226.9" height="1" fill="url(#b34)"/>
<rect x="380.7" y="35" width="226.9" height="1" fill="url(#b35)"/>
<rect x="380.7" y="36" width="226.9" height="1" fill="url(#b36)"/>
<rect x="380.7" y="37" width="226.9" height="1" fill="url(#b37)"/>
<rect x="380.7" y="38" width="226.9" height="1" fill="url(#b38)"/>
<rect x="380.7" y="39" width="226.9" height="1" fill="url(#b39)"/>
<rect x="380.7" y="40" width="226.9" height="1" fill="url(#b40)"/>
<rect x="380.7" y="41" width="226.9" height="1" fill="url(#b41)"/>
<rect x="380.7" y="42" width="226.9" height="1" fill="url(#b42)"/>
<rect x="380.7" y="43" width="226.9" height="1" fill="url(#b43)"/>
<rect x="380.7" y="44" width="226.9" height="1" fill="url(#b44)"/>
<rect x="380.7" y="45" width="226.9" height="1" fill="url(#b45)"/>
<rect x="380.7" y="46" width="226.9" height="1" fill="url(#b46)"/>
<rect x="380.7" y="47" width="226.9" height="1" fill="url(#b47)"/>
<rect x="380.7" y="48" width="226.9" height="1" fill="url(#b48)"/>
<rect x="380.7" y="49" width="226.9" height="1" fill="url(#b49)"/>
<rect x="380.7" y="50" width="226.9" height="1" fill="url(#b50)"/>
<rect x="380.7" y="51" width="226.9" height="1" fill="url(#b51)"/>
<rect x="380.7" y="52" width="226.9" height="1" fill="url(#b52)"/>
<rect x="380.7" y="53" width="226.9" height="1" fill="url(#b53)"/>
<rect x="380.7" y="54" width="226.9" height="1" fill="url(#b54)"/>
<rect x="380.7" y="55" width="226.9" height="1" fill="url(#b55)"/>
<rect x="380.7" y="56" width="226.9" height="1" fill="url(#b56)"/>
<rect x="380.7" y="57" width="226.9" height="1" fill="url(#b57)"/>
<rect x="380.7" y="58" width="226.9" height="1" fill="url(#b58)"/>
<rect x="380.7" y="59" width="226.9" height="1" fill="url(#b59)"/>
<rect x="380.7" y="60" width="226.9" height="1" fill="url(#b60)"/>
<rect x="380.7" y="61" width="226.9" height="1" fill="url(#b61)"/>
<rect x="380.7" y="62" width="226.9" height="1" fill="url(#b62)"/>
<rect x="380.7" y="63" width="226.9" height="1" fill="url(#b63)"/>
<rect x="380.7" y="64" width="226.9" height="1" fill="url(#b64)"/>
<rect x="380.7" y="65" width="226.9" height="1" fill="url(#b65)"/>
<rect x="380.7" y="66" width="226.9" height="1" fill="url(#b66)"/>
<rect x="380.7" y="67" width="226.9" height="1" fill="url(#b67)"/>
<rect x="380.7" y="68" width="226.9" height="1" fill="url(#b68)"/>
<rect x="380.7" y="69" width="226.9" height="1" fill="url(#b69)"/>
<rect x="380.7" y="70" width="226.9" height="1" fill="url(#b70)"/>
<rect x="380.7" y="71" width="226.9" height="1" fill="url(#b71)"/>
<rect x="380.7" y="72" width="226.9" height="1" fill="url(#b72)"/>
<rect x="380.7" y="73" width="226.9" height="1" fill="url(#b73)"/>
<rect x="380.7" y="74" width="226.9" height="1" fill="url(#b74)"/>
<rect x="380.7" y="75" width="226.9" height="1" fill="url(#b75)"/>
<rect x="380.7" y="76" width="226.9" height="1" fill="url(#b76)"/>
<rect x="380.7" y="77" width="226.9" height="1" fill="url(#b77)"/>
<rect x="380.7" y="78" width="226.9" height="1" fill="url(#b78)"/>
<rect x="380.7" y="79" width="226.9" height="1" fill="url(#b79)"/>
<rect x="380.7" y="80" width="226.9" height="1" fill="url(#b80)"/>
<rect x="380.7" y="81" width="226.9" height="1" fill="url(#b81)"/>
<rect x="380.7" y="82" width="226.9" height="1" fill="url(#b82)"/>
<rect x="380.7" y="83" width="226.9" height="1" fill="url(#b83)"/>
<rect x="380.7" y="84" width="226.9" height="1" fill="url(#b84)"/>
<rect x="380.7" y="85" width="226.9" height="1" fill="url(#b85)"/>
<rect x="380.7" y="86" width="226.9" height="1" fill="url(#b86)"/>
<rect x="380.7" y="87" width="226.9" height="1" fill="url(#b87)"/>
<rect x="380.7" y="88" width="226.9" height="1" fill="url(#b88)"/>
<rect x="380.7" y="89" width="226.9" height="1" fill="url(#b89)"/>
<rect x="380.7" y="90" width="226.9" height="1" fill="url(#b90)"/>
<rect x="380.7" y="91" width="226.9" height="1" fill="url(#b91)"/>
<rect x="380.7" y="92" width="226.9" height="1" fill="url(#b92)"/>
<rect x="380.7" y="93" width="226.9" height="1" fill="url(#b93)"/>
<rect x="380.7" y="94" width="226.9" height="1" fill="url(#b94)"/>
<rect x="380.7" y="95" width="226.9" height="1" fill="url(#b95)"/>
<rect x="380.7" y="96" width="226.9" height="1" fill="url(#b96)"/>
<rect x="380.7" y="97" width="226.9" height="1" fill="url(#b97)"/>
<rect x="380.7" y="98" width="226.9" height="1" fill="url(#b98)"/>
<rect x="380.7" y="99" width="226.9" height="1" fill="url(#b99)"/>
<rect x="380.7" y="100" width="226.9" height="1" fill="url(#b100)"/>
<rect x="380.7" y="101" width="226.9" height="1" fill="url(#b101)"/>
<rect x="380.7" y="102" width="226.9" height="1" fill="url(#b102)"/>
<rect x="380.7" y="103" width="226.9" height="1" fill="url(#b103)"/>
<rect x="380.7" y="104" width="226.9" height="1" fill="url(#b104)"/>
<rect x="380.7" y="105" width="226.9" height="1" fill="url(#b105)"/>
<rect x="380.7" y="106" width="226.9" height="1" fill="url(#b106)"/>
<rect x="380.7" y="107" width="226.9" height="1" fill="url(#b107)"/>
<rect x="380.7" y="108" width="226.9" height="1" fill="url(#b108)"/>
<rect x="380.7" y="109" width="226.9" height="1" fill="url(#b109)"/>
<rect x="380.7" y="110" width="226.9" height="1" fill="url(#b110)"/>
<rect x="380.7" y="111" width="226.9" height="1" fill="url(#b111)"/>
<rect x="380.7" y="112" width="226.9" height="1" fill="url(#b112)"/>
<rect x="380.7" y="113" width="226.9" height="1" fill="url(#b113)"/>
<rect x="380.7" y="114" width="226.9" height="1" fill="url(#b114)"/>
<rect x="380.7" y="115" width="226.9" height="1" fill="url(#b115)"/>
<rect x="380.7" y="116" width="226.9" height="1" fill="url(#b116)"/>
<rect x="380.7" y="117" width="226.9" height="1" fill="url(#b117)"/>
<rect x="380.7" y="118" width="226.9" height="1" fill="url(#b118)"/>
<rect x="380.7" y="119" width="226.9" height="1" fill="url(#b119)"/>
<rect x="380.7" y="120" width="226.9" height="1" fill="url(#b120)"/>
<rect x="380.7" y="121" width="226.9" height="1" fill="url(#b121)"/>
<rect x="380.7" y="122" width="226.9" height="1" fill="url(#b122)"/>
<rect x="380.7" y="123" width="226.9" height="1" fill="url(#b123)"/>
<rect x="380.7" y="124" width="226.9" height="1" fill="url(#b124)"/>
<rect x="380.7" y="125" width="226.9" height="1" fill="url(#b125)"/>
<rect x="380.7" y="126" width="226.9" height="1" fill="url(#b126)"/>
<rect x="380.7" y="127" width="226.9" height="1" fill="url(#b127)"/>
<rect x="380.7" y="128" width="226.9" height="1" fill="url(#b128)"/>
<rect x="380.7" y="129" width="226.9" height="1" fill="url(#b129)"/>
<rect x="380.7" y="130" width="226.9" height="1" fill="url(#b130)"/>
<rect x="380.7" y="131" width="226.9" height="1" fill="url(#b131)"/>
<rect x="380.7" y="132" width="226.9" height="1" fill="url(#b132)"/>
<rect x="380.7" y="133" width="226.9" height="1" fill="url(#b133)"/>
<rect x="380.7" y="134" width="226.9" height="1" fill="url(#b134)"/>
<rect x="380.7" y="135" width="226.9" height="1" fill="url(#b135)"/>
<rect x="380.7" y="136" width="226.9" height="1" fill="url(#b136)"/>
<rect x="380.7" y="137" width="226.9" height="1" fill="url(#b137)"/>
<rect x="380.7" y="138" width="226.9" height="1" fill="url(#b138)"/></g>
<g shape-rendering="crispEdges"><rect x="380.7" y="175" width="226.9" height="1" fill="url(#d175)"/>
<rect x="380.7" y="176" width="226.9" height="1" fill="url(#d176)"/>
<rect x="380.7" y="177" width="226.9" height="1" fill="url(#d177)"/>
<rect x="380.7" y="178" width="226.9" height="1" fill="url(#d178)"/>
<rect x="380.7" y="179" width="226.9" height="1" fill="url(#d179)"/>
<rect x="380.7" y="180" width="226.9" height="1" fill="url(#d180)"/>
<rect x="380.7" y="181" width="226.9" height="1" fill="url(#d181)"/>
<rect x="380.7" y="182" width="226.9" height="1" fill="url(#d182)"/>
<rect x="380.7" y="183" width="226.9" height="1" fill="url(#d183)"/>
<rect x="380.7" y="184" width="226.9" height="1" fill="url(#d184)"/>
<rect x="380.7" y="185" width="226.9" height="1" fill="url(#d185)"/>
<rect x="380.7" y="186" width="226.9" height="1" fill="url(#d186)"/>
<rect x="380.7" y="187" width="226.9" height="1" fill="url(#d187)"/>
<rect x="380.7" y="188" width="226.9" height="1" fill="url(#d188)"/>
<rect x="380.7" y="189" width="226.9" height="1" fill="url(#d189)"/>
<rect x="380.7" y="190" width="226.9" height="1" fill="url(#d190)"/>
<rect x="380.7" y="191" width="226.9" height="1" fill="url(#d191)"/>
<rect x="380.7" y="192" width="226.9" height="1" fill="url(#d192)"/>
<rect x="380.7" y="193" width="226.9" height="1" fill="url(#d193)"/>
<rect x="380.7" y="194" width="226.9" height="1" fill="url(#d194)"/>
<rect x="380.7" y="195" width="226.9" height="1" fill="url(#d195)"/>
<rect x="380.7" y="196" width="226.9" height="1" fill="url(#d196)"/>
<rect x="380.7" y="197" width="226.9" height="1" fill="url(#d197)"/>
<rect x="380.7" y="198" width="226.9" height="1" fill="url(#d198)"/>
<rect x="380.7" y="199" width="226.9" height="1" fill="url(#d199)"/>
<rect x="380.7" y="200" width="226.9" height="1" fill="url(#d200)"/>
<rect x="380.7" y="201" width="226.9" height="1" fill="url(#d201)"/>
<rect x="380.7" y="202" width="226.9" height="1" fill="url(#d202)"/>
<rect x="380.7" y="203" width="226.9" height="1" fill="url(#d203)"/>
<rect x="380.7" y="204" width="226.9" height="1" fill="url(#d204)"/>
<rect x="380.7" y="205" width="226.9" height="1" fill="url(#d205)"/>
<rect x="380.7" y="206" width="226.9" height="1" fill="url(#d206)"/>
<rect x="380.7" y="207" width="226.9" height="1" fill="url(#d207)"/>
<rect x="380.7" y="208" width="226.9" height="1" fill="url(#d208)"/>
<rect x="380.7" y="209" width="226.9" height="1" fill="url(#d209)"/>
<rect x="380.7" y="210" width="226.9" height="1" fill="url(#d210)"/>
<rect x="380.7" y="211" width="226.9" height="1" fill="url(#d211)"/>
<rect x="380.7" y="212" width="226.9" height="1" fill="url(#d212)"/>
<rect x="380.7" y="213" width="226.9" height="1" fill="url(#d213)"/>
<rect x="380.7" y="214" width="226.9" height="1" fill="url(#d214)"/>
<rect x="380.7" y="215" width="226.9" height="1" fill="url(#d215)"/>
<rect x="380.7" y="216" width="226.9" height="1" fill="url(#d216)"/>
<rect x="380.7" y="217" width="226.9" height="1" fill="url(#d217)"/>
<rect x="380.7" y="218" width="226.9" height="1" fill="url(#d218)"/>
<rect x="380.7" y="219" width="226.9" height="1" fill="url(#d219)"/>
<rect x="380.7" y="220" width="226.9" height="1" fill="url(#d220)"/>
<rect x="380.7" y="221" width="226.9" height="1" fill="url(#d221)"/>
<rect x="380.7" y="222" width="226.9" height="1" fill="url(#d222)"/>
<rect x="380.7" y="223" width="226.9" height="1" fill="url(#d223)"/>
<rect x="380.7" y="224" width="226.9" height="1" fill="url(#d224)"/>
<rect x="380.7" y="225" width="226.9" height="1" fill="url(#d225)"/>
<rect x="380.7" y="226" width="226.9" height="1" fill="url(#d226)"/>
<rect x="380.7" y="227" width="226.9" height="1" fill="url(#d227)"/>
<rect x="380.7" y="228" width="226.9" height="1" fill="url(#d228)"/>
<rect x="380.7" y="229" width="226.9" height="1" fill="url(#d229)"/>
<rect x="380.7" y="230" width="226.9" height="1" fill="url(#d230)"/>
<rect x="380.7" y="231" width="226.9" height="1" fill="url(#d231)"/>
<rect x="380.7" y="232" width="226.9" height="1" fill="url(#d232)"/>
<rect x="380.7" y="233" width="226.9" height="1" fill="url(#d233)"/>
<rect x="380.7" y="234" width="226.9" height="1" fill="url(#d234)"/>
<rect x="380.7" y="235" width="226.9" height="1" fill="url(#d235)"/>
<rect x="380.7" y="236" width="226.9" height="1" fill="url(#d236)"/>
<rect x="380.7" y="237" width="226.9" height="1" fill="url(#d237)"/>
<rect x="380.7" y="238" width="226.9" height="1" fill="url(#d238)"/>
<rect x="380.7" y="239" width="226.9" height="1" fill="url(#d239)"/>
<rect x="380.7" y="240" width="226.9" height="1" fill="url(#d240)"/>
<rect x="380.7" y="241" width="226.9" height="1" fill="url(#d241)"/>
<rect x="380.7" y="242" width="226.9" height="1" fill="url(#d242)"/>
<rect x="380.7" y="243" width="226.9" height="1" fill="url(#d243)"/>
<rect x="380.7" y="244" width="226.9" height="1" fill="url(#d244)"/>
<rect x="380.7" y="245" width="226.9" height="1" fill="url(#d245)"/>
<rect x="380.7" y="246" width="226.9" height="1" fill="url(#d246)"/>
<rect x="380.7" y="247" width="226.9" height="1" fill="url(#d247)"/>
<rect x="380.7" y="248" width="226.9" height="1" fill="url(#d248)"/>
<rect x="380.7" y="249" width="226.9" height="1" fill="url(#d249)"/>
<rect x="380.7" y="250" width="226.9" height="1" fill="url(#d250)"/>
<rect x="380.7" y="251" width="226.9" height="1" fill="url(#d251)"/>
<rect x="380.7" y="252" width="226.9" height="1" fill="url(#d252)"/>
<rect x="380.7" y="253" width="226.9" height="1" fill="url(#d253)"/>
<rect x="380.7" y="254" width="226.9" height="1" fill="url(#d254)"/>
<rect x="380.7" y="255" width="226.9" height="1" fill="url(#d255)"/>
<rect x="380.7" y="256" width="226.9" height="1" fill="url(#d256)"/>
<rect x="380.7" y="257" width="226.9" height="1" fill="url(#d257)"/>
<rect x="380.7" y="258" width="226.9" height="1" fill="url(#d258)"/>
<rect x="380.7" y="259" width="226.9" height="1" fill="url(#d259)"/>
<rect x="380.7" y="260" width="226.9" height="1" fill="url(#d260)"/>
<rect x="380.7" y="261" width="226.9" height="1" fill="url(#d261)"/>
<rect x="380.7" y="262" width="226.9" height="1" fill="url(#d262)"/>
<rect x="380.7" y="263" width="226.9" height="1" fill="url(#d263)"/>
<rect x="380.7" y="264" width="226.9" height="1" fill="url(#d264)"/>
<rect x="380.7" y="265" width="226.9" height="1" fill="url(#d265)"/>
<rect x="380.7" y="266" width="226.9" height="1" fill="url(#d266)"/>
<rect x="380.7" y="267" width="226.9" height="1" fill="url(#d267)"/>
<rect x="380.7" y="268" width="226.9" height="1" fill="url(#d268)"/>
<rect x="380.7" y="269" width="226.9" height="1" fill="url(#d269)"/>
<rect x="380.7" y="270" width="226.9" height="1" fill="url(#d270)"/>
<rect x="380.7" y="271" width="226.9" height="1" fill="url(#d271)"/>
<rect x="380.7" y="272" width="226.9" height="1" fill="url(#d272)"/>
<rect x="380.7" y="273" width="226.9" height="1" fill="url(#d273)"/>
<rect x="380.7" y="274" width="226.9" height="1" fill="url(#d274)"/>
<rect x="380.7" y="275" width="226.9" height="1" fill="url(#d275)"/>
<rect x="380.7" y="276" width="226.9" height="1" fill="url(#d276)"/>
<rect x="380.7" y="277" width="226.9" height="1" fill="url(#d277)"/>
<rect x="380.7" y="278" width="226.9" height="1" fill="url(#d278)"/>
<rect x="380.7" y="279" width="226.9" height="1" fill="url(#d279)"/>
<rect x="380.7" y="280" width="226.9" height="1" fill="url(#d280)"/>
<rect x="380.7" y="281" width="226.9" height="1" fill="url(#d281)"/>
<rect x="380.7" y="282" width="226.9" height="1" fill="url(#d282)"/>
<rect x="380.7" y="283" width="226.9" height="1" fill="url(#d283)"/>
<rect x="380.7" y="284" width="226.9" height="1" fill="url(#d284)"/>
<rect x="380.7" y="285" width="226.9" height="1" fill="url(#d285)"/>
<rect x="380.7" y="286" width="226.9" height="1" fill="url(#d286)"/>
<rect x="380.7" y="287" width="226.9" height="1" fill="url(#d287)"/>
<rect x="380.7" y="288" width="226.9" height="1" fill="url(#d288)"/>
<rect x="380.7" y="289" width="226.9" height="1" fill="url(#d289)"/>
<rect x="380.7" y="290" width="226.9" height="1" fill="url(#d290)"/>
<rect x="380.7" y="291" width="226.9" height="1" fill="url(#d291)"/>
<rect x="380.7" y="292" width="226.9" height="1" fill="url(#d292)"/>
<rect x="380.7" y="293" width="226.9" height="1" fill="url(#d293)"/>
<rect x="380.7" y="294" width="226.9" height="1" fill="url(#d294)"/>
<rect x="380.7" y="295" width="226.9" height="1" fill="url(#d295)"/>
<rect x="380.7" y="296" width="226.9" height="1" fill="url(#d296)"/>
<rect x="380.7" y="297" width="226.9" height="1" fill="url(#d297)"/>
<rect x="380.7" y="298" width="226.9" height="1" fill="url(#d298)"/>
<rect x="380.7" y="299" width="226.9" height="1" fill="url(#d299)"/>
<rect x="380.7" y="300" width="226.9" height="1" fill="url(#d300)"/>
<rect x="380.7" y="301" width="226.9" height="1" fill="url(#d301)"/>
<rect x="380.7" y="302" width="226.9" height="1" fill="url(#d302)"/>
<rect x="380.7" y="303" width="226.9" height="1" fill="url(#d303)"/>
<rect x="380.7" y="304" width="226.9" height="1" fill="url(#d304)"/>
<rect x="380.7" y="305" width="226.9" height="1" fill="url(#d305)"/>
<rect x="380.7" y="306" width="226.9" height="1" fill="url(#d306)"/>
<rect x="380.7" y="307" width="226.9" height="1" fill="url(#d307)"/>
<rect x="380.7" y="308" width="226.9" height="1" fill="url(#d308)"/>
<rect x="380.7" y="309" width="226.9" height="1" fill="url(#d309)"/>
<rect x="380.7" y="310" width="226.9" height="1" fill="url(#d310)"/>
<rect x="380.7" y="311" width="226.9" height="1" fill="url(#d311)"/>
<rect x="380.7" y="312" width="226.9" height="1" fill="url(#d312)"/>
<rect x="380.7" y="313" width="226.9" height="1" fill="url(#d313)"/></g>
<g clip-path="url(#cb)">
<polyline points="668.7,-3.6 667.9,-3.2 667.2,-2.7 666.4,-2.2 665.7,-1.7 664.9,-1.2 664.2,-0.7 663.4,-0.2 662.7,0.3 661.9,0.8 661.2,1.3 660.4,1.8 659.7,2.3 658.9,2.8 658.1,3.3 657.4,3.7 656.6,4.2 655.9,4.7 655.1,5.2 654.3,5.7 653.6,6.2 652.8,6.7 652.1,7.2 651.3,7.7 650.5,8.2 649.6,8.7 648.8,9.2 647.9,9.7 647.1,10.2 646.2,10.7 645.4,11.1 644.5,11.6 643.7,12.1 642.8,12.6 642.0,13.1 641.2,13.6 640.4,14.1 639.6,14.6 638.8,15.1 638.1,15.6 637.3,16.1 636.6,16.6 635.8,17.1 635.0,17.6 634.3,18.0 633.5,18.5 632.7,19.0 631.9,19.5 631.2,20.0 630.4,20.5 629.7,21.0 629.0,21.5 628.2,22.0 627.5,22.5 626.7,23.0 626.0,23.5 625.2,24.0 624.5,24.5 623.8,25.0 623.0,25.4 622.3,25.9 621.5,26.4 620.8,26.9 620.0,27.4 619.2,27.9 618.5,28.4 617.7,28.9 616.9,29.4 616.1,29.9 615.4,30.4 614.6,30.9 613.8,31.4 613.0,31.9 612.2,32.3 611.4,32.8 610.5,33.3 609.7,33.8 608.9,34.3 608.1,34.8 607.2,35.3 606.4,35.8 605.6,36.3 604.8,36.8 603.9,37.3 603.1,37.8 602.3,38.3 601.5,38.8 600.8,39.3 600.0,39.7 599.2,40.2 598.4,40.7 597.6,41.2 596.8,41.7 596.0,42.2 595.2,42.7 594.5,43.2 593.7,43.7 592.9,44.2 592.1,44.7 591.4,45.2 590.6,45.7 589.9,46.2 589.1,46.7 588.4,47.1 587.6,47.6 586.9,48.1 586.1,48.6 585.4,49.1 584.6,49.6 583.8,50.1 583.0,50.6 582.2,51.1 581.5,51.6 580.7,52.1 579.9,52.6 579.1,53.1 578.3,53.6 577.5,54.0 576.7,54.5 575.9,55.0 575.1,55.5 574.3,56.0 573.4,56.5 572.6,57.0 571.7,57.5 570.8,58.0 569.9,58.5 569.0,59.0 568.1,59.5 567.2,60.0 566.4,60.5 565.5,61.0 564.6,61.4 563.7,61.9 562.8,62.4 562.0,62.9 561.2,63.4 560.4,63.9 559.6,64.4 558.8,64.9 558.0,65.4 557.1,65.9 556.3,66.4 555.5,66.9 554.7,67.4 553.9,67.9 553.1,68.3 552.2,68.8 551.3,69.3 550.4,69.8 549.6,70.3 548.7,70.8 547.8,71.3 547.0,71.8 546.1,72.3 545.2,72.8 544.4,73.3 543.5,73.8 542.7,74.3 541.8,74.8 541.0,75.3 540.2,75.7 539.4,76.2 538.6,76.7 537.8,77.2 537.0,77.7 536.2,78.2 535.4,78.7 534.6,79.2 533.8,79.7 532.9,80.2 532.1,80.7 531.2,81.2 530.2,81.7 529.3,82.2 528.4,82.7 527.5,83.1 526.5,83.6 525.6,84.1 524.7,84.6 523.8,85.1 522.9,85.6 521.9,86.1 521.0,86.6 520.1,87.1 519.2,87.6 518.3,88.1 517.3,88.6 516.4,89.1 515.5,89.6 514.6,90.0 513.6,90.5 512.7,91.0 511.8,91.5 510.9,92.0 509.9,92.5 509.1,93.0 508.3,93.5 507.5,94.0 506.7,94.5 505.9,95.0 505.1,95.5 504.3,96.0 503.5,96.5 502.7,97.0 501.9,97.4 501.1,97.9 500.3,98.4 499.4,98.9 498.6,99.4 497.7,99.9 496.9,100.4 496.0,100.9 495.2,101.4 494.3,101.9 493.4,102.4 492.6,102.9 491.7,103.4 490.9,103.9 490.0,104.3 489.2,104.8 488.3,105.3 487.4,105.8 486.6,106.3 485.7,106.8 484.8,107.3 484.0,107.8 483.1,108.3 482.2,108.8 481.4,109.3 480.5,109.8 479.7,110.3 478.8,110.8 477.9,111.3 477.0,111.7 476.0,112.2 475.1,112.7 474.2,113.2 473.3,113.7 472.3,114.2 471.4,114.7 470.5,115.2 469.5,115.7 468.6,116.2 467.6,116.7 466.7,117.2 465.8,117.7 464.9,118.2 464.1,118.6 463.2,119.1 462.3,119.6 461.4,120.1 460.5,120.6 459.6,121.1 458.7,121.6 457.8,122.1 456.9,122.6 456.0,123.1 455.0,123.6 454.0,124.1 453.0,124.6 452.0,125.1 451.0,125.6 450.0,126.0 449.0,126.5 448.0,127.0 447.1,127.5 446.1,128.0 445.1,128.5 444.1,129.0 443.1,129.5 442.1,130.0 441.0,130.5 440.0,131.0 439.0,131.5 438.0,132.0 436.9,132.5 435.9,133.0 434.9,133.4 433.8,133.9 432.8,134.4 431.7,134.9 430.8,135.4 430.0,135.9 429.1,136.4 428.3,136.9 427.4,137.4 426.5,137.9 425.7,138.4 424.8,138.9 423.9,139.4 423.1,139.9 422.2,140.3 421.3,140.8 420.4,141.3 419.5,141.8 418.7,142.3 417.8,142.8 416.9,143.3 416.0,143.8" fill="none" stroke="#000" stroke-width="2.4"/>
<polyline points="633.6,-3.6 632.9,-3.2 632.2,-2.7 631.5,-2.2 630.8,-1.7 630.1,-1.2 629.4,-0.7 628.8,-0.2 628.1,0.3 627.4,0.8 626.7,1.3 626.0,1.8 625.3,2.3 624.6,2.8 623.9,3.3 623.2,3.7 622.5,4.2 621.8,4.7 621.1,5.2 620.4,5.7 619.7,6.2 619.1,6.7 618.4,7.2 617.7,7.7 616.9,8.2 616.1,8.7 615.3,9.2 614.6,9.7 613.8,10.2 613.0,10.7 612.2,11.1 611.5,11.6 610.7,12.1 609.9,12.6 609.2,13.1 608.4,13.6 607.7,14.1 607.0,14.6 606.3,15.1 605.6,15.6 604.9,16.1 604.2,16.6 603.5,17.1 602.8,17.6 602.1,18.0 601.4,18.5 600.7,19.0 600.0,19.5 599.3,20.0 598.6,20.5 597.9,21.0 597.3,21.5 596.6,22.0 595.9,22.5 595.2,23.0 594.5,23.5 593.9,24.0 593.2,24.5 592.5,25.0 591.8,25.4 591.2,25.9 590.5,26.4 589.8,26.9 589.1,27.4 588.4,27.9 587.7,28.4 587.0,28.9 586.3,29.4 585.6,29.9 584.8,30.4 584.1,30.9 583.4,31.4 582.7,31.9 581.9,32.3 581.2,32.8 580.4,33.3 579.7,33.8 578.9,34.3 578.2,34.8 577.4,35.3 576.7,35.8 575.9,36.3 575.2,36.8 574.4,37.3 573.7,37.8 573.0,38.3 572.2,38.8 571.5,39.3 570.8,39.7 570.1,40.2 569.4,40.7 568.7,41.2 567.9,41.7 567.2,42.2 566.5,42.7 565.8,43.2 565.1,43.7 564.4,44.2 563.7,44.7 563.0,45.2 562.3,45.7 561.6,46.2 560.9,46.7 560.2,47.1 559.6,47.6 558.9,48.1 558.2,48.6 557.5,49.1 556.8,49.6 556.1,50.1 555.4,50.6 554.7,51.1 553.9,51.6 553.2,52.1 552.5,52.6 551.8,53.1 551.0,53.6 550.3,54.0 549.6,54.5 548.9,55.0 548.1,55.5 547.4,56.0 546.6,56.5 545.8,57.0 545.0,57.5 544.2,58.0 543.4,58.5 542.6,59.0 541.8,59.5 541.0,60.0 540.2,60.5 539.4,61.0 538.6,61.4 537.8,61.9 537.0,62.4 536.2,62.9 535.5,63.4 534.8,63.9 534.0,64.4 533.3,64.9 532.6,65.4 531.8,65.9 531.1,66.4 530.3,66.9 529.6,67.4 528.9,67.9 528.1,68.3 527.3,68.8 526.5,69.3 525.7,69.8 525.0,70.3 524.2,70.8 523.4,71.3 522.6,71.8 521.8,72.3 521.0,72.8 520.2,73.3 519.5,73.8 518.7,74.3 517.9,74.8 517.2,75.3 516.5,75.7 515.7,76.2 515.0,76.7 514.3,77.2 513.5,77.7 512.8,78.2 512.1,78.7 511.3,79.2 510.6,79.7 509.8,80.2 509.1,80.7 508.2,81.2 507.4,81.7 506.6,82.2 505.7,82.7 504.9,83.1 504.1,83.6 503.2,84.1 502.4,84.6 501.5,85.1 500.7,85.6 499.9,86.1 499.1,86.6 498.2,87.1 497.4,87.6 496.5,88.1 495.7,88.6 494.9,89.1 494.0,89.6 493.2,90.0 492.4,90.5 491.5,91.0 490.7,91.5 489.8,92.0 489.0,92.5 488.3,93.0 487.5,93.5 486.8,94.0 486.1,94.5 485.4,95.0 484.6,95.5 483.9,96.0 483.2,96.5 482.4,97.0 481.7,97.4 481.0,97.9 480.2,98.4 479.5,98.9 478.7,99.4 477.9,99.9 477.2,100.4 476.4,100.9 475.6,101.4 474.8,101.9 474.1,102.4 473.3,102.9 472.5,103.4 471.7,103.9 471.0,104.3 470.2,104.8 469.4,105.3 468.6,105.8 467.8,106.3 467.1,106.8 466.3,107.3 465.5,107.8 464.7,108.3 463.9,108.8 463.1,109.3 462.4,109.8 461.6,110.3 460.8,110.8 460.0,111.3 459.2,111.7 458.3,112.2 457.5,112.7 456.7,113.2 455.8,113.7 455.0,114.2 454.1,114.7 453.3,115.2 452.4,115.7 451.6,116.2 450.7,116.7 449.9,117.2 449.1,117.7 448.3,118.2 447.5,118.6 446.7,119.1 445.9,119.6 445.1,120.1 444.3,120.6 443.5,121.1 442.7,121.6 441.9,122.1 441.1,122.6 440.3,123.1 439.4,123.6 438.5,124.1 437.6,124.6 436.7,125.1 435.8,125.6 434.9,126.0 434.0,126.5 433.1,127.0 432.2,127.5 431.3,128.0 430.4,128.5 429.5,129.0 428.6,129.5 427.7,130.0 426.8,130.5 425.9,131.0 425.0,131.5 424.0,132.0 423.1,132.5 422.2,133.0 421.2,133.4 420.3,133.9 419.4,134.4 418.4,134.9 417.6,135.4 416.9,135.9 416.1,136.4 415.3,136.9 414.6,137.4 413.8,137.9 413.0,138.4 412.2,138.9 411.4,139.4 410.7,139.9 409.9,140.3 409.1,140.8 408.3,141.3 407.5,141.8 406.7,142.3 405.9,142.8 405.1,143.3 404.3,143.8" fill="none" stroke="#000" stroke-width="2.4"/>
<line x1="380.70" y1="24.40" x2="607.60" y2="24.40" stroke="#000" stroke-width="2.0"/>
</g>
<g clip-path="url(#cd)">
<polyline points="626.9,170.5 625.9,171.0 624.9,171.5 624.0,172.0 623.0,172.5 622.0,173.0 621.1,173.5 620.1,174.0 619.1,174.5 618.1,174.9 617.2,175.4 616.2,175.9 615.2,176.4 614.3,176.9 613.3,177.4 612.3,177.9 611.3,178.4 610.4,178.9 609.4,179.4 608.4,179.9 607.4,180.4 606.4,180.9 605.5,181.4 604.5,181.9 603.5,182.4 602.5,182.8 601.6,183.3 600.6,183.8 599.6,184.3 598.6,184.8 597.6,185.3 596.6,185.8 595.7,186.3 594.7,186.8 593.7,187.3 592.7,187.8 591.7,188.3 590.7,188.8 589.8,189.3 588.9,189.8 588.0,190.3 587.2,190.8 586.3,191.2 585.4,191.7 584.5,192.2 583.6,192.7 582.7,193.2 581.8,193.7 581.0,194.2 580.1,194.7 579.2,195.2 578.3,195.7 577.4,196.2 576.5,196.7 575.5,197.2 574.6,197.7 573.6,198.2 572.7,198.7 571.7,199.2 570.8,199.6 569.8,200.1 568.8,200.6 567.9,201.1 566.9,201.6 565.9,202.1 565.0,202.6 564.0,203.1 563.1,203.6 562.1,204.1 561.1,204.6 560.2,205.1 559.3,205.6 558.4,206.1 557.5,206.6 556.6,207.1 555.7,207.5 554.7,208.0 553.8,208.5 552.9,209.0 552.0,209.5 551.1,210.0 550.2,210.5 549.2,211.0 548.3,211.5 547.4,212.0 546.5,212.5 545.6,213.0 544.7,213.5 543.8,214.0 542.8,214.5 541.9,215.0 541.0,215.5 540.1,215.9 539.2,216.4 538.3,216.9 537.3,217.4 536.4,217.9 535.5,218.4 534.6,218.9 533.7,219.4 532.7,219.9 531.8,220.4 530.9,220.9 529.9,221.4 529.0,221.9 528.0,222.4 527.1,222.9 526.2,223.4 525.2,223.8 524.3,224.3 523.3,224.8 522.4,225.3 521.5,225.8 520.5,226.3 519.6,226.8 518.6,227.3 517.7,227.8 516.8,228.3 515.8,228.8 514.9,229.3 514.0,229.8 513.0,230.3 512.1,230.8 511.2,231.3 510.2,231.8 509.3,232.2 508.4,232.7 507.4,233.2 506.5,233.7 505.6,234.2 504.6,234.7 503.7,235.2 502.8,235.7 501.8,236.2 500.8,236.7 499.9,237.2 498.9,237.7 498.0,238.2 497.0,238.7 496.0,239.2 495.1,239.7 494.1,240.2 493.2,240.6 492.2,241.1 491.2,241.6 490.3,242.1 489.3,242.6 488.4,243.1 487.4,243.6 486.5,244.1 485.5,244.6 484.6,245.1 483.6,245.6 482.7,246.1 481.8,246.6 480.8,247.1 479.9,247.6 478.9,248.1 478.0,248.5 477.0,249.0 476.1,249.5 475.2,250.0 474.2,250.5 473.3,251.0 472.3,251.5 471.4,252.0 470.5,252.5 469.5,253.0 468.6,253.5 467.7,254.0 466.7,254.5 465.8,255.0 464.9,255.5 463.9,256.0 463.0,256.5 462.1,256.9 461.1,257.4 460.2,257.9 459.3,258.4 458.3,258.9 457.4,259.4 456.5,259.9 455.6,260.4 454.7,260.9 453.8,261.4 452.8,261.9 451.9,262.4 451.0,262.9 450.1,263.4 449.2,263.9 448.3,264.4 447.4,264.9 446.4,265.3 445.5,265.8 444.6,266.3 443.7,266.8 442.7,267.3 441.8,267.8 440.9,268.3 440.0,268.8 439.0,269.3 438.1,269.8 437.2,270.3 436.2,270.8 435.3,271.3 434.4,271.8 433.4,272.3 432.5,272.8 431.6,273.2 430.6,273.7 429.7,274.2 428.7,274.7 427.8,275.2 426.8,275.7 425.8,276.2 424.9,276.7 423.9,277.2 422.9,277.7 422.0,278.2 421.0,278.7 420.0,279.2 419.0,279.7 418.1,280.2 417.1,280.7 416.1,281.2 415.2,281.6 414.2,282.1 413.4,282.6 412.6,283.1 411.8,283.6 411.0,284.1 410.2,284.6 409.4,285.1 408.6,285.6 407.8,286.1 407.0,286.6 406.1,287.1 405.3,287.6 404.5,288.1 403.7,288.6 402.9,289.1 402.1,289.5 401.3,290.0 400.4,290.5 399.6,291.0 398.8,291.5 398.0,292.0 397.2,292.5 396.3,293.0 395.5,293.5 394.7,294.0 393.9,294.5 393.0,295.0 392.2,295.5 391.4,296.0 390.6,296.5 389.8,297.0 388.9,297.5 388.1,297.9 387.3,298.4 386.5,298.9 385.7,299.4 384.9,299.9 384.1,300.4 383.3,300.9 382.5,301.4 381.7,301.9 380.9,302.4 380.1,302.9 379.3,303.4 378.5,303.9 377.7,304.4 376.9,304.9 376.1,305.4 375.4,305.9 374.6,306.3 373.9,306.8 373.2,307.3 372.5,307.8 371.8,308.3 371.0,308.8 370.3,309.3 369.6,309.8 368.9,310.3 368.2,310.8 367.4,311.3 366.7,311.8 366.0,312.3 365.3,312.8 364.6,313.3 363.9,313.8 363.1,314.2 362.4,314.7 361.7,315.2 361.0,315.7 360.3,316.2 359.5,316.7 358.8,317.2 358.1,317.7 357.4,318.2" fill="none" stroke="#000" stroke-width="2.4"/>
<polyline points="594.9,170.5 594.1,171.0 593.2,171.5 592.3,172.0 591.5,172.5 590.6,173.0 589.7,173.5 588.8,174.0 588.0,174.5 587.1,174.9 586.2,175.4 585.4,175.9 584.5,176.4 583.6,176.9 582.7,177.4 581.9,177.9 581.0,178.4 580.1,178.9 579.2,179.4 578.4,179.9 577.5,180.4 576.6,180.9 575.7,181.4 574.9,181.9 574.0,182.4 573.1,182.8 572.2,183.3 571.4,183.8 570.5,184.3 569.6,184.8 568.7,185.3 567.8,185.8 567.0,186.3 566.1,186.8 565.2,187.3 564.3,187.8 563.4,188.3 562.5,188.8 561.7,189.3 560.9,189.8 560.1,190.3 559.3,190.8 558.6,191.2 557.8,191.7 557.0,192.2 556.2,192.7 555.4,193.2 554.6,193.7 553.8,194.2 553.0,194.7 552.2,195.2 551.4,195.7 550.6,196.2 549.8,196.7 548.9,197.2 548.1,197.7 547.2,198.2 546.4,198.7 545.5,199.2 544.7,199.6 543.8,200.1 542.9,200.6 542.1,201.1 541.2,201.6 540.4,202.1 539.5,202.6 538.6,203.1 537.8,203.6 536.9,204.1 536.1,204.6 535.3,205.1 534.4,205.6 533.6,206.1 532.8,206.6 532.0,207.1 531.2,207.5 530.4,208.0 529.5,208.5 528.7,209.0 527.9,209.5 527.1,210.0 526.3,210.5 525.5,211.0 524.6,211.5 523.8,212.0 523.0,212.5 522.2,213.0 521.4,213.5 520.5,214.0 519.7,214.5 518.9,215.0 518.1,215.5 517.3,215.9 516.5,216.4 515.6,216.9 514.8,217.4 514.0,217.9 513.2,218.4 512.4,218.9 511.5,219.4 510.7,219.9 509.9,220.4 509.0,220.9 508.2,221.4 507.4,221.9 506.5,222.4 505.7,222.9 504.9,223.4 504.0,223.8 503.2,224.3 502.3,224.8 501.5,225.3 500.7,225.8 499.8,226.3 499.0,226.8 498.1,227.3 497.3,227.8 496.5,228.3 495.6,228.8 494.8,229.3 494.0,229.8 493.2,230.3 492.3,230.8 491.5,231.3 490.7,231.8 489.8,232.2 489.0,232.7 488.2,233.2 487.3,233.7 486.5,234.2 485.7,234.7 484.8,235.2 484.0,235.7 483.2,236.2 482.3,236.7 481.4,237.2 480.6,237.7 479.7,238.2 478.9,238.7 478.0,239.2 477.2,239.7 476.3,240.2 475.5,240.6 474.6,241.1 473.8,241.6 472.9,242.1 472.1,242.6 471.2,243.1 470.4,243.6 469.5,244.1 468.7,244.6 467.9,245.1 467.0,245.6 466.2,246.1 465.3,246.6 464.5,247.1 463.7,247.6 462.8,248.1 462.0,248.5 461.1,249.0 460.3,249.5 459.5,250.0 458.6,250.5 457.8,251.0 457.0,251.5 456.1,252.0 455.3,252.5 454.5,253.0 453.7,253.5 452.8,254.0 452.0,254.5 451.2,255.0 450.3,255.5 449.5,256.0 448.7,256.5 447.9,256.9 447.0,257.4 446.2,257.9 445.4,258.4 444.5,258.9 443.7,259.4 442.9,259.9 442.1,260.4 441.3,260.9 440.5,261.4 439.7,261.9 438.9,262.4 438.1,262.9 437.3,263.4 436.4,263.9 435.6,264.4 434.8,264.9 434.0,265.3 433.2,265.8 432.4,266.3 431.6,266.8 430.7,267.3 429.9,267.8 429.1,268.3 428.3,268.8 427.5,269.3 426.6,269.8 425.8,270.3 425.0,270.8 424.2,271.3 423.3,271.8 422.5,272.3 421.7,272.8 420.9,273.2 420.0,273.7 419.2,274.2 418.3,274.7 417.5,275.2 416.6,275.7 415.8,276.2 414.9,276.7 414.1,277.2 413.2,277.7 412.4,278.2 411.5,278.7 410.7,279.2 409.8,279.7 408.9,280.2 408.1,280.7 407.2,281.2 406.4,281.6 405.6,282.1 404.9,282.6 404.1,283.1 403.4,283.6 402.7,284.1 402.0,284.6 401.3,285.1 400.6,285.6 399.9,286.1 399.1,286.6 398.4,287.1 397.7,287.6 397.0,288.1 396.3,288.6 395.6,289.1 394.8,289.5 394.1,290.0 393.4,290.5 392.7,291.0 392.0,291.5 391.2,292.0 390.5,292.5 389.8,293.0 389.1,293.5 388.3,294.0 387.6,294.5 386.9,295.0 386.2,295.5 385.4,296.0 384.7,296.5 384.0,297.0 383.3,297.5 382.6,297.9 381.9,298.4 381.2,298.9 380.4,299.4 379.7,299.9 379.0,300.4 378.3,300.9 377.6,301.4 376.9,301.9 376.2,302.4 375.5,302.9 374.8,303.4 374.1,303.9 373.4,304.4 372.7,304.9 372.0,305.4 371.3,305.9 370.7,306.3 370.1,306.8 369.5,307.3 368.8,307.8 368.2,308.3 367.6,308.8 366.9,309.3 366.3,309.8 365.7,310.3 365.0,310.8 364.4,311.3 363.8,311.8 363.1,312.3 362.5,312.8 361.9,313.3 361.2,313.8 360.6,314.2 360.0,314.7 359.3,315.2 358.7,315.7 358.1,316.2 357.5,316.7 356.8,317.2 356.2,317.7 355.5,318.2" fill="none" stroke="#000" stroke-width="2.4"/>
<line x1="380.70" y1="205.00" x2="607.60" y2="205.00" stroke="#000" stroke-width="2.0"/>
</g>
<line x1="233.70" y1="1.35" x2="233.70" y2="138.85" stroke="#000" stroke-width="2.0"/>
<polyline points="53.53,132.10 62.90,127.20 72.28,121.30 81.65,115.50 91.03,110.20 100.40,104.60 109.78,99.30 119.15,94.00 128.53,88.90 137.90,83.10 147.28,77.30 156.65,72.05 166.02,66.50 175.40,61.20 184.78,55.40 194.15,50.10 203.53,45.00 212.90,39.70 222.27,34.20 231.65,28.90 241.03,23.80 250.40,18.50 259.77,12.70 269.15,7.40" fill="none" stroke="#000" stroke-width="2.2"/>
<circle cx="53.53" cy="132.10" r="3.5" fill="#000"/><circle cx="62.90" cy="127.20" r="3.5" fill="#000"/><circle cx="72.28" cy="121.30" r="3.5" fill="#000"/><circle cx="81.65" cy="115.50" r="3.5" fill="#000"/><circle cx="91.03" cy="110.20" r="3.5" fill="#000"/><circle cx="100.40" cy="104.60" r="3.5" fill="#000"/><circle cx="109.78" cy="99.30" r="3.5" fill="#000"/><circle cx="119.15" cy="94.00" r="3.5" fill="#000"/><circle cx="128.53" cy="88.90" r="3.5" fill="#000"/><circle cx="137.90" cy="83.10" r="3.5" fill="#000"/><circle cx="147.28" cy="77.30" r="3.5" fill="#000"/><circle cx="156.65" cy="72.05" r="3.5" fill="#000"/><circle cx="166.02" cy="66.50" r="3.5" fill="#000"/><circle cx="175.40" cy="61.20" r="3.5" fill="#000"/><circle cx="184.78" cy="55.40" r="3.5" fill="#000"/><circle cx="194.15" cy="50.10" r="3.5" fill="#000"/><circle cx="203.53" cy="45.00" r="3.5" fill="#000"/><circle cx="212.90" cy="39.70" r="3.5" fill="#000"/><circle cx="222.27" cy="34.20" r="3.5" fill="#000"/><circle cx="231.65" cy="28.90" r="3.5" fill="#000"/><circle cx="241.03" cy="23.80" r="3.5" fill="#000"/><circle cx="250.40" cy="18.50" r="3.5" fill="#000"/><circle cx="259.77" cy="12.70" r="3.5" fill="#000"/><circle cx="269.15" cy="7.40" r="3.5" fill="#000"/>
<polyline points="56.65,132.40 66.03,121.85 75.40,111.30 84.78,102.30 94.15,94.70 103.53,87.00 112.90,80.30 122.28,73.90 131.65,67.60 141.03,61.80 150.40,56.60 159.78,51.30 169.15,46.90 178.53,42.30 187.90,37.70 197.28,33.50 206.65,29.30 216.02,25.40 225.40,21.90 234.78,18.00 244.15,14.60 253.53,10.90 262.90,7.60" fill="none" stroke="#9467bd" stroke-width="2.2"/>
<circle cx="56.65" cy="132.40" r="3.5" fill="#9467bd"/><circle cx="66.03" cy="121.85" r="3.5" fill="#9467bd"/><circle cx="75.40" cy="111.30" r="3.5" fill="#9467bd"/><circle cx="84.78" cy="102.30" r="3.5" fill="#9467bd"/><circle cx="94.15" cy="94.70" r="3.5" fill="#9467bd"/><circle cx="103.53" cy="87.00" r="3.5" fill="#9467bd"/><circle cx="112.90" cy="80.30" r="3.5" fill="#9467bd"/><circle cx="122.28" cy="73.90" r="3.5" fill="#9467bd"/><circle cx="131.65" cy="67.60" r="3.5" fill="#9467bd"/><circle cx="141.03" cy="61.80" r="3.5" fill="#9467bd"/><circle cx="150.40" cy="56.60" r="3.5" fill="#9467bd"/><circle cx="159.78" cy="51.30" r="3.5" fill="#9467bd"/><circle cx="169.15" cy="46.90" r="3.5" fill="#9467bd"/><circle cx="178.53" cy="42.30" r="3.5" fill="#9467bd"/><circle cx="187.90" cy="37.70" r="3.5" fill="#9467bd"/><circle cx="197.28" cy="33.50" r="3.5" fill="#9467bd"/><circle cx="206.65" cy="29.30" r="3.5" fill="#9467bd"/><circle cx="216.02" cy="25.40" r="3.5" fill="#9467bd"/><circle cx="225.40" cy="21.90" r="3.5" fill="#9467bd"/><circle cx="234.78" cy="18.00" r="3.5" fill="#9467bd"/><circle cx="244.15" cy="14.60" r="3.5" fill="#9467bd"/><circle cx="253.53" cy="10.90" r="3.5" fill="#9467bd"/><circle cx="262.90" cy="7.60" r="3.5" fill="#9467bd"/>
<line x1="231.00" y1="175.50" x2="231.00" y2="313.30" stroke="#000" stroke-width="2.0"/>
<polyline points="54.05,306.90 66.80,301.60 79.55,295.60 92.30,289.40 105.05,283.20 117.80,275.70 130.55,268.40 143.30,261.10 156.05,253.60 168.80,245.90 181.55,238.00 194.30,230.20 207.05,222.30 219.80,214.50 232.55,206.70 245.30,198.40 258.05,190.60 270.80,182.00" fill="none" stroke="#000" stroke-width="2.2"/>
<circle cx="54.05" cy="306.90" r="3.5" fill="#000"/><circle cx="66.80" cy="301.60" r="3.5" fill="#000"/><circle cx="79.55" cy="295.60" r="3.5" fill="#000"/><circle cx="92.30" cy="289.40" r="3.5" fill="#000"/><circle cx="105.05" cy="283.20" r="3.5" fill="#000"/><circle cx="117.80" cy="275.70" r="3.5" fill="#000"/><circle cx="130.55" cy="268.40" r="3.5" fill="#000"/><circle cx="143.30" cy="261.10" r="3.5" fill="#000"/><circle cx="156.05" cy="253.60" r="3.5" fill="#000"/><circle cx="168.80" cy="245.90" r="3.5" fill="#000"/><circle cx="181.55" cy="238.00" r="3.5" fill="#000"/><circle cx="194.30" cy="230.20" r="3.5" fill="#000"/><circle cx="207.05" cy="222.30" r="3.5" fill="#000"/><circle cx="219.80" cy="214.50" r="3.5" fill="#000"/><circle cx="232.55" cy="206.70" r="3.5" fill="#000"/><circle cx="245.30" cy="198.40" r="3.5" fill="#000"/><circle cx="258.05" cy="190.60" r="3.5" fill="#000"/><circle cx="270.80" cy="182.00" r="3.5" fill="#000"/>
<polyline points="54.05,274.00 66.80,277.20 79.55,278.70 92.30,279.10 105.05,278.50 117.80,277.20 130.55,275.70 143.30,273.50 156.05,271.50 168.80,269.00 181.55,266.60 194.30,263.90 207.05,261.50 219.80,259.00 232.55,256.80 245.30,254.30 258.05,251.60 270.80,249.20" fill="none" stroke="#9467bd" stroke-width="2.2"/>
<circle cx="54.05" cy="274.00" r="3.5" fill="#9467bd"/><circle cx="66.80" cy="277.20" r="3.5" fill="#9467bd"/><circle cx="79.55" cy="278.70" r="3.5" fill="#9467bd"/><circle cx="92.30" cy="279.10" r="3.5" fill="#9467bd"/><circle cx="105.05" cy="278.50" r="3.5" fill="#9467bd"/><circle cx="117.80" cy="277.20" r="3.5" fill="#9467bd"/><circle cx="130.55" cy="275.70" r="3.5" fill="#9467bd"/><circle cx="143.30" cy="273.50" r="3.5" fill="#9467bd"/><circle cx="156.05" cy="271.50" r="3.5" fill="#9467bd"/><circle cx="168.80" cy="269.00" r="3.5" fill="#9467bd"/><circle cx="181.55" cy="266.60" r="3.5" fill="#9467bd"/><circle cx="194.30" cy="263.90" r="3.5" fill="#9467bd"/><circle cx="207.05" cy="261.50" r="3.5" fill="#9467bd"/><circle cx="219.80" cy="259.00" r="3.5" fill="#9467bd"/><circle cx="232.55" cy="256.80" r="3.5" fill="#9467bd"/><circle cx="245.30" cy="254.30" r="3.5" fill="#9467bd"/><circle cx="258.05" cy="251.60" r="3.5" fill="#9467bd"/><circle cx="270.80" cy="249.20" r="3.5" fill="#9467bd"/>
<line x1="100.40" y1="138.85" x2="100.40" y2="131.55" stroke="#000" stroke-width="1.7"/><line x1="100.40" y1="1.35" x2="100.40" y2="8.65" stroke="#000" stroke-width="1.7"/><line x1="162.90" y1="138.85" x2="162.90" y2="131.55" stroke="#000" stroke-width="1.7"/><line x1="162.90" y1="1.35" x2="162.90" y2="8.65" stroke="#000" stroke-width="1.7"/><line x1="225.40" y1="138.85" x2="225.40" y2="131.55" stroke="#000" stroke-width="1.7"/><line x1="225.40" y1="1.35" x2="225.40" y2="8.65" stroke="#000" stroke-width="1.7"/>
<line x1="50.40" y1="138.85" x2="50.40" y2="134.55" stroke="#000" stroke-width="1.4"/><line x1="50.40" y1="1.35" x2="50.40" y2="5.65" stroke="#000" stroke-width="1.4"/><line x1="62.90" y1="138.85" x2="62.90" y2="134.55" stroke="#000" stroke-width="1.4"/><line x1="62.90" y1="1.35" x2="62.90" y2="5.65" stroke="#000" stroke-width="1.4"/><line x1="75.40" y1="138.85" x2="75.40" y2="134.55" stroke="#000" stroke-width="1.4"/><line x1="75.40" y1="1.35" x2="75.40" y2="5.65" stroke="#000" stroke-width="1.4"/><line x1="87.90" y1="138.85" x2="87.90" y2="134.55" stroke="#000" stroke-width="1.4"/><line x1="87.90" y1="1.35" x2="87.90" y2="5.65" stroke="#000" stroke-width="1.4"/><line x1="112.90" y1="138.85" x2="112.90" y2="134.55" stroke="#000" stroke-width="1.4"/><line x1="112.90" y1="1.35" x2="112.90" y2="5.65" stroke="#000" stroke-width="1.4"/><line x1="125.40" y1="138.85" x2="125.40" y2="134.55" stroke="#000" stroke-width="1.4"/><line x1="125.40" y1="1.35" x2="125.40" y2="5.65" stroke="#000" stroke-width="1.4"/><line x1="137.90" y1="138.85" x2="137.90" y2="134.55" stroke="#000" stroke-width="1.4"/><line x1="137.90" y1="1.35" x2="137.90" y2="5.65" stroke="#000" stroke-width="1.4"/><line x1="150.40" y1="138.85" x2="150.40" y2="134.55" stroke="#000" stroke-width="1.4"/><line x1="150.40" y1="1.35" x2="150.40" y2="5.65" stroke="#000" stroke-width="1.4"/><line x1="175.40" y1="138.85" x2="175.40" y2="134.55" stroke="#000" stroke-width="1.4"/><line x1="175.40" y1="1.35" x2="175.40" y2="5.65" stroke="#000" stroke-width="1.4"/><line x1="187.90" y1="138.85" x2="187.90" y2="134.55" stroke="#000" stroke-width="1.4"/><line x1="187.90" y1="1.35" x2="187.90" y2="5.65" stroke="#000" stroke-width="1.4"/><line x1="200.40" y1="138.85" x2="200.40" y2="134.55" stroke="#000" stroke-width="1.4"/><line x1="200.40" y1="1.35" x2="200.40" y2="5.65" stroke="#000" stroke-width="1.4"/><line x1="212.90" y1="138.85" x2="212.90" y2="134.55" stroke="#000" stroke-width="1.4"/><line x1="212.90" y1="1.35" x2="212.90" y2="5.65" stroke="#000" stroke-width="1.4"/><line x1="237.90" y1="138.85" x2="237.90" y2="134.55" stroke="#000" stroke-width="1.4"/><line x1="237.90" y1="1.35" x2="237.90" y2="5.65" stroke="#000" stroke-width="1.4"/><line x1="250.40" y1="138.85" x2="250.40" y2="134.55" stroke="#000" stroke-width="1.4"/><line x1="250.40" y1="1.35" x2="250.40" y2="5.65" stroke="#000" stroke-width="1.4"/><line x1="262.90" y1="138.85" x2="262.90" y2="134.55" stroke="#000" stroke-width="1.4"/><line x1="262.90" y1="1.35" x2="262.90" y2="5.65" stroke="#000" stroke-width="1.4"/><line x1="275.40" y1="138.85" x2="275.40" y2="134.55" stroke="#000" stroke-width="1.4"/><line x1="275.40" y1="1.35" x2="275.40" y2="5.65" stroke="#000" stroke-width="1.4"/>
<line x1="43.40" y1="132.90" x2="50.70" y2="132.90" stroke="#000" stroke-width="1.7"/><line x1="43.40" y1="97.03" x2="50.70" y2="97.03" stroke="#000" stroke-width="1.7"/><line x1="43.40" y1="61.17" x2="50.70" y2="61.17" stroke="#000" stroke-width="1.7"/><line x1="43.40" y1="25.30" x2="50.70" y2="25.30" stroke="#000" stroke-width="1.7"/>
<line x1="280.50" y1="109.70" x2="273.00" y2="109.70" stroke="#9467bd" stroke-width="1.4"/><line x1="280.50" y1="72.30" x2="273.00" y2="72.30" stroke="#9467bd" stroke-width="1.4"/><line x1="280.50" y1="34.90" x2="273.00" y2="34.90" stroke="#9467bd" stroke-width="1.4"/>
<line x1="280.50" y1="135.84" x2="276.90" y2="135.84" stroke="#000" stroke-width="1.1"/><line x1="280.50" y1="129.26" x2="276.90" y2="129.26" stroke="#000" stroke-width="1.1"/><line x1="280.50" y1="124.58" x2="276.90" y2="124.58" stroke="#000" stroke-width="1.1"/><line x1="280.50" y1="120.96" x2="276.90" y2="120.96" stroke="#000" stroke-width="1.1"/><line x1="280.50" y1="118.00" x2="276.90" y2="118.00" stroke="#000" stroke-width="1.1"/><line x1="280.50" y1="115.49" x2="276.90" y2="115.49" stroke="#000" stroke-width="1.1"/><line x1="280.50" y1="113.32" x2="276.90" y2="113.32" stroke="#000" stroke-width="1.1"/><line x1="280.50" y1="111.41" x2="276.90" y2="111.41" stroke="#000" stroke-width="1.1"/><line x1="280.50" y1="98.44" x2="276.90" y2="98.44" stroke="#000" stroke-width="1.1"/><line x1="280.50" y1="91.86" x2="276.90" y2="91.86" stroke="#000" stroke-width="1.1"/><line x1="280.50" y1="87.18" x2="276.90" y2="87.18" stroke="#000" stroke-width="1.1"/><line x1="280.50" y1="83.56" x2="276.90" y2="83.56" stroke="#000" stroke-width="1.1"/><line x1="280.50" y1="80.60" x2="276.90" y2="80.60" stroke="#000" stroke-width="1.1"/><line x1="280.50" y1="78.09" x2="276.90" y2="78.09" stroke="#000" stroke-width="1.1"/><line x1="280.50" y1="75.92" x2="276.90" y2="75.92" stroke="#000" stroke-width="1.1"/><line x1="280.50" y1="74.01" x2="276.90" y2="74.01" stroke="#000" stroke-width="1.1"/><line x1="280.50" y1="61.04" x2="276.90" y2="61.04" stroke="#000" stroke-width="1.1"/><line x1="280.50" y1="54.46" x2="276.90" y2="54.46" stroke="#000" stroke-width="1.1"/><line x1="280.50" y1="49.78" x2="276.90" y2="49.78" stroke="#000" stroke-width="1.1"/><line x1="280.50" y1="46.16" x2="276.90" y2="46.16" stroke="#000" stroke-width="1.1"/><line x1="280.50" y1="43.20" x2="276.90" y2="43.20" stroke="#000" stroke-width="1.1"/><line x1="280.50" y1="40.69" x2="276.90" y2="40.69" stroke="#000" stroke-width="1.1"/><line x1="280.50" y1="38.52" x2="276.90" y2="38.52" stroke="#000" stroke-width="1.1"/><line x1="280.50" y1="36.61" x2="276.90" y2="36.61" stroke="#000" stroke-width="1.1"/><line x1="280.50" y1="23.64" x2="276.90" y2="23.64" stroke="#000" stroke-width="1.1"/><line x1="280.50" y1="17.06" x2="276.90" y2="17.06" stroke="#000" stroke-width="1.1"/><line x1="280.50" y1="12.38" x2="276.90" y2="12.38" stroke="#000" stroke-width="1.1"/><line x1="280.50" y1="8.76" x2="276.90" y2="8.76" stroke="#000" stroke-width="1.1"/><line x1="280.50" y1="5.80" x2="276.90" y2="5.80" stroke="#000" stroke-width="1.1"/><line x1="280.50" y1="3.29" x2="276.90" y2="3.29" stroke="#000" stroke-width="1.1"/>
<line x1="49.80" y1="313.30" x2="49.80" y2="306.00" stroke="#000" stroke-width="1.7"/><line x1="49.80" y1="175.50" x2="49.80" y2="182.80" stroke="#000" stroke-width="1.7"/><line x1="134.80" y1="313.30" x2="134.80" y2="306.00" stroke="#000" stroke-width="1.7"/><line x1="134.80" y1="175.50" x2="134.80" y2="182.80" stroke="#000" stroke-width="1.7"/><line x1="219.80" y1="313.30" x2="219.80" y2="306.00" stroke="#000" stroke-width="1.7"/><line x1="219.80" y1="175.50" x2="219.80" y2="182.80" stroke="#000" stroke-width="1.7"/>
<line x1="66.80" y1="313.30" x2="66.80" y2="309.00" stroke="#000" stroke-width="1.4"/><line x1="66.80" y1="175.50" x2="66.80" y2="179.80" stroke="#000" stroke-width="1.4"/><line x1="83.80" y1="313.30" x2="83.80" y2="309.00" stroke="#000" stroke-width="1.4"/><line x1="83.80" y1="175.50" x2="83.80" y2="179.80" stroke="#000" stroke-width="1.4"/><line x1="100.80" y1="313.30" x2="100.80" y2="309.00" stroke="#000" stroke-width="1.4"/><line x1="100.80" y1="175.50" x2="100.80" y2="179.80" stroke="#000" stroke-width="1.4"/><line x1="117.80" y1="313.30" x2="117.80" y2="309.00" stroke="#000" stroke-width="1.4"/><line x1="117.80" y1="175.50" x2="117.80" y2="179.80" stroke="#000" stroke-width="1.4"/><line x1="151.80" y1="313.30" x2="151.80" y2="309.00" stroke="#000" stroke-width="1.4"/><line x1="151.80" y1="175.50" x2="151.80" y2="179.80" stroke="#000" stroke-width="1.4"/><line x1="168.80" y1="313.30" x2="168.80" y2="309.00" stroke="#000" stroke-width="1.4"/><line x1="168.80" y1="175.50" x2="168.80" y2="179.80" stroke="#000" stroke-width="1.4"/><line x1="185.80" y1="313.30" x2="185.80" y2="309.00" stroke="#000" stroke-width="1.4"/><line x1="185.80" y1="175.50" x2="185.80" y2="179.80" stroke="#000" stroke-width="1.4"/><line x1="202.80" y1="313.30" x2="202.80" y2="309.00" stroke="#000" stroke-width="1.4"/><line x1="202.80" y1="175.50" x2="202.80" y2="179.80" stroke="#000" stroke-width="1.4"/><line x1="236.80" y1="313.30" x2="236.80" y2="309.00" stroke="#000" stroke-width="1.4"/><line x1="236.80" y1="175.50" x2="236.80" y2="179.80" stroke="#000" stroke-width="1.4"/><line x1="253.80" y1="313.30" x2="253.80" y2="309.00" stroke="#000" stroke-width="1.4"/><line x1="253.80" y1="175.50" x2="253.80" y2="179.80" stroke="#000" stroke-width="1.4"/><line x1="270.80" y1="313.30" x2="270.80" y2="309.00" stroke="#000" stroke-width="1.4"/><line x1="270.80" y1="175.50" x2="270.80" y2="179.80" stroke="#000" stroke-width="1.4"/>
<line x1="43.40" y1="294.10" x2="50.70" y2="294.10" stroke="#000" stroke-width="1.7"/><line x1="43.40" y1="271.08" x2="50.70" y2="271.08" stroke="#000" stroke-width="1.7"/><line x1="43.40" y1="248.06" x2="50.70" y2="248.06" stroke="#000" stroke-width="1.7"/><line x1="43.40" y1="225.04" x2="50.70" y2="225.04" stroke="#000" stroke-width="1.7"/><line x1="43.40" y1="202.02" x2="50.70" y2="202.02" stroke="#000" stroke-width="1.7"/><line x1="43.40" y1="179.00" x2="50.70" y2="179.00" stroke="#000" stroke-width="1.7"/>
<line x1="280.60" y1="283.90" x2="273.10" y2="283.90" stroke="#9467bd" stroke-width="1.4"/><line x1="280.60" y1="246.55" x2="273.10" y2="246.55" stroke="#9467bd" stroke-width="1.4"/><line x1="280.60" y1="209.20" x2="273.10" y2="209.20" stroke="#9467bd" stroke-width="1.4"/>
<line x1="280.60" y1="310.01" x2="277.00" y2="310.01" stroke="#000" stroke-width="1.1"/><line x1="280.60" y1="303.43" x2="277.00" y2="303.43" stroke="#000" stroke-width="1.1"/><line x1="280.60" y1="298.76" x2="277.00" y2="298.76" stroke="#000" stroke-width="1.1"/><line x1="280.60" y1="295.14" x2="277.00" y2="295.14" stroke="#000" stroke-width="1.1"/><line x1="280.60" y1="292.19" x2="277.00" y2="292.19" stroke="#000" stroke-width="1.1"/><line x1="280.60" y1="289.69" x2="277.00" y2="289.69" stroke="#000" stroke-width="1.1"/><line x1="280.60" y1="287.52" x2="277.00" y2="287.52" stroke="#000" stroke-width="1.1"/><line x1="280.60" y1="285.61" x2="277.00" y2="285.61" stroke="#000" stroke-width="1.1"/><line x1="280.60" y1="272.66" x2="277.00" y2="272.66" stroke="#000" stroke-width="1.1"/><line x1="280.60" y1="266.08" x2="277.00" y2="266.08" stroke="#000" stroke-width="1.1"/><line x1="280.60" y1="261.41" x2="277.00" y2="261.41" stroke="#000" stroke-width="1.1"/><line x1="280.60" y1="257.79" x2="277.00" y2="257.79" stroke="#000" stroke-width="1.1"/><line x1="280.60" y1="254.84" x2="277.00" y2="254.84" stroke="#000" stroke-width="1.1"/><line x1="280.60" y1="252.34" x2="277.00" y2="252.34" stroke="#000" stroke-width="1.1"/><line x1="280.60" y1="250.17" x2="277.00" y2="250.17" stroke="#000" stroke-width="1.1"/><line x1="280.60" y1="248.26" x2="277.00" y2="248.26" stroke="#000" stroke-width="1.1"/><line x1="280.60" y1="235.31" x2="277.00" y2="235.31" stroke="#000" stroke-width="1.1"/><line x1="280.60" y1="228.73" x2="277.00" y2="228.73" stroke="#000" stroke-width="1.1"/><line x1="280.60" y1="224.06" x2="277.00" y2="224.06" stroke="#000" stroke-width="1.1"/><line x1="280.60" y1="220.44" x2="277.00" y2="220.44" stroke="#000" stroke-width="1.1"/><line x1="280.60" y1="217.49" x2="277.00" y2="217.49" stroke="#000" stroke-width="1.1"/><line x1="280.60" y1="214.99" x2="277.00" y2="214.99" stroke="#000" stroke-width="1.1"/><line x1="280.60" y1="212.82" x2="277.00" y2="212.82" stroke="#000" stroke-width="1.1"/><line x1="280.60" y1="210.91" x2="277.00" y2="210.91" stroke="#000" stroke-width="1.1"/><line x1="280.60" y1="197.96" x2="277.00" y2="197.96" stroke="#000" stroke-width="1.1"/><line x1="280.60" y1="191.38" x2="277.00" y2="191.38" stroke="#000" stroke-width="1.1"/><line x1="280.60" y1="186.71" x2="277.00" y2="186.71" stroke="#000" stroke-width="1.1"/><line x1="280.60" y1="183.09" x2="277.00" y2="183.09" stroke="#000" stroke-width="1.1"/><line x1="280.60" y1="180.14" x2="277.00" y2="180.14" stroke="#000" stroke-width="1.1"/><line x1="280.60" y1="177.64" x2="277.00" y2="177.64" stroke="#000" stroke-width="1.1"/>
<line x1="380.70" y1="138.80" x2="380.70" y2="131.50" stroke="#000" stroke-width="1.7"/><line x1="380.70" y1="1.35" x2="380.70" y2="8.65" stroke="#000" stroke-width="1.7"/><line x1="437.45" y1="138.80" x2="437.45" y2="131.50" stroke="#000" stroke-width="1.7"/><line x1="437.45" y1="1.35" x2="437.45" y2="8.65" stroke="#000" stroke-width="1.7"/><line x1="494.20" y1="138.80" x2="494.20" y2="131.50" stroke="#000" stroke-width="1.7"/><line x1="494.20" y1="1.35" x2="494.20" y2="8.65" stroke="#000" stroke-width="1.7"/><line x1="550.95" y1="138.80" x2="550.95" y2="131.50" stroke="#000" stroke-width="1.7"/><line x1="550.95" y1="1.35" x2="550.95" y2="8.65" stroke="#000" stroke-width="1.7"/>
<line x1="380.70" y1="110.80" x2="388.00" y2="110.80" stroke="#000" stroke-width="1.7"/><line x1="380.70" y1="70.40" x2="388.00" y2="70.40" stroke="#000" stroke-width="1.7"/><line x1="380.70" y1="30.00" x2="388.00" y2="30.00" stroke="#000" stroke-width="1.7"/>
<line x1="607.60" y1="110.80" x2="600.30" y2="110.80" stroke="#000" stroke-width="1.7"/><line x1="607.60" y1="70.40" x2="600.30" y2="70.40" stroke="#000" stroke-width="1.7"/><line x1="607.60" y1="30.00" x2="600.30" y2="30.00" stroke="#000" stroke-width="1.7"/>
<line x1="380.70" y1="313.20" x2="380.70" y2="305.90" stroke="#000" stroke-width="1.7"/><line x1="380.70" y1="175.50" x2="380.70" y2="182.80" stroke="#000" stroke-width="1.7"/><line x1="418.53" y1="313.20" x2="418.53" y2="305.90" stroke="#000" stroke-width="1.7"/><line x1="418.53" y1="175.50" x2="418.53" y2="182.80" stroke="#000" stroke-width="1.7"/><line x1="456.37" y1="313.20" x2="456.37" y2="305.90" stroke="#000" stroke-width="1.7"/><line x1="456.37" y1="175.50" x2="456.37" y2="182.80" stroke="#000" stroke-width="1.7"/><line x1="494.20" y1="313.20" x2="494.20" y2="305.90" stroke="#000" stroke-width="1.7"/><line x1="494.20" y1="175.50" x2="494.20" y2="182.80" stroke="#000" stroke-width="1.7"/><line x1="532.04" y1="313.20" x2="532.04" y2="305.90" stroke="#000" stroke-width="1.7"/><line x1="532.04" y1="175.50" x2="532.04" y2="182.80" stroke="#000" stroke-width="1.7"/><line x1="569.88" y1="313.20" x2="569.88" y2="305.90" stroke="#000" stroke-width="1.7"/><line x1="569.88" y1="175.50" x2="569.88" y2="182.80" stroke="#000" stroke-width="1.7"/>
<line x1="380.70" y1="289.70" x2="388.00" y2="289.70" stroke="#000" stroke-width="1.7"/><line x1="380.70" y1="263.87" x2="388.00" y2="263.87" stroke="#000" stroke-width="1.7"/><line x1="380.70" y1="238.03" x2="388.00" y2="238.03" stroke="#000" stroke-width="1.7"/><line x1="380.70" y1="212.20" x2="388.00" y2="212.20" stroke="#000" stroke-width="1.7"/><line x1="380.70" y1="186.36" x2="388.00" y2="186.36" stroke="#000" stroke-width="1.7"/>
<line x1="607.60" y1="289.70" x2="600.30" y2="289.70" stroke="#000" stroke-width="1.7"/><line x1="607.60" y1="263.87" x2="600.30" y2="263.87" stroke="#000" stroke-width="1.7"/><line x1="607.60" y1="238.03" x2="600.30" y2="238.03" stroke="#000" stroke-width="1.7"/><line x1="607.60" y1="212.20" x2="600.30" y2="212.20" stroke="#000" stroke-width="1.7"/><line x1="607.60" y1="186.36" x2="600.30" y2="186.36" stroke="#000" stroke-width="1.7"/>
<path d="M280.50,1.35 H43.40 V138.85 H280.50" fill="none" stroke="#000" stroke-width="1.4" stroke-linecap="square"/><line x1="280.50" y1="0.65" x2="280.50" y2="139.55" stroke="#9467bd" stroke-width="1.4"/>
<path d="M280.60,175.50 H43.40 V313.30 H280.60" fill="none" stroke="#000" stroke-width="1.4" stroke-linecap="square"/><line x1="280.60" y1="174.80" x2="280.60" y2="314.00" stroke="#9467bd" stroke-width="1.4"/>
<path d="M607.60,1.35 H380.70 V138.80 H607.60" fill="none" stroke="#000" stroke-width="1.4" stroke-linecap="square"/><line x1="607.60" y1="0.65" x2="607.60" y2="139.50" stroke="#000" stroke-width="1.4"/>
<path d="M607.60,175.50 H380.70 V313.20 H607.60" fill="none" stroke="#000" stroke-width="1.4" stroke-linecap="square"/><line x1="607.60" y1="174.80" x2="607.60" y2="313.90" stroke="#000" stroke-width="1.4"/>
<rect x="612.2" y="7.4" width="6.30" height="125.00" fill="url(#cbb)"/><path d="M612.2,8.9 L612.2,7.4 L615.35,0.9 L618.5,7.4 L618.5,8.9 Z" fill="#3387bc"/><path d="M612.2,130.9 L612.2,132.4 L615.35,139.8 L618.5,132.4 L618.5,130.9 Z" fill="#9e0142"/><path d="M612.2,7.4 L615.35,0.9 L618.5,7.4 V132.4 L615.35,139.8 L612.2,132.4 Z" fill="none" stroke="#000" stroke-width="1.4" stroke-linejoin="miter"/><line x1="618.50" y1="7.40" x2="623.10" y2="7.40" stroke="#000" stroke-width="1.7"/><line x1="618.50" y1="21.29" x2="623.10" y2="21.29" stroke="#000" stroke-width="1.7"/><line x1="618.50" y1="35.18" x2="623.10" y2="35.18" stroke="#000" stroke-width="1.7"/><line x1="618.50" y1="49.07" x2="623.10" y2="49.07" stroke="#000" stroke-width="1.7"/><line x1="618.50" y1="62.96" x2="623.10" y2="62.96" stroke="#000" stroke-width="1.7"/><line x1="618.50" y1="76.84" x2="623.10" y2="76.84" stroke="#000" stroke-width="1.7"/><line x1="618.50" y1="90.73" x2="623.10" y2="90.73" stroke="#000" stroke-width="1.7"/><line x1="618.50" y1="104.62" x2="623.10" y2="104.62" stroke="#000" stroke-width="1.7"/><line x1="618.50" y1="118.51" x2="623.10" y2="118.51" stroke="#000" stroke-width="1.7"/><line x1="618.50" y1="132.40" x2="623.10" y2="132.40" stroke="#000" stroke-width="1.7"/>
<rect x="612.2" y="181.70000000000002" width="6.30" height="125.00" fill="url(#cbd)"/><path d="M612.2,183.20000000000002 L612.2,181.70000000000002 L615.35,175.20000000000002 L618.5,181.70000000000002 L618.5,183.20000000000002 Z" fill="#3387bc"/><path d="M612.2,305.20000000000005 L612.2,306.70000000000005 L615.35,314.1 L618.5,306.70000000000005 L618.5,305.20000000000005 Z" fill="#9e0142"/><path d="M612.2,181.70000000000002 L615.35,175.20000000000002 L618.5,181.70000000000002 V306.70000000000005 L615.35,314.1 L612.2,306.70000000000005 Z" fill="none" stroke="#000" stroke-width="1.4" stroke-linejoin="miter"/><line x1="618.50" y1="181.70" x2="623.10" y2="181.70" stroke="#000" stroke-width="1.7"/><line x1="618.50" y1="195.59" x2="623.10" y2="195.59" stroke="#000" stroke-width="1.7"/><line x1="618.50" y1="209.48" x2="623.10" y2="209.48" stroke="#000" stroke-width="1.7"/><line x1="618.50" y1="223.37" x2="623.10" y2="223.37" stroke="#000" stroke-width="1.7"/><line x1="618.50" y1="237.26" x2="623.10" y2="237.26" stroke="#000" stroke-width="1.7"/><line x1="618.50" y1="251.14" x2="623.10" y2="251.14" stroke="#000" stroke-width="1.7"/><line x1="618.50" y1="265.03" x2="623.10" y2="265.03" stroke="#000" stroke-width="1.7"/><line x1="618.50" y1="278.92" x2="623.10" y2="278.92" stroke="#000" stroke-width="1.7"/><line x1="618.50" y1="292.81" x2="623.10" y2="292.81" stroke="#000" stroke-width="1.7"/><line x1="618.50" y1="306.70" x2="623.10" y2="306.70" stroke="#000" stroke-width="1.7"/>
<rect x="43.50" y="1.10" width="15.90" height="19.50" fill="#fff" stroke="#000" stroke-width="1.4"/>
<text x="51.45" y="14.90" font-size="14.7" text-anchor="middle" font-weight="bold" textLength="9.45" lengthAdjust="spacingAndGlyphs">a</text>
<rect x="97.60" y="11.80" width="70.40" height="19.00" fill="#fff" stroke="#000" stroke-width="1.4"/>
<text x="100.30" y="25.50" font-size="15.02" textLength="65.03" lengthAdjust="spacingAndGlyphs">skyrmion</text>
<text x="38.80" y="137.20" font-size="12.39" text-anchor="end" textLength="15.02" lengthAdjust="spacingAndGlyphs">50</text>
<text x="38.80" y="101.33" font-size="12.39" text-anchor="end" textLength="22.52" lengthAdjust="spacingAndGlyphs">100</text>
<text x="38.80" y="65.47" font-size="12.39" text-anchor="end" textLength="22.52" lengthAdjust="spacingAndGlyphs">150</text>
<text x="38.80" y="29.60" font-size="12.39" text-anchor="end" textLength="22.52" lengthAdjust="spacingAndGlyphs">200</text>
<text x="100.40" y="152.70" font-size="12.39" text-anchor="middle" textLength="7.51" lengthAdjust="spacingAndGlyphs">0</text>
<text x="162.90" y="152.70" font-size="12.39" text-anchor="middle" textLength="7.51" lengthAdjust="spacingAndGlyphs">1</text>
<text x="225.40" y="152.70" font-size="12.39" text-anchor="middle" textLength="7.51" lengthAdjust="spacingAndGlyphs">2</text>
<text x="9.40" y="70.45" font-size="11.97" text-anchor="middle" textLength="120.05" lengthAdjust="spacingAndGlyphs" transform="rotate(-90 9.4 70.45)">energy barrier (meV)</text>
<text x="135.60" y="168.80" font-size="11.97" font-style="italic" textLength="7.48" lengthAdjust="spacingAndGlyphs">K</text><text x="142.48" y="171.08" font-size="8.38" textLength="5.08" lengthAdjust="spacingAndGlyphs">1</text><text x="151.18" y="168.80" font-size="11.97" textLength="34.81" lengthAdjust="spacingAndGlyphs">(meV)</text>
<text x="202.10" y="110.00" font-size="11.97" font-style="italic" textLength="7.48" lengthAdjust="spacingAndGlyphs">K</text><text x="209.98" y="113.53" font-size="8.38" textLength="5.08" lengthAdjust="spacingAndGlyphs">1</text><text x="210.58" y="106.24" font-size="8.38" textLength="15.47" lengthAdjust="spacingAndGlyphs">DFT</text>
<text x="284.60" y="39.20" font-size="12.39" fill="#9467bd" textLength="15.02" lengthAdjust="spacingAndGlyphs">10</text><text x="299.22" y="34.83" font-size="8.67" fill="#9467bd" textLength="10.51" lengthAdjust="spacingAndGlyphs">13</text>
<text x="284.60" y="76.60" font-size="12.39" fill="#9467bd" textLength="15.02" lengthAdjust="spacingAndGlyphs">10</text><text x="299.22" y="72.23" font-size="8.67" fill="#9467bd" textLength="10.51" lengthAdjust="spacingAndGlyphs">12</text>
<text x="284.60" y="114.00" font-size="12.39" fill="#9467bd" textLength="15.02" lengthAdjust="spacingAndGlyphs">10</text><text x="299.22" y="109.63" font-size="8.67" fill="#9467bd" textLength="10.51" lengthAdjust="spacingAndGlyphs">11</text>
<g transform="translate(321.6 106.8) rotate(-90)" fill="#9467bd"><text x="0.00" y="0.00" font-size="11.97" font-style="italic" textLength="6.37" lengthAdjust="spacingAndGlyphs">ν</text><text x="6.07" y="2.28" font-size="8.38" textLength="5.08" lengthAdjust="spacingAndGlyphs">0</text><text x="11.45" y="0.00" font-size="11.97" textLength="3.84" lengthAdjust="spacingAndGlyphs">/</text><text x="15.29" y="0.00" font-size="11.97" font-style="italic" textLength="6.96" lengthAdjust="spacingAndGlyphs">T</text><text x="25.15" y="0.00" font-size="11.97" textLength="10.39" lengthAdjust="spacingAndGlyphs">(s</text><text x="35.74" y="-4.22" font-size="8.38" textLength="11.76" lengthAdjust="spacingAndGlyphs">−1</text><text x="48.59" y="0.00" font-size="11.97" textLength="7.48" lengthAdjust="spacingAndGlyphs">K</text><text x="56.26" y="-4.22" font-size="8.38" textLength="11.76" lengthAdjust="spacingAndGlyphs">−1</text><text x="68.23" y="0.00" font-size="11.97" textLength="4.45" lengthAdjust="spacingAndGlyphs">)</text></g>
<rect x="43.50" y="175.50" width="14.70" height="19.90" fill="#fff" stroke="#000" stroke-width="1.4"/>
<text x="50.85" y="189.40" font-size="14.7" text-anchor="middle" font-weight="bold" textLength="8.30" lengthAdjust="spacingAndGlyphs">c</text>
<rect x="89.00" y="188.10" width="98.30" height="20.30" fill="#fff" stroke="#000" stroke-width="1.4"/>
<text x="92.10" y="202.00" font-size="15.02" textLength="92.43" lengthAdjust="spacingAndGlyphs">antiskyrmion</text>
<text x="38.60" y="298.40" font-size="12.39" text-anchor="end" textLength="15.02" lengthAdjust="spacingAndGlyphs">20</text>
<text x="38.60" y="275.38" font-size="12.39" text-anchor="end" textLength="15.02" lengthAdjust="spacingAndGlyphs">40</text>
<text x="38.60" y="252.36" font-size="12.39" text-anchor="end" textLength="15.02" lengthAdjust="spacingAndGlyphs">60</text>
<text x="38.60" y="229.34" font-size="12.39" text-anchor="end" textLength="15.02" lengthAdjust="spacingAndGlyphs">80</text>
<text x="38.60" y="206.32" font-size="12.39" text-anchor="end" textLength="22.52" lengthAdjust="spacingAndGlyphs">100</text>
<text x="38.60" y="183.30" font-size="12.39" text-anchor="end" textLength="22.52" lengthAdjust="spacingAndGlyphs">120</text>
<text x="49.80" y="327.00" font-size="12.39" text-anchor="middle" textLength="7.51" lengthAdjust="spacingAndGlyphs">0</text>
<text x="134.80" y="327.00" font-size="12.39" text-anchor="middle" textLength="7.51" lengthAdjust="spacingAndGlyphs">1</text>
<text x="219.80" y="327.00" font-size="12.39" text-anchor="middle" textLength="7.51" lengthAdjust="spacingAndGlyphs">2</text>
<text x="9.40" y="244.35" font-size="11.97" text-anchor="middle" textLength="120.05" lengthAdjust="spacingAndGlyphs" transform="rotate(-90 9.4 244.35)">energy barrier (meV)</text>
<text x="135.30" y="343.60" font-size="11.97" font-style="italic" textLength="7.48" lengthAdjust="spacingAndGlyphs">K</text><text x="142.18" y="345.88" font-size="8.38" textLength="5.08" lengthAdjust="spacingAndGlyphs">1</text><text x="150.88" y="343.60" font-size="11.97" textLength="34.81" lengthAdjust="spacingAndGlyphs">(meV)</text>
<text x="202.10" y="284.60" font-size="11.97" font-style="italic" textLength="7.48" lengthAdjust="spacingAndGlyphs">K</text><text x="209.98" y="288.13" font-size="8.38" textLength="5.08" lengthAdjust="spacingAndGlyphs">1</text><text x="210.58" y="280.84" font-size="8.38" textLength="15.47" lengthAdjust="spacingAndGlyphs">DFT</text>
<text x="284.80" y="213.50" font-size="12.39" fill="#9467bd" textLength="15.02" lengthAdjust="spacingAndGlyphs">10</text><text x="299.42" y="209.13" font-size="8.67" fill="#9467bd" textLength="10.51" lengthAdjust="spacingAndGlyphs">13</text>
<text x="284.80" y="250.55" font-size="12.39" fill="#9467bd" textLength="15.02" lengthAdjust="spacingAndGlyphs">10</text><text x="299.42" y="246.18" font-size="8.67" fill="#9467bd" textLength="10.51" lengthAdjust="spacingAndGlyphs">12</text>
<text x="284.80" y="288.20" font-size="12.39" fill="#9467bd" textLength="15.02" lengthAdjust="spacingAndGlyphs">10</text><text x="299.42" y="283.83" font-size="8.67" fill="#9467bd" textLength="10.51" lengthAdjust="spacingAndGlyphs">11</text>
<g transform="translate(321.6 281.1) rotate(-90)" fill="#9467bd"><text x="0.00" y="0.00" font-size="11.97" font-style="italic" textLength="6.37" lengthAdjust="spacingAndGlyphs">ν</text><text x="6.07" y="2.28" font-size="8.38" textLength="5.08" lengthAdjust="spacingAndGlyphs">0</text><text x="11.45" y="0.00" font-size="11.97" textLength="3.84" lengthAdjust="spacingAndGlyphs">/</text><text x="15.29" y="0.00" font-size="11.97" font-style="italic" textLength="6.96" lengthAdjust="spacingAndGlyphs">T</text><text x="25.15" y="0.00" font-size="11.97" textLength="10.39" lengthAdjust="spacingAndGlyphs">(s</text><text x="35.74" y="-4.22" font-size="8.38" textLength="11.76" lengthAdjust="spacingAndGlyphs">−1</text><text x="48.59" y="0.00" font-size="11.97" textLength="7.48" lengthAdjust="spacingAndGlyphs">K</text><text x="56.26" y="-4.22" font-size="8.38" textLength="11.76" lengthAdjust="spacingAndGlyphs">−1</text><text x="68.23" y="0.00" font-size="11.97" textLength="4.45" lengthAdjust="spacingAndGlyphs">)</text></g>
<rect x="380.80" y="1.10" width="17.00" height="19.50" fill="#fff" stroke="#000" stroke-width="1.4"/>
<text x="389.50" y="14.60" font-size="14.7" text-anchor="middle" font-weight="bold" textLength="10.02" lengthAdjust="spacingAndGlyphs">b</text>
<rect x="446.40" y="6.40" width="69.60" height="18.20" fill="#fff" stroke="#000" stroke-width="1.4"/>
<text x="448.90" y="19.70" font-size="15.02" textLength="65.03" lengthAdjust="spacingAndGlyphs">skyrmion</text>
<text x="376.20" y="115.10" font-size="12.39" text-anchor="end" textLength="7.51" lengthAdjust="spacingAndGlyphs">0</text>
<text x="376.20" y="74.70" font-size="12.39" text-anchor="end" textLength="7.51" lengthAdjust="spacingAndGlyphs">1</text>
<text x="376.20" y="34.30" font-size="12.39" text-anchor="end" textLength="7.51" lengthAdjust="spacingAndGlyphs">2</text>
<text x="380.70" y="152.70" font-size="12.39" text-anchor="middle" textLength="15.02" lengthAdjust="spacingAndGlyphs">10</text>
<text x="437.45" y="152.70" font-size="12.39" text-anchor="middle" textLength="15.02" lengthAdjust="spacingAndGlyphs">20</text>
<text x="494.20" y="152.70" font-size="12.39" text-anchor="middle" textLength="15.02" lengthAdjust="spacingAndGlyphs">30</text>
<text x="550.95" y="152.70" font-size="12.39" text-anchor="middle" textLength="15.02" lengthAdjust="spacingAndGlyphs">40</text>
<g transform="translate(360.0 96.09) rotate(-90)"><text x="0.00" y="0.00" font-size="11.97" font-style="italic" textLength="7.48" lengthAdjust="spacingAndGlyphs">K</text><text x="6.88" y="2.28" font-size="8.38" textLength="5.08" lengthAdjust="spacingAndGlyphs">1</text><text x="15.58" y="0.00" font-size="11.97" textLength="34.81" lengthAdjust="spacingAndGlyphs">(meV)</text></g>
<text x="443.08" y="169.40" font-size="11.97" textLength="71.66" lengthAdjust="spacingAndGlyphs">temperature</text><text x="518.36" y="169.40" font-size="11.97" font-style="italic" textLength="6.96" lengthAdjust="spacingAndGlyphs">T</text><text x="528.95" y="169.40" font-size="11.97" textLength="16.37" lengthAdjust="spacingAndGlyphs">(K)</text>
<text x="414.60" y="41.20" font-size="11.97" font-style="italic" textLength="7.48" lengthAdjust="spacingAndGlyphs">K</text><text x="422.48" y="44.73" font-size="8.38" textLength="5.08" lengthAdjust="spacingAndGlyphs">1</text><text x="423.08" y="37.44" font-size="8.38" textLength="15.47" lengthAdjust="spacingAndGlyphs">DFT</text>
<line x1="549.70" y1="70.30" x2="569.30" y2="74.00" stroke="#000" stroke-width="1.0"/>
<rect x="569.30" y="65.20" width="27.40" height="20.30" fill="#fff" stroke="#5a2a1a" stroke-width="1.4" fill-opacity="0.75"/>
<text x="574.10" y="78.70" font-size="12.39" textLength="18.74" lengthAdjust="spacingAndGlyphs">1 h</text>
<line x1="493.10" y1="90.40" x2="512.30" y2="93.50" stroke="#000" stroke-width="1.0"/>
<rect x="512.30" y="85.30" width="50.20" height="20.30" fill="#fff" stroke="#5a2a1a" stroke-width="1.4" fill-opacity="0.75"/>
<text x="516.50" y="99.00" font-size="12.39" textLength="42.26" lengthAdjust="spacingAndGlyphs">1 week</text>
<rect x="380.80" y="175.50" width="17.40" height="20.10" fill="#fff" stroke="#000" stroke-width="1.4"/>
<text x="389.50" y="189.30" font-size="14.7" text-anchor="middle" font-weight="bold" textLength="10.02" lengthAdjust="spacingAndGlyphs">d</text>
<rect x="431.40" y="187.20" width="96.50" height="18.40" fill="#fff" stroke="#000" stroke-width="1.4"/>
<text x="433.50" y="200.10" font-size="15.02" textLength="92.43" lengthAdjust="spacingAndGlyphs">antiskyrmion</text>
<text x="376.60" y="294.00" font-size="12.39" text-anchor="end" textLength="18.77" lengthAdjust="spacingAndGlyphs">0.5</text>
<text x="376.60" y="268.17" font-size="12.39" text-anchor="end" textLength="18.77" lengthAdjust="spacingAndGlyphs">1.0</text>
<text x="376.60" y="242.34" font-size="12.39" text-anchor="end" textLength="18.77" lengthAdjust="spacingAndGlyphs">1.5</text>
<text x="376.60" y="216.50" font-size="12.39" text-anchor="end" textLength="18.77" lengthAdjust="spacingAndGlyphs">2.0</text>
<text x="376.60" y="190.66" font-size="12.39" text-anchor="end" textLength="18.77" lengthAdjust="spacingAndGlyphs">2.5</text>
<text x="380.70" y="327.00" font-size="12.39" text-anchor="middle" textLength="7.51" lengthAdjust="spacingAndGlyphs">5</text>
<text x="418.53" y="327.00" font-size="12.39" text-anchor="middle" textLength="15.02" lengthAdjust="spacingAndGlyphs">10</text>
<text x="456.37" y="327.00" font-size="12.39" text-anchor="middle" textLength="15.02" lengthAdjust="spacingAndGlyphs">15</text>
<text x="494.20" y="327.00" font-size="12.39" text-anchor="middle" textLength="15.02" lengthAdjust="spacingAndGlyphs">20</text>
<text x="532.04" y="327.00" font-size="12.39" text-anchor="middle" textLength="15.02" lengthAdjust="spacingAndGlyphs">25</text>
<text x="569.88" y="327.00" font-size="12.39" text-anchor="middle" textLength="15.02" lengthAdjust="spacingAndGlyphs">30</text>
<g transform="translate(353.8 271.19) rotate(-90)"><text x="0.00" y="0.00" font-size="11.97" font-style="italic" textLength="7.48" lengthAdjust="spacingAndGlyphs">K</text><text x="6.88" y="2.28" font-size="8.38" textLength="5.08" lengthAdjust="spacingAndGlyphs">1</text><text x="15.58" y="0.00" font-size="11.97" textLength="34.81" lengthAdjust="spacingAndGlyphs">(meV)</text></g>
<text x="443.08" y="343.50" font-size="11.97" textLength="71.66" lengthAdjust="spacingAndGlyphs">temperature</text><text x="518.36" y="343.50" font-size="11.97" font-style="italic" textLength="6.96" lengthAdjust="spacingAndGlyphs">T</text><text x="528.95" y="343.50" font-size="11.97" textLength="16.37" lengthAdjust="spacingAndGlyphs">(K)</text>
<text x="414.60" y="222.30" font-size="11.97" font-style="italic" textLength="7.48" lengthAdjust="spacingAndGlyphs">K</text><text x="422.48" y="225.83" font-size="8.38" textLength="5.08" lengthAdjust="spacingAndGlyphs">1</text><text x="423.08" y="218.54" font-size="8.38" textLength="15.47" lengthAdjust="spacingAndGlyphs">DFT</text>
<line x1="509.40" y1="232.80" x2="531.50" y2="237.50" stroke="#000" stroke-width="1.0"/>
<rect x="531.50" y="230.20" width="27.40" height="19.90" fill="#fff" stroke="#5a2a1a" stroke-width="1.4" fill-opacity="0.75"/>
<text x="536.20" y="242.90" font-size="12.39" textLength="18.74" lengthAdjust="spacingAndGlyphs">1 h</text>
<line x1="438.10" y1="263.50" x2="459.30" y2="267.50" stroke="#000" stroke-width="1.0"/>
<rect x="459.30" y="261.50" width="50.20" height="19.60" fill="#fff" stroke="#5a2a1a" stroke-width="1.4" fill-opacity="0.75"/>
<text x="463.80" y="274.60" font-size="12.39" textLength="42.26" lengthAdjust="spacingAndGlyphs">1 week</text>
<text x="630.00" y="12.00" font-size="12.39" textLength="9.89" lengthAdjust="spacingAndGlyphs">&gt;</text><text x="641.80" y="12.00" font-size="12.39" textLength="15.02" lengthAdjust="spacingAndGlyphs">10</text><text x="657.12" y="7.63" font-size="8.67" textLength="10.51" lengthAdjust="spacingAndGlyphs">35</text>
<text x="628.00" y="25.89" font-size="12.39" textLength="15.02" lengthAdjust="spacingAndGlyphs">10</text><text x="643.32" y="21.52" font-size="8.67" textLength="10.51" lengthAdjust="spacingAndGlyphs">30</text>
<text x="628.00" y="39.78" font-size="12.39" textLength="15.02" lengthAdjust="spacingAndGlyphs">10</text><text x="643.32" y="35.41" font-size="8.67" textLength="10.51" lengthAdjust="spacingAndGlyphs">25</text>
<text x="628.00" y="53.67" font-size="12.39" textLength="15.02" lengthAdjust="spacingAndGlyphs">10</text><text x="643.32" y="49.30" font-size="8.67" textLength="10.51" lengthAdjust="spacingAndGlyphs">20</text>
<text x="628.00" y="67.56" font-size="12.39" textLength="15.02" lengthAdjust="spacingAndGlyphs">10</text><text x="643.32" y="63.19" font-size="8.67" textLength="10.51" lengthAdjust="spacingAndGlyphs">15</text>
<text x="628.00" y="81.44" font-size="12.39" textLength="15.02" lengthAdjust="spacingAndGlyphs">10</text><text x="643.32" y="77.08" font-size="8.67" textLength="10.51" lengthAdjust="spacingAndGlyphs">10</text>
<text x="628.00" y="95.33" font-size="12.39" textLength="15.02" lengthAdjust="spacingAndGlyphs">10</text><text x="643.32" y="90.97" font-size="8.67" textLength="5.26" lengthAdjust="spacingAndGlyphs">5</text>
<text x="628.00" y="109.22" font-size="12.39" textLength="7.51" lengthAdjust="spacingAndGlyphs">1</text>
<text x="628.00" y="123.11" font-size="12.39" textLength="15.02" lengthAdjust="spacingAndGlyphs">10</text><text x="643.32" y="118.75" font-size="8.67" textLength="12.18" lengthAdjust="spacingAndGlyphs">−5</text>
<text x="630.00" y="137.00" font-size="12.39" textLength="9.89" lengthAdjust="spacingAndGlyphs">&lt;</text><text x="641.80" y="137.00" font-size="12.39" textLength="15.02" lengthAdjust="spacingAndGlyphs">10</text><text x="657.12" y="132.63" font-size="8.67" textLength="12.18" lengthAdjust="spacingAndGlyphs">−5</text>
<g transform="translate(683.4 81.7) rotate(-90)"><text x="0.00" y="0.00" font-size="11.172" font-style="italic" textLength="5.60" lengthAdjust="spacingAndGlyphs">τ</text><text x="10.40" y="0.00" font-size="11.97" textLength="14.83" lengthAdjust="spacingAndGlyphs">(s)</text></g>
<text x="630.00" y="186.30" font-size="12.39" textLength="9.89" lengthAdjust="spacingAndGlyphs">&gt;</text><text x="641.80" y="186.30" font-size="12.39" textLength="15.02" lengthAdjust="spacingAndGlyphs">10</text><text x="657.12" y="181.93" font-size="8.67" textLength="10.51" lengthAdjust="spacingAndGlyphs">35</text>
<text x="628.00" y="200.19" font-size="12.39" textLength="15.02" lengthAdjust="spacingAndGlyphs">10</text><text x="643.32" y="195.82" font-size="8.67" textLength="10.51" lengthAdjust="spacingAndGlyphs">30</text>
<text x="628.00" y="214.08" font-size="12.39" textLength="15.02" lengthAdjust="spacingAndGlyphs">10</text><text x="643.32" y="209.71" font-size="8.67" textLength="10.51" lengthAdjust="spacingAndGlyphs">25</text>
<text x="628.00" y="227.97" font-size="12.39" textLength="15.02" lengthAdjust="spacingAndGlyphs">10</text><text x="643.32" y="223.60" font-size="8.67" textLength="10.51" lengthAdjust="spacingAndGlyphs">20</text>
<text x="628.00" y="241.86" font-size="12.39" textLength="15.02" lengthAdjust="spacingAndGlyphs">10</text><text x="643.32" y="237.49" font-size="8.67" textLength="10.51" lengthAdjust="spacingAndGlyphs">15</text>
<text x="628.00" y="255.74" font-size="12.39" textLength="15.02" lengthAdjust="spacingAndGlyphs">10</text><text x="643.32" y="251.38" font-size="8.67" textLength="10.51" lengthAdjust="spacingAndGlyphs">10</text>
<text x="628.00" y="269.63" font-size="12.39" textLength="15.02" lengthAdjust="spacingAndGlyphs">10</text><text x="643.32" y="265.27" font-size="8.67" textLength="5.26" lengthAdjust="spacingAndGlyphs">5</text>
<text x="628.00" y="283.52" font-size="12.39" textLength="7.51" lengthAdjust="spacingAndGlyphs">1</text>
<text x="628.00" y="297.41" font-size="12.39" textLength="15.02" lengthAdjust="spacingAndGlyphs">10</text><text x="643.32" y="293.05" font-size="8.67" textLength="12.18" lengthAdjust="spacingAndGlyphs">−5</text>
<text x="630.00" y="311.30" font-size="12.39" textLength="9.89" lengthAdjust="spacingAndGlyphs">&lt;</text><text x="641.80" y="311.30" font-size="12.39" textLength="15.02" lengthAdjust="spacingAndGlyphs">10</text><text x="657.12" y="306.93" font-size="8.67" textLength="12.18" lengthAdjust="spacingAndGlyphs">−5</text>
<g transform="translate(683.4 256.0) rotate(-90)"><text x="0.00" y="0.00" font-size="11.172" font-style="italic" textLength="5.60" lengthAdjust="spacingAndGlyphs">τ</text><text x="10.40" y="0.00" font-size="11.97" textLength="14.83" lengthAdjust="spacingAndGlyphs">(s)</text></g>
</svg>
</body></html>
